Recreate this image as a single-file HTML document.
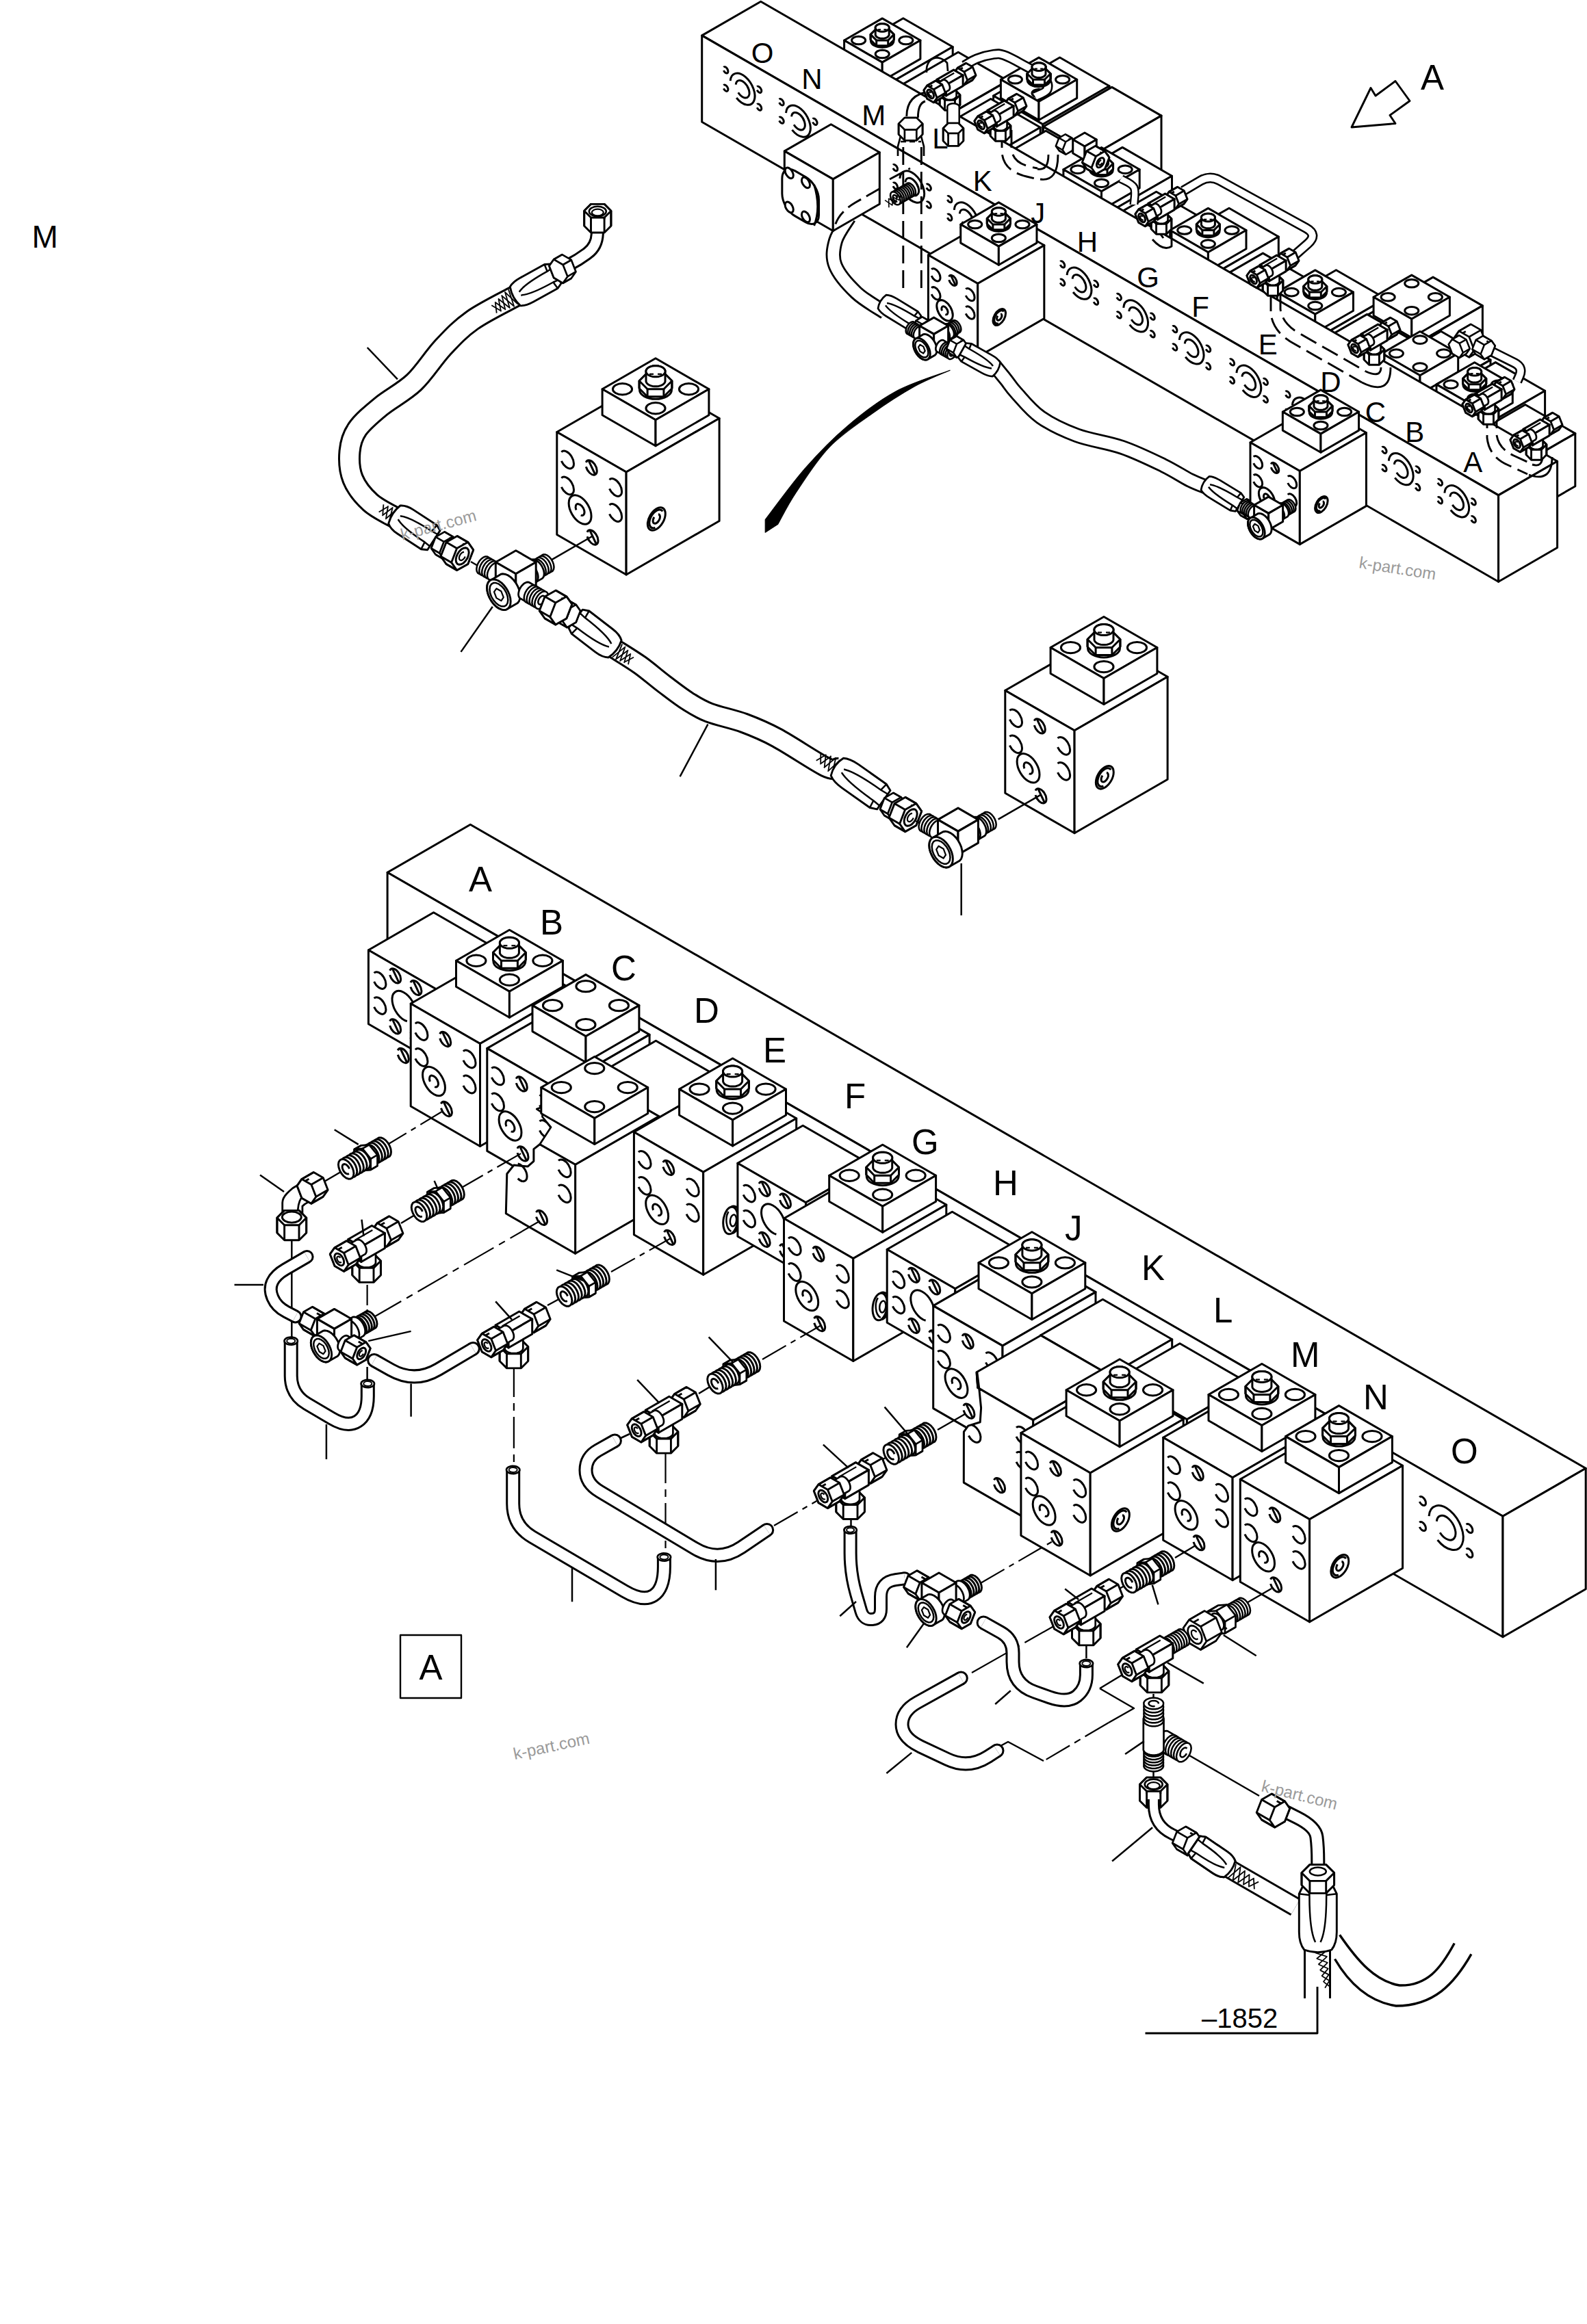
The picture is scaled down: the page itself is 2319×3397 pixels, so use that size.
<!DOCTYPE html>
<html><head><meta charset="utf-8"><title>Hydraulic manifold piping diagram</title>
<style>html,body{margin:0;padding:0;background:#fff}svg{display:block}text{font-family:"Liberation Sans",sans-serif;fill:#000;stroke:none}svg *{vector-effect:non-scaling-stroke}</style></head>
<body>
<svg width="2319" height="3397" viewBox="0 0 2319 3397" fill="#fff" stroke="#000" stroke-width="3" stroke-linejoin="round" stroke-linecap="butt">
<defs><g id="bf"><path d="M7.6 25.4A11.5 11.5 0 1 1 7.6 38.6" fill="none" vector-effect="non-scaling-stroke"/><path d="M7.6 63.4A11.5 11.5 0 1 1 7.6 76.6" fill="none" vector-effect="non-scaling-stroke"/><path d="M88.6 25.4A11.5 11.5 0 1 1 88.6 38.6" fill="none" vector-effect="non-scaling-stroke"/><path d="M88.6 62.4A11.5 11.5 0 1 1 88.6 75.6" fill="none" vector-effect="non-scaling-stroke"/><path d="M49.1 19.8A9.5 9.5 0 1 1 49.1 26.2" fill="none" vector-effect="non-scaling-stroke"/><path d="M54 15.6L64 29" fill="none" vector-effect="non-scaling-stroke"/><path d="M51.1 120.8A9.5 9.5 0 1 1 51.1 127.2" fill="none" vector-effect="non-scaling-stroke"/><path d="M56 116.6L66 130" fill="none" vector-effect="non-scaling-stroke"/><circle cx="39" cy="94" r="19" fill="#fff" vector-effect="non-scaling-stroke"/><path d="M32.5 97.8A7.5 7.5 0 1 1 40.3 101.4" fill="none" vector-effect="non-scaling-stroke"/></g><g id="br"><circle cx="51" cy="94" r="15" fill="#fff" vector-effect="non-scaling-stroke"/><path d="M48.9 105.8A12 12 0 1 1 61.4 88" fill="none" vector-effect="non-scaling-stroke"/><path d="M54 88.8A6 6 0 1 1 47.1 89.4" fill="none" vector-effect="non-scaling-stroke"/></g><g id="c3"><circle cx="17" cy="17" r="11.5" fill="none" vector-effect="non-scaling-stroke"/><circle cx="73" cy="73" r="11.5" fill="none" vector-effect="non-scaling-stroke"/><circle cx="73" cy="17" r="11.5" fill="none" vector-effect="non-scaling-stroke"/></g><g id="c4"><circle cx="17" cy="17" r="11.5" fill="none" vector-effect="non-scaling-stroke"/><circle cx="73" cy="73" r="11.5" fill="none" vector-effect="non-scaling-stroke"/><circle cx="73" cy="17" r="11.5" fill="none" vector-effect="non-scaling-stroke"/><circle cx="17" cy="73" r="11.5" fill="none" vector-effect="non-scaling-stroke"/></g><g id="ff"><path d="M9.5 28.7A11 11 0 1 1 9.5 41.3" fill="none" vector-effect="non-scaling-stroke"/><path d="M9.5 65.7A11 11 0 1 1 9.5 78.3" fill="none" vector-effect="non-scaling-stroke"/><path d="M36.1 11.8A9.5 9.5 0 1 1 36.1 18.2" fill="none" vector-effect="non-scaling-stroke"/><path d="M41 7.6L51 21" fill="none" vector-effect="non-scaling-stroke"/><path d="M71.1 11.8A9.5 9.5 0 1 1 71.1 18.2" fill="none" vector-effect="non-scaling-stroke"/><path d="M76 7.6L86 21" fill="none" vector-effect="non-scaling-stroke"/><path d="M36.1 85.8A9.5 9.5 0 1 1 36.1 92.2" fill="none" vector-effect="non-scaling-stroke"/><path d="M41 81.6L51 95" fill="none" vector-effect="non-scaling-stroke"/><path d="M71.1 85.8A9.5 9.5 0 1 1 71.1 92.2" fill="none" vector-effect="non-scaling-stroke"/><path d="M76 81.6L86 95" fill="none" vector-effect="non-scaling-stroke"/><path d="M65.2 71.3A20 20 0 1 1 79.9 53.7" fill="none" vector-effect="non-scaling-stroke"/></g><g id="ps"><path d="M-28.9 -2.5A29 29 0 1 1 -14.5 25.1" fill="none"/><path d="M-15.9 -1.4A16 16 0 1 1 -10.3 12.3" fill="none"/><path d="M-44.8 -22.3A5.8 5.8 0 1 1 -44.8 -15.7" fill="none" vector-effect="non-scaling-stroke"/><path d="M-44.8 14.7A5.8 5.8 0 1 1 -44.8 21.3" fill="none" vector-effect="non-scaling-stroke"/><path d="M34.2 -21.8A5.8 5.8 0 1 1 34.2 -15.2" fill="none" vector-effect="non-scaling-stroke"/><path d="M34.2 14.2A5.8 5.8 0 1 1 34.2 20.8" fill="none" vector-effect="non-scaling-stroke"/></g></defs>
<rect x="0" y="0" width="2319" height="3397" fill="#fff" stroke="none"/>
<polygon points="566.1,1275.3 2196,2216.3 2317.2,2146.3 687.3,1205.3"/>
<polygon points="566.1,1275.3 2196,2216.3 2196,2392.8 566.1,1451.8"/>
<polygon points="2196,2216.3 2317.2,2146.3 2317.2,2322.8 2196,2392.8"/>
<polygon points="538.4,1388.8 640.6,1447.8 735.8,1392.8 633.6,1333.8"/>
<polygon points="538.4,1388.8 640.6,1447.8 640.6,1555.8 538.4,1496.8"/>
<polygon points="640.6,1447.8 735.8,1392.8 735.8,1500.8 640.6,1555.8"/>
<use href="#ff" transform="matrix(0.866 0.5 0 1 538.3872 1388.8)"/>
<g transform="matrix(0.866 0.5 0 1 589 1543)"><path d="M-8.9 -3.2A9.5 9.5 0 1 1 -8.9 3.2" fill="none" vector-effect="non-scaling-stroke"/><path d="M-4 -7.4L6 6" fill="none" vector-effect="non-scaling-stroke"/></g>
<polygon points="600.2,1467 701.5,1525.5 837.5,1447 736.2,1388.5"/>
<polygon points="600.2,1467 701.5,1525.5 701.5,1675.5 600.2,1617"/>
<polygon points="701.5,1525.5 837.5,1447 837.5,1597 701.5,1675.5"/>
<use href="#bf" transform="matrix(0.866 0.5 0 1 600.2214 1467)"/>
<polygon points="666.5,1404.2 744.4,1449.2 822.4,1404.2 744.4,1359.2"/>
<polygon points="666.5,1404.2 744.4,1449.2 744.4,1487.2 666.5,1442.2"/>
<polygon points="744.4,1449.2 822.4,1404.2 822.4,1442.2 744.4,1487.2"/>
<use href="#c3" transform="matrix(0.866 0.5 0.866 -0.5 666.4723 1404.25)"/>
<ellipse cx="744.4" cy="1405.2" rx="23.5" ry="13.5"/>
<polygon points="720.5,1392.2 732.5,1380.3 756.4,1380.3 768.3,1392.2 768.3,1403.2 756.4,1415.2 732.5,1415.2 720.5,1403.2"/>
<path d="M768.3 1403.2L768.3 1392.2"/>
<path d="M720.5 1403.2L720.5 1392.2"/>
<path d="M732.5 1415.2L732.5 1404.2"/>
<path d="M756.4 1415.2L756.4 1404.2"/>
<polygon points="768.3,1392.2 756.4,1380.3 732.5,1380.3 720.5,1392.2 732.5,1404.2 756.4,1404.2"/>
<polygon points="730.4,1377.3 731.1,1375.6 732.5,1373.9 734.5,1372.5 736.9,1371.4 739.8,1370.6 742.8,1370.2 746,1370.2 749.1,1370.6 751.9,1371.4 754.4,1372.5 756.3,1373.9 757.7,1375.6 758.4,1377.3 758.4,1393.2 757.7,1394.9 756.3,1396.6 754.4,1398 751.9,1399.1 749.1,1399.9 746,1400.3 742.8,1400.3 739.8,1399.9 736.9,1399.1 734.5,1398 732.5,1396.6 731.1,1394.9 730.4,1393.2"/>
<polygon points="754.4,1384 756.3,1382.6 757.7,1380.9 758.4,1379.2 758.4,1377.3 757.7,1375.6 756.3,1373.9 754.4,1372.5 751.9,1371.4 749.1,1370.6 746,1370.2 742.8,1370.2 739.8,1370.6 736.9,1371.4 734.5,1372.5 732.5,1373.9 731.1,1375.6 730.4,1377.3 730.4,1379.2 731.1,1380.9 732.5,1382.6 734.5,1384 736.9,1385.1 739.8,1385.9 742.8,1386.3 746,1386.3 749.1,1385.9 751.9,1385.1"/>
<path d="M735.4 1382.2L741.4 1382.2" stroke-width="2.2"/>
<path d="M747.4 1382.2L753.4 1382.2" stroke-width="2.2"/>
<polygon points="711.8,1532.4 813.1,1590.9 949.1,1512.4 847.7,1453.9"/>
<polygon points="711.8,1532.4 813.1,1590.9 813.1,1740.9 711.8,1682.4"/>
<polygon points="813.1,1590.9 949.1,1512.4 949.1,1662.4 813.1,1740.9"/>
<use href="#bf" transform="matrix(0.866 0.5 0 1 711.7655 1532.4)"/>
<polygon points="778,1469.6 856,1514.7 933.9,1469.6 856,1424.6"/>
<polygon points="778,1469.6 856,1514.7 856,1552.7 778,1507.6"/>
<polygon points="856,1514.7 933.9,1469.6 933.9,1507.6 856,1552.7"/>
<use href="#c4" transform="matrix(0.866 0.5 0.866 -0.5 778.0164 1469.65)"/>
<polygon points="864.9,1575.3 964.5,1632.8 1058,1578.8 958.4,1521.3"/>
<polygon points="864.9,1575.3 964.5,1632.8 964.5,1739.8 864.9,1682.3"/>
<polygon points="964.5,1632.8 1058,1578.8 1058,1685.8 964.5,1739.8"/>
<polygon points="840.6,1702.3 962.7,1631.8 962.7,1761.8 840.6,1832.3"/>
<polygon points="788.7,1672.8 840.6,1702.3 962.7,1631.8 869.2,1628.8 792.5,1632.5 805.1,1647.6" stroke="none"/>
<polyline points="788.7,1672.8 840.6,1702.3 962.7,1631.8" fill="none"/>
<polyline points="788.7,1672.8 805.1,1647.6 792.5,1632.5 792.5,1626.7 784.2,1621.1 795.8,1616.9" fill="none" stroke-width="2.7"/>
<polygon points="740.8,1715.7 750.9,1703.1 771.1,1705.1 779.9,1697.3 779.9,1679.6 788.7,1672.8 840.6,1702.3 840.6,1832.3 739.3,1773.8"/>
<g transform="matrix(0.866 0.5 0 1 739.3051 1643.8)"><path d="M88.6 8.4A11.5 11.5 0 1 1 88.6 21.6" fill="none" vector-effect="non-scaling-stroke"/><path d="M88.6 45.4A11.5 11.5 0 1 1 88.6 58.6" fill="none" vector-effect="non-scaling-stroke"/><path d="M51.1 102.8A9.5 9.5 0 1 1 51.1 109.2" fill="none" vector-effect="non-scaling-stroke"/><path d="M56 98.6L66 112" fill="none" vector-effect="non-scaling-stroke"/><path d="M20.1 47.2A11.5 11.5 0 1 1 20.1 68.8" fill="none" vector-effect="non-scaling-stroke"/></g>
<polygon points="790.8,1589.5 868.8,1634.5 946.7,1589.5 868.8,1544.5"/>
<polygon points="790.8,1589.5 868.8,1634.5 868.8,1672.5 790.8,1627.5"/>
<polygon points="868.8,1634.5 946.7,1589.5 946.7,1627.5 868.8,1672.5"/>
<use href="#c4" transform="matrix(0.866 0.5 0.866 -0.5 790.8336 1589.55)"/>
<polygon points="926.4,1654.8 1027.7,1713.3 1163.7,1634.8 1062.3,1576.3"/>
<polygon points="926.4,1654.8 1027.7,1713.3 1027.7,1863.3 926.4,1804.8"/>
<polygon points="1027.7,1713.3 1163.7,1634.8 1163.7,1784.8 1027.7,1863.3"/>
<use href="#bf" transform="matrix(0.866 0.5 0 1 926.3666 1654.8)"/>
<polygon points="992.6,1592 1070.6,1637 1148.5,1592 1070.6,1547"/>
<polygon points="992.6,1592 1070.6,1637 1070.6,1675 992.6,1630"/>
<polygon points="1070.6,1637 1148.5,1592 1148.5,1630 1070.6,1675"/>
<use href="#c3" transform="matrix(0.866 0.5 0.866 -0.5 992.6175 1592.05)"/>
<ellipse cx="1070.6" cy="1593" rx="23.5" ry="13.5"/>
<polygon points="1046.7,1580 1058.6,1568.1 1082.5,1568.1 1094.4,1580 1094.4,1591 1082.5,1603 1058.6,1603 1046.7,1591"/>
<path d="M1094.4 1591L1094.4 1580"/>
<path d="M1046.7 1591L1046.7 1580"/>
<path d="M1058.6 1603L1058.6 1592"/>
<path d="M1082.5 1603L1082.5 1592"/>
<polygon points="1094.4,1580 1082.5,1568.1 1058.6,1568.1 1046.7,1580 1058.6,1592 1082.5,1592"/>
<polygon points="1056.6,1565.1 1057.3,1563.4 1058.6,1561.7 1060.6,1560.3 1063.1,1559.2 1065.9,1558.4 1069,1558 1072.1,1558 1075.2,1558.4 1078,1559.2 1080.5,1560.3 1082.5,1561.7 1083.8,1563.4 1084.6,1565.1 1084.6,1581 1083.8,1582.7 1082.5,1584.4 1080.5,1585.8 1078,1586.9 1075.2,1587.7 1072.1,1588.1 1069,1588.1 1065.9,1587.7 1063.1,1586.9 1060.6,1585.8 1058.6,1584.4 1057.3,1582.7 1056.6,1581"/>
<polygon points="1080.5,1571.8 1082.5,1570.4 1083.9,1568.7 1084.6,1567 1084.6,1565.1 1083.9,1563.4 1082.5,1561.7 1080.5,1560.3 1078.1,1559.2 1075.2,1558.4 1072.1,1558 1069,1558 1065.9,1558.4 1063.1,1559.2 1060.6,1560.3 1058.6,1561.7 1057.3,1563.4 1056.6,1565.1 1056.6,1567 1057.3,1568.7 1058.6,1570.4 1060.6,1571.8 1063.1,1572.9 1065.9,1573.7 1069,1574.1 1072.1,1574.1 1075.2,1573.7 1078.1,1572.9"/>
<path d="M1061.6 1570L1067.6 1570" stroke-width="2.2"/>
<path d="M1073.6 1570L1079.6 1570" stroke-width="2.2"/>
<ellipse cx="1070.5" cy="1783" rx="11" ry="20" transform="rotate(8 1070.5 1783)"/>
<ellipse cx="1067.5" cy="1784" rx="10.5" ry="20" transform="rotate(8 1067.5 1784)"/>
<path d="M1064.5 1771C1059.5 1779 1060.5 1796 1068.5 1800" fill="none" stroke-width="2.5"/>
<ellipse cx="1071.5" cy="1784" rx="4.5" ry="8.5" stroke-width="2.5" transform="rotate(8 1071.5 1784)"/>
<polygon points="1077.9,1700.3 1177.5,1757.8 1272.8,1702.8 1173.2,1645.3"/>
<polygon points="1077.9,1700.3 1177.5,1757.8 1177.5,1864.8 1077.9,1807.3"/>
<polygon points="1177.5,1757.8 1272.8,1702.8 1272.8,1809.8 1177.5,1864.8"/>
<use href="#ff" transform="matrix(0.866 0.5 0 1 1077.921 1700.3)"/>
<polygon points="1145.5,1781 1246.8,1839.5 1382.8,1761 1281.4,1702.5"/>
<polygon points="1145.5,1781 1246.8,1839.5 1246.8,1989.5 1145.5,1931"/>
<polygon points="1246.8,1839.5 1382.8,1761 1382.8,1911 1246.8,1989.5"/>
<use href="#bf" transform="matrix(0.866 0.5 0 1 1145.471 1781)"/>
<polygon points="1211.7,1718.2 1289.7,1763.2 1367.6,1718.2 1289.7,1673.2"/>
<polygon points="1211.7,1718.2 1289.7,1763.2 1289.7,1801.2 1211.7,1756.2"/>
<polygon points="1289.7,1763.2 1367.6,1718.2 1367.6,1756.2 1289.7,1801.2"/>
<use href="#c3" transform="matrix(0.866 0.5 0.866 -0.5 1211.7219 1718.25)"/>
<ellipse cx="1289.7" cy="1719.2" rx="23.5" ry="13.5"/>
<polygon points="1265.8,1706.2 1277.7,1694.3 1301.6,1694.3 1313.5,1706.2 1313.5,1717.2 1301.6,1729.2 1277.7,1729.2 1265.8,1717.2"/>
<path d="M1313.5 1717.2L1313.5 1706.2"/>
<path d="M1265.8 1717.2L1265.8 1706.2"/>
<path d="M1277.7 1729.2L1277.7 1718.2"/>
<path d="M1301.6 1729.2L1301.6 1718.2"/>
<polygon points="1313.5,1706.2 1301.6,1694.3 1277.7,1694.3 1265.8,1706.2 1277.7,1718.2 1301.6,1718.2"/>
<polygon points="1275.7,1691.3 1276.4,1689.6 1277.7,1687.9 1279.7,1686.5 1282.2,1685.4 1285,1684.6 1288.1,1684.2 1291.2,1684.2 1294.3,1684.6 1297.2,1685.4 1299.6,1686.5 1301.6,1687.9 1303,1689.6 1303.7,1691.3 1303.7,1707.2 1303,1708.9 1301.6,1710.6 1299.6,1712 1297.2,1713.1 1294.3,1713.9 1291.2,1714.3 1288.1,1714.3 1285,1713.9 1282.2,1713.1 1279.7,1712 1277.7,1710.6 1276.4,1708.9 1275.7,1707.2"/>
<polygon points="1299.6,1698 1301.6,1696.6 1303,1694.9 1303.7,1693.2 1303.7,1691.3 1303,1689.6 1301.6,1687.9 1299.6,1686.5 1297.2,1685.4 1294.3,1684.6 1291.2,1684.2 1288.1,1684.2 1285,1684.6 1282.2,1685.4 1279.7,1686.5 1277.7,1687.9 1276.4,1689.6 1275.7,1691.3 1275.7,1693.2 1276.4,1694.9 1277.7,1696.6 1279.7,1698 1282.2,1699.1 1285,1699.9 1288.1,1700.3 1291.2,1700.3 1294.3,1699.9 1297.2,1699.1"/>
<path d="M1280.7 1696.2L1286.7 1696.2" stroke-width="2.2"/>
<path d="M1292.7 1696.2L1298.7 1696.2" stroke-width="2.2"/>
<ellipse cx="1288.8" cy="1909" rx="11" ry="20" transform="rotate(8 1288.8 1909)"/>
<ellipse cx="1285.8" cy="1910" rx="10.5" ry="20" transform="rotate(8 1285.8 1910)"/>
<path d="M1282.8 1897C1277.8 1905 1278.8 1922 1286.8 1926" fill="none" stroke-width="2.5"/>
<ellipse cx="1289.8" cy="1910" rx="4.5" ry="8.5" stroke-width="2.5" transform="rotate(8 1289.8 1910)"/>
<polygon points="1296.2,1826.3 1395.8,1883.8 1491,1828.8 1391.4,1771.3"/>
<polygon points="1296.2,1826.3 1395.8,1883.8 1395.8,1990.8 1296.2,1933.3"/>
<polygon points="1395.8,1883.8 1491,1828.8 1491,1935.8 1395.8,1990.8"/>
<use href="#ff" transform="matrix(0.866 0.5 0 1 1296.1594 1826.3)"/>
<polygon points="1363.7,1908.6 1465,1967.1 1601,1888.6 1499.7,1830.1"/>
<polygon points="1363.7,1908.6 1465,1967.1 1465,2117.1 1363.7,2058.6"/>
<polygon points="1465,1967.1 1601,1888.6 1601,2038.6 1465,2117.1"/>
<use href="#bf" transform="matrix(0.866 0.5 0 1 1363.7094 1908.6)"/>
<polygon points="1430,1845.8 1507.9,1890.8 1585.8,1845.8 1507.9,1800.8"/>
<polygon points="1430,1845.8 1507.9,1890.8 1507.9,1928.8 1430,1883.8"/>
<polygon points="1507.9,1890.8 1585.8,1845.8 1585.8,1883.8 1507.9,1928.8"/>
<use href="#c3" transform="matrix(0.866 0.5 0.866 -0.5 1429.9603 1845.85)"/>
<ellipse cx="1507.9" cy="1846.8" rx="23.5" ry="13.5"/>
<polygon points="1484,1833.8 1496,1821.9 1519.8,1821.9 1531.8,1833.8 1531.8,1844.8 1519.8,1856.8 1496,1856.8 1484,1844.8"/>
<path d="M1531.8 1844.8L1531.8 1833.8"/>
<path d="M1484 1844.8L1484 1833.8"/>
<path d="M1496 1856.8L1496 1845.8"/>
<path d="M1519.8 1856.8L1519.8 1845.8"/>
<polygon points="1531.8,1833.8 1519.8,1821.9 1496,1821.9 1484,1833.8 1496,1845.8 1519.8,1845.8"/>
<polygon points="1493.9,1818.9 1494.6,1817.2 1496,1815.5 1497.9,1814.1 1500.4,1813 1503.2,1812.2 1506.3,1811.8 1509.5,1811.8 1512.5,1812.2 1515.4,1813 1517.9,1814.1 1519.8,1815.5 1521.2,1817.2 1521.9,1818.9 1521.9,1834.8 1521.2,1836.5 1519.8,1838.2 1517.9,1839.6 1515.4,1840.7 1512.5,1841.5 1509.5,1841.9 1506.3,1841.9 1503.2,1841.5 1500.4,1840.7 1497.9,1839.6 1496,1838.2 1494.6,1836.5 1493.9,1834.8"/>
<polygon points="1517.9,1825.6 1519.8,1824.2 1521.2,1822.5 1521.9,1820.8 1521.9,1818.9 1521.2,1817.2 1519.8,1815.5 1517.9,1814.1 1515.4,1813 1512.6,1812.2 1509.5,1811.8 1506.3,1811.8 1503.3,1812.2 1500.4,1813 1497.9,1814.1 1496,1815.5 1494.6,1817.2 1493.9,1818.9 1493.9,1820.8 1494.6,1822.5 1496,1824.2 1497.9,1825.6 1500.4,1826.7 1503.3,1827.5 1506.3,1827.9 1509.5,1827.9 1512.6,1827.5 1515.4,1826.7"/>
<path d="M1498.9 1823.8L1504.9 1823.8" stroke-width="2.2"/>
<path d="M1510.9 1823.8L1516.9 1823.8" stroke-width="2.2"/>
<polygon points="1520.5,1951.8 1621.8,2010.3 1712.7,1957.8 1611.4,1899.3"/>
<polygon points="1520.5,1951.8 1621.8,2010.3 1621.8,2117.3 1520.5,2058.8"/>
<polygon points="1621.8,2010.3 1712.7,1957.8 1712.7,2064.8 1621.8,2117.3"/>
<polygon points="1509.6,2075.6 1622.2,2010.5 1622.2,2160.6 1509.6,2225.6"/>
<polygon points="1427,2005.8 1428.7,2028.4 1509.6,2075.6 1622.2,2010.5 1520.9,1952"/>
<polygon points="1408.4,2092.8 1414.8,2084.1 1432.2,2078.8 1433.6,2058 1430.7,2029 1427.8,2005.8 1428.7,2028.4 1509.6,2075.6 1509.6,2225.6 1408.3,2167.1"/>
<polyline points="1428.7,2028.4 1427,2005.8" fill="none" stroke-width="2.7"/>
<g transform="matrix(0.866 0.5 0 1 1408.3097 2017.05)"><path d="M13.1 59.2A11.5 11.5 0 1 1 8.2 77.4" fill="none" vector-effect="non-scaling-stroke"/><path d="M88.6 25.4A11.5 11.5 0 1 1 88.6 38.6" fill="none" vector-effect="non-scaling-stroke"/><path d="M88.6 62.4A11.5 11.5 0 1 1 88.6 75.6" fill="none" vector-effect="non-scaling-stroke"/><path d="M51.1 120.8A9.5 9.5 0 1 1 51.1 127.2" fill="none" vector-effect="non-scaling-stroke"/><path d="M56 116.6L66 130" fill="none" vector-effect="non-scaling-stroke"/></g>
<polygon points="1633,2016.3 1734.4,2074.8 1825.3,2022.3 1724,1963.8"/>
<polygon points="1633,2016.3 1734.4,2074.8 1734.4,2181.8 1633,2123.3"/>
<polygon points="1734.4,2074.8 1825.3,2022.3 1825.3,2129.3 1734.4,2181.8"/>
<polygon points="1491.9,2094.5 1593.2,2153 1729.2,2074.5 1627.8,2016"/>
<polygon points="1491.9,2094.5 1593.2,2153 1593.2,2303 1491.9,2244.5"/>
<polygon points="1593.2,2153 1729.2,2074.5 1729.2,2224.5 1593.2,2303"/>
<use href="#bf" transform="matrix(0.866 0.5 0 1 1491.8812 2094.5)"/>
<use href="#br" transform="matrix(0.866 -0.5 0 1 1593.2061 2153)"/>
<polygon points="1558.1,2031.8 1636.1,2076.8 1714,2031.8 1636.1,1986.8"/>
<polygon points="1558.1,2031.8 1636.1,2076.8 1636.1,2114.8 1558.1,2069.8"/>
<polygon points="1636.1,2076.8 1714,2031.8 1714,2069.8 1636.1,2114.8"/>
<use href="#c3" transform="matrix(0.866 0.5 0.866 -0.5 1558.1321 2031.75)"/>
<ellipse cx="1636.1" cy="2032.8" rx="23.5" ry="13.5"/>
<polygon points="1612.2,2019.8 1624.1,2007.8 1648,2007.8 1660,2019.8 1660,2030.8 1648,2042.7 1624.1,2042.7 1612.2,2030.8"/>
<path d="M1660 2030.8L1660 2019.8"/>
<path d="M1612.2 2030.8L1612.2 2019.8"/>
<path d="M1624.1 2042.7L1624.1 2031.7"/>
<path d="M1648 2042.7L1648 2031.7"/>
<polygon points="1660,2019.8 1648,2007.8 1624.1,2007.8 1612.2,2019.8 1624.1,2031.7 1648,2031.7"/>
<polygon points="1622.1,2004.8 1622.8,2003.1 1624.2,2001.4 1626.1,2000 1628.6,1998.9 1631.4,1998.1 1634.5,1997.7 1637.7,1997.7 1640.7,1998.1 1643.6,1998.9 1646,2000 1648,2001.4 1649.4,2003.1 1650.1,2004.8 1650.1,2020.7 1649.4,2022.4 1648,2024.1 1646,2025.5 1643.6,2026.6 1640.7,2027.4 1637.7,2027.8 1634.5,2027.8 1631.4,2027.4 1628.6,2026.6 1626.1,2025.5 1624.2,2024.1 1622.8,2022.4 1622.1,2020.7"/>
<polygon points="1646,2011.5 1648,2010.1 1649.4,2008.4 1650.1,2006.7 1650.1,2004.8 1649.4,2003.1 1648,2001.4 1646,2000 1643.6,1998.9 1640.7,1998.1 1637.7,1997.7 1634.5,1997.7 1631.4,1998.1 1628.6,1998.9 1626.1,2000 1624.1,2001.4 1622.8,2003.1 1622.1,2004.8 1622.1,2006.7 1622.8,2008.4 1624.1,2010.1 1626.1,2011.5 1628.6,2012.6 1631.4,2013.4 1634.5,2013.8 1637.7,2013.8 1640.7,2013.4 1643.6,2012.6"/>
<path d="M1627.1 2009.8L1633.1 2009.8" stroke-width="2.2"/>
<path d="M1639.1 2009.8L1645.1 2009.8" stroke-width="2.2"/>
<polygon points="1699.7,2101.2 1801.1,2159.7 1937,2081.2 1835.7,2022.7"/>
<polygon points="1699.7,2101.2 1801.1,2159.7 1801.1,2309.7 1699.7,2251.2"/>
<polygon points="1801.1,2159.7 1937,2081.2 1937,2231.2 1801.1,2309.7"/>
<use href="#bf" transform="matrix(0.866 0.5 0 1 1699.7272 2101.2)"/>
<polygon points="1766,2038.5 1843.9,2083.5 1921.9,2038.5 1843.9,1993.5"/>
<polygon points="1766,2038.5 1843.9,2083.5 1843.9,2121.5 1766,2076.5"/>
<polygon points="1843.9,2083.5 1921.9,2038.5 1921.9,2076.5 1843.9,2121.5"/>
<use href="#c3" transform="matrix(0.866 0.5 0.866 -0.5 1765.9782 2038.45)"/>
<ellipse cx="1843.9" cy="2039.5" rx="23.5" ry="13.5"/>
<polygon points="1820,2026.5 1832,2014.5 1855.9,2014.5 1867.8,2026.5 1867.8,2037.5 1855.9,2049.4 1832,2049.4 1820,2037.5"/>
<path d="M1867.8 2037.5L1867.8 2026.5"/>
<path d="M1820 2037.5L1820 2026.5"/>
<path d="M1832 2049.4L1832 2038.4"/>
<path d="M1855.9 2049.4L1855.9 2038.4"/>
<polygon points="1867.8,2026.5 1855.9,2014.5 1832,2014.5 1820,2026.5 1832,2038.4 1855.9,2038.4"/>
<polygon points="1829.9,2011.5 1830.6,2009.8 1832,2008.1 1834,2006.7 1836.4,2005.6 1839.3,2004.8 1842.3,2004.4 1845.5,2004.4 1848.6,2004.8 1851.4,2005.6 1853.9,2006.7 1855.8,2008.1 1857.2,2009.8 1857.9,2011.5 1857.9,2027.4 1857.2,2029.1 1855.8,2030.8 1853.9,2032.2 1851.4,2033.3 1848.6,2034.1 1845.5,2034.5 1842.3,2034.5 1839.3,2034.1 1836.4,2033.3 1834,2032.2 1832,2030.8 1830.6,2029.1 1829.9,2027.4"/>
<polygon points="1853.9,2018.2 1855.8,2016.8 1857.2,2015.1 1857.9,2013.4 1857.9,2011.5 1857.2,2009.8 1855.8,2008.1 1853.9,2006.7 1851.4,2005.6 1848.6,2004.8 1845.5,2004.4 1842.3,2004.4 1839.3,2004.8 1836.4,2005.6 1834,2006.7 1832,2008.1 1830.6,2009.8 1829.9,2011.5 1829.9,2013.4 1830.6,2015.1 1832,2016.8 1834,2018.2 1836.4,2019.3 1839.3,2020.1 1842.3,2020.5 1845.5,2020.5 1848.6,2020.1 1851.4,2019.3"/>
<path d="M1834.9 2016.5L1840.9 2016.5" stroke-width="2.2"/>
<path d="M1846.9 2016.5L1852.9 2016.5" stroke-width="2.2"/>
<polygon points="1812.3,2162.3 1913.6,2220.8 2049.6,2142.3 1948.3,2083.8"/>
<polygon points="1812.3,2162.3 1913.6,2220.8 1913.6,2370.8 1812.3,2312.3"/>
<polygon points="1913.6,2220.8 2049.6,2142.3 2049.6,2292.3 1913.6,2370.8"/>
<use href="#bf" transform="matrix(0.866 0.5 0 1 1812.3106 2162.3)"/>
<use href="#br" transform="matrix(0.866 -0.5 0 1 1913.6355 2220.8)"/>
<polygon points="1878.6,2099.6 1956.5,2144.6 2034.4,2099.6 1956.5,2054.6"/>
<polygon points="1878.6,2099.6 1956.5,2144.6 1956.5,2182.6 1878.6,2137.6"/>
<polygon points="1956.5,2144.6 2034.4,2099.6 2034.4,2137.6 1956.5,2182.6"/>
<use href="#c3" transform="matrix(0.866 0.5 0.866 -0.5 1878.5615 2099.55)"/>
<ellipse cx="1956.5" cy="2100.6" rx="23.5" ry="13.5"/>
<polygon points="1932.6,2087.6 1944.6,2075.6 1968.5,2075.6 1980.4,2087.6 1980.4,2098.6 1968.5,2110.5 1944.6,2110.5 1932.6,2098.6"/>
<path d="M1980.4 2098.6L1980.4 2087.6"/>
<path d="M1932.6 2098.6L1932.6 2087.6"/>
<path d="M1944.6 2110.5L1944.6 2099.5"/>
<path d="M1968.4 2110.5L1968.4 2099.5"/>
<polygon points="1980.4,2087.6 1968.4,2075.6 1944.6,2075.6 1932.6,2087.6 1944.6,2099.5 1968.4,2099.5"/>
<polygon points="1942.5,2072.6 1943.2,2070.9 1944.6,2069.2 1946.5,2067.8 1949,2066.7 1951.8,2065.9 1954.9,2065.5 1958.1,2065.5 1961.2,2065.9 1964,2066.7 1966.5,2067.8 1968.4,2069.2 1969.8,2070.9 1970.5,2072.6 1970.5,2088.5 1969.8,2090.2 1968.4,2091.9 1966.5,2093.3 1964,2094.4 1961.2,2095.2 1958.1,2095.6 1954.9,2095.6 1951.8,2095.2 1949,2094.4 1946.5,2093.3 1944.6,2091.9 1943.2,2090.2 1942.5,2088.5"/>
<polygon points="1966.5,2079.3 1968.4,2077.9 1969.8,2076.2 1970.5,2074.5 1970.5,2072.6 1969.8,2070.9 1968.4,2069.2 1966.5,2067.8 1964,2066.7 1961.2,2065.9 1958.1,2065.5 1954.9,2065.5 1951.9,2065.9 1949,2066.7 1946.5,2067.8 1944.6,2069.2 1943.2,2070.9 1942.5,2072.6 1942.5,2074.5 1943.2,2076.2 1944.6,2077.9 1946.5,2079.3 1949,2080.4 1951.9,2081.2 1954.9,2081.6 1958.1,2081.6 1961.2,2081.2 1964,2080.4"/>
<path d="M1947.5 2077.6L1953.5 2077.6" stroke-width="2.2"/>
<path d="M1959.5 2077.6L1965.5 2077.6" stroke-width="2.2"/>
<use href="#ps" transform="matrix(0.866 0.5 0 1 2113.1 2233.1)"/>
<text x="685" y="1303" font-size="51" text-anchor="start">A</text>
<text x="789" y="1365.5" font-size="51" text-anchor="start">B</text>
<text x="893" y="1433" font-size="51" text-anchor="start">C</text>
<text x="1014" y="1495" font-size="51" text-anchor="start">D</text>
<text x="1115" y="1553" font-size="51" text-anchor="start">E</text>
<text x="1234" y="1620" font-size="51" text-anchor="start">F</text>
<text x="1332" y="1686.5" font-size="51" text-anchor="start">G</text>
<text x="1451" y="1747" font-size="51" text-anchor="start">H</text>
<text x="1556" y="1813" font-size="51" text-anchor="start">J</text>
<text x="1668" y="1871" font-size="51" text-anchor="start">K</text>
<text x="1773" y="1933" font-size="51" text-anchor="start">L</text>
<text x="1886" y="1998" font-size="51" text-anchor="start">M</text>
<text x="1992" y="2060" font-size="51" text-anchor="start">N</text>
<text x="2120" y="2139" font-size="51" text-anchor="start">O</text>
<path d="M563 1675L652.2 1621" stroke-width="2.2" stroke-dasharray="36 8 8 8"/>
<path d="M474 1727L503 1710" stroke-width="2.5"/>
<path d="M671 1738L770 1681" stroke-width="2.2" stroke-dasharray="40 8 8 8"/>
<path d="M586 1788L611 1773" stroke-width="2.5"/>
<path d="M543 1927L792 1783" stroke-width="2.2" stroke-dasharray="50 9 10 9"/>
<path d="M426.3 1808L426.3 1958" stroke-width="2.5"/>
<path d="M536.6 1878L536.6 1925" stroke-width="2.2" stroke-dasharray="30 6 6 6"/>
<path d="M536.6 1998L536.6 2018" stroke-width="2.5"/>
<path d="M893 1859L980 1810" stroke-width="2.2" stroke-dasharray="40 8 8 8"/>
<path d="M800 1908L824 1895" stroke-width="2.5"/>
<path d="M750.9 1996L750.9 2142" stroke-width="2.2" stroke-dasharray="46 9 11 9"/>
<path d="M1114 1987L1200 1937" stroke-width="2.2" stroke-dasharray="40 8 8 8"/>
<path d="M1021 2037L1044 2023" stroke-width="2.5"/>
<path d="M905 2103L920 2096" stroke-width="2.5"/>
<path d="M972.5 2122L972.5 2272" stroke-width="2.2" stroke-dasharray="46 9 11 9"/>
<path d="M1370 2090L1410 2067" stroke-width="2.5"/>
<path d="M1290 2133L1303 2126" stroke-width="2.5"/>
<path d="M1131 2230L1195 2193" stroke-width="2.2" stroke-dasharray="40 8 8 8"/>
<path d="M1243.5 2216L1243.5 2232" stroke-width="2.5"/>
<path d="M1433 2314L1545 2249" stroke-width="2.2" stroke-dasharray="40 8 8 8"/>
<path d="M1717 2277L1747 2259" stroke-width="2.5"/>
<path d="M1636 2322L1650 2314" stroke-width="2.5"/>
<path d="M1420 2445L1545 2374" stroke-width="2.2" stroke-dasharray="60 9 11 9"/>
<path d="M1587.4 2404L1587.4 2424" stroke-width="2.5"/>
<path d="M1820 2344L1858 2322" stroke-width="2.5"/>
<path d="M1727 2396L1748 2385" stroke-width="2.5"/>
<path d="M1607 2468L1640 2448" stroke-width="2.5"/>
<polyline points="1607,2468 1657,2497 1620,2518" fill="none" stroke-width="2.5"/>
<path d="M1620 2518L1525 2574" stroke-width="2.2" stroke-dasharray="40 8 10 8"/>
<polyline points="1525,2574 1473,2546 1462,2552" fill="none" stroke-width="2.5"/>
<path d="M1685.5 2476L1685.5 2488" stroke-width="2.5"/>
<path d="M1685.5 2585L1685.5 2598" stroke-width="2.5"/>
<path d="M1738 2566L1840 2625" stroke-width="2.5"/>
<circle cx="448.6" cy="1837" r="8.5" stroke-width="3"/>
<circle cx="431.6" cy="1924.4" r="8.5" stroke-width="3"/>
<path d="M448.6 1837L416.8 1855.5Q403 1863.5 398 1873.8L398 1873.8Q393 1884 398.5 1897L398.5 1897Q404 1910 418.2 1917.4L431.6 1924.4" fill="none" stroke-width="20"/>
<path d="M448.6 1837L416.8 1855.5Q403 1863.5 398 1873.8L398 1873.8Q393 1884 398.5 1897L398.5 1897Q404 1910 418.2 1917.4L431.6 1924.4" fill="none" stroke="#fff" stroke-width="14"/>
<path d="M425.2 1960.1L425.2 2011Q425.2 2038 448.4 2051.8L484.8 2073.2Q508 2087 522.6 2077.5L522.6 2077.5Q537.3 2068 537.3 2041L537.3 2022.5" fill="none" stroke-width="21"/>
<path d="M425.2 1960.1L425.2 2011Q425.2 2038 448.4 2051.8L484.8 2073.2Q508 2087 522.6 2077.5L522.6 2077.5Q537.3 2068 537.3 2041L537.3 2022.5" fill="none" stroke="#fff" stroke-width="15"/>
<polygon points="432.1,1964.1 434.1,1962.5 434.9,1960.6 434.6,1958.6 433.2,1956.9 430.8,1955.5 427.7,1954.7 424.3,1954.5 421.1,1955 418.3,1956.1 416.3,1957.7 415.5,1959.6 415.8,1961.6 417.2,1963.3 419.6,1964.7 422.7,1965.5 426.1,1965.7 429.3,1965.2" stroke-width="2.7"/>
<polygon points="429.5,1962.6 430.9,1961.3 431.3,1959.7 430.4,1958.2 428.4,1957.1 425.9,1956.6 423.2,1956.8 420.9,1957.6 419.5,1958.9 419.1,1960.5 420,1962 422,1963.1 424.5,1963.6 427.2,1963.4" stroke-width="1.8"/>
<polygon points="544.2,2026.5 546.2,2024.9 547,2023 546.7,2021 545.3,2019.3 542.9,2017.9 539.8,2017.1 536.4,2016.9 533.2,2017.4 530.4,2018.5 528.4,2020.1 527.6,2022 527.9,2024 529.3,2025.7 531.7,2027.1 534.8,2027.9 538.2,2028.1 541.4,2027.6" stroke-width="2.7"/>
<polygon points="541.6,2025 543,2023.7 543.4,2022.1 542.5,2020.6 540.5,2019.5 538,2019 535.3,2019.2 533,2020 531.6,2021.3 531.2,2022.9 532.1,2024.4 534.1,2025.5 536.6,2026 539.3,2025.8" stroke-width="1.8"/>
<circle cx="546.7" cy="1988.5" r="9" stroke-width="3"/>
<circle cx="691.3" cy="1971.5" r="9" stroke-width="3"/>
<path d="M546.7 1988.5L571.2 2002.3Q606 2022 640.4 2001.6L691.3 1971.5" fill="none" stroke-width="21"/>
<path d="M546.7 1988.5L571.2 2002.3Q606 2022 640.4 2001.6L691.3 1971.5" fill="none" stroke="#fff" stroke-width="15"/>
<path d="M749.7 2148.5L749.7 2198Q749.7 2230 777.3 2246.2L912.4 2325.8Q940 2342 955.2 2332L955.2 2332Q970.4 2322 970.4 2290L970.4 2276" fill="none" stroke-width="21"/>
<path d="M749.7 2148.5L749.7 2198Q749.7 2230 777.3 2246.2L912.4 2325.8Q940 2342 955.2 2332L955.2 2332Q970.4 2322 970.4 2290L970.4 2276" fill="none" stroke="#fff" stroke-width="15"/>
<polygon points="756.6,2152.5 758.6,2150.9 759.4,2149 759.1,2147 757.7,2145.3 755.3,2143.9 752.2,2143.1 748.8,2142.9 745.6,2143.4 742.8,2144.5 740.8,2146.1 740,2148 740.3,2150 741.7,2151.7 744.1,2153.1 747.2,2153.9 750.6,2154.1 753.8,2153.6" stroke-width="2.7"/>
<polygon points="754,2151 755.4,2149.7 755.8,2148.1 754.9,2146.6 752.9,2145.5 750.4,2145 747.7,2145.2 745.4,2146 744,2147.3 743.6,2148.9 744.5,2150.4 746.5,2151.5 749,2152 751.7,2151.8" stroke-width="1.8"/>
<polygon points="977.3,2280 979.3,2278.4 980.1,2276.5 979.8,2274.5 978.4,2272.8 976,2271.4 972.9,2270.6 969.5,2270.4 966.3,2270.9 963.5,2272 961.5,2273.6 960.7,2275.5 961,2277.5 962.4,2279.2 964.8,2280.6 967.9,2281.4 971.3,2281.6 974.5,2281.1" stroke-width="2.7"/>
<polygon points="974.7,2278.5 976.1,2277.2 976.5,2275.6 975.6,2274.1 973.6,2273 971.1,2272.5 968.4,2272.7 966.1,2273.5 964.7,2274.8 964.3,2276.4 965.2,2277.9 967.2,2279 969.7,2279.5 972.4,2279.3" stroke-width="1.8"/>
<circle cx="898.4" cy="2106" r="9" stroke-width="3"/>
<circle cx="1120.7" cy="2236.4" r="9" stroke-width="3"/>
<path d="M898.4 2106L873.4 2120.1Q856 2130 856 2149L856 2149Q856 2168 876.6 2180.3L1015.7 2263.5Q1050 2284 1083.2 2261.7L1120.7 2236.4" fill="none" stroke-width="21"/>
<path d="M898.4 2106L873.4 2120.1Q856 2130 856 2149L856 2149Q856 2168 876.6 2180.3L1015.7 2263.5Q1050 2284 1083.2 2261.7L1120.7 2236.4" fill="none" stroke="#fff" stroke-width="15"/>
<circle cx="1322" cy="2307.3" r="8.5" stroke-width="3"/>
<path d="M1242.6 2236.4L1242.6 2270Q1242.6 2300 1250.8 2328.8L1258.2 2354.5Q1262 2368 1274.5 2367L1274.5 2367Q1287 2366 1287 2352L1287 2334Q1287 2312 1308.8 2309.1L1322 2307.3" fill="none" stroke-width="20"/>
<path d="M1242.6 2236.4L1242.6 2270Q1242.6 2300 1250.8 2328.8L1258.2 2354.5Q1262 2368 1274.5 2367L1274.5 2367Q1287 2366 1287 2352L1287 2334Q1287 2312 1308.8 2309.1L1322 2307.3" fill="none" stroke="#fff" stroke-width="14"/>
<polygon points="1249.2,2240.2 1251,2238.7 1251.8,2236.9 1251.5,2235 1250.2,2233.3 1247.9,2232 1245,2231.2 1241.8,2231.1 1238.7,2231.6 1236,2232.6 1234.2,2234.1 1233.4,2235.9 1233.7,2237.8 1235,2239.5 1237.3,2240.8 1240.2,2241.6 1243.4,2241.7 1246.5,2241.2" stroke-width="2.7"/>
<polygon points="1246.6,2238.7 1247.9,2237.5 1248.2,2236 1247.3,2234.7 1245.6,2233.7 1243.2,2233.2 1240.8,2233.4 1238.6,2234.1 1237.3,2235.3 1237,2236.8 1237.9,2238.1 1239.6,2239.1 1242,2239.6 1244.4,2239.4" stroke-width="1.8"/>
<circle cx="1437.1" cy="2371.9" r="9" stroke-width="3"/>
<path d="M1437.1 2371.9L1462.6 2386.2Q1480 2396 1480 2416L1480 2429Q1480 2462 1512.1 2473.2L1533.6 2480.8Q1560 2490 1573.7 2479L1573.7 2479Q1587.4 2468 1587.4 2448L1587.4 2431.5" fill="none" stroke-width="21"/>
<path d="M1437.1 2371.9L1462.6 2386.2Q1480 2396 1480 2416L1480 2429Q1480 2462 1512.1 2473.2L1533.6 2480.8Q1560 2490 1573.7 2479L1573.7 2479Q1587.4 2468 1587.4 2448L1587.4 2431.5" fill="none" stroke="#fff" stroke-width="15"/>
<polygon points="1594.3,2435.5 1596.3,2433.9 1597.1,2432 1596.8,2430 1595.4,2428.3 1593,2426.9 1589.9,2426.1 1586.5,2425.9 1583.3,2426.4 1580.5,2427.5 1578.5,2429.1 1577.7,2431 1578,2433 1579.4,2434.7 1581.8,2436.1 1584.9,2436.9 1588.3,2437.1 1591.5,2436.6" stroke-width="2.7"/>
<polygon points="1591.7,2434 1593.1,2432.7 1593.5,2431.1 1592.6,2429.6 1590.6,2428.5 1588.1,2428 1585.4,2428.2 1583.1,2429 1581.7,2430.3 1581.3,2431.9 1582.2,2433.4 1584.2,2434.5 1586.7,2435 1589.4,2434.8" stroke-width="1.8"/>
<circle cx="1404.3" cy="2453" r="9" stroke-width="3"/>
<circle cx="1457" cy="2559" r="9" stroke-width="3"/>
<path d="M1404.3 2453L1340.7 2488.4Q1318 2501 1318 2520.5L1318 2520.5Q1318 2540 1345.1 2552.9L1384.3 2571.4Q1415 2586 1443.6 2567.6L1457 2559" fill="none" stroke-width="21"/>
<path d="M1404.3 2453L1340.7 2488.4Q1318 2501 1318 2520.5L1318 2520.5Q1318 2540 1345.1 2552.9L1384.3 2571.4Q1415 2586 1443.6 2567.6L1457 2559" fill="none" stroke="#fff" stroke-width="15"/>
<polygon points="571.5,1683.8 571,1687.5 569.4,1690.2 566.9,1691.6 563.7,1691.7 560.3,1690.3 556.8,1687.7 553.6,1684 551.2,1679.7 549.6,1675.1 549,1670.8 549.6,1667.1 551.2,1664.4 553.6,1663 556.8,1662.9 560.3,1664.3 563.7,1666.9 566.9,1670.6 569.4,1674.9 571,1679.5" stroke-width="2.9"/>
<polygon points="567.2,1686.3 566.6,1690 565,1692.7 562.5,1694.2 559.4,1694.2 555.9,1692.8 552.4,1690.2 549.3,1686.5 546.8,1682.2 545.2,1677.7 544.6,1673.3 545.2,1669.6 546.8,1666.9 549.3,1665.5 552.4,1665.4 555.9,1666.8 559.4,1669.5 562.5,1673.1 565,1677.4 566.6,1682" stroke-width="2.9"/>
<polygon points="562.8,1688.8 562.2,1692.5 560.6,1695.2 558.1,1696.7 555,1696.7 551.5,1695.3 548.1,1692.7 544.9,1689 542.4,1684.7 540.8,1680.2 540.3,1675.8 540.8,1672.1 542.4,1669.4 544.9,1668 548.1,1668 551.5,1669.3 555,1672 558.1,1675.6 560.6,1680 562.2,1684.5" stroke-width="2.9"/>
<polygon points="558.4,1691.4 557.9,1695.1 556.3,1697.8 553.8,1699.2 550.6,1699.2 547.2,1697.9 543.7,1695.2 540.5,1691.6 538.1,1687.2 536.5,1682.7 535.9,1678.4 536.5,1674.7 538.1,1672 540.5,1670.5 543.7,1670.5 547.2,1671.9 550.6,1674.5 553.8,1678.2 556.3,1682.5 557.9,1687" stroke-width="2.9"/>
<polygon points="554.1,1693.9 553.5,1697.6 551.9,1700.3 549.4,1701.7 546.3,1701.8 542.8,1700.4 539.3,1697.7 536.2,1694.1 533.7,1689.8 532.1,1685.2 531.5,1680.9 532.1,1677.2 533.7,1674.5 536.2,1673 539.3,1673 542.8,1674.4 546.3,1677 549.4,1680.7 551.9,1685 553.5,1689.5" stroke-width="2.9"/>
<polygon points="549.7,1696.4 549.1,1700.1 547.5,1702.8 545.1,1704.2 541.9,1704.3 538.4,1702.9 535,1700.3 531.8,1696.6 529.3,1692.3 527.7,1687.7 527.2,1683.4 527.7,1679.7 529.3,1677 531.8,1675.6 535,1675.5 538.4,1676.9 541.9,1679.5 545.1,1683.2 547.5,1687.5 549.1,1692.1" stroke-width="2.9"/>
<polygon points="517.7,1680 527.5,1674.3 539.5,1673.3 551.5,1688.2 551.5,1704.2 541.7,1709.9 529.7,1710.9 517.7,1696" stroke-width="2.7"/>
<path d="M551.5 1704.2L541.7 1709.9" stroke-width="2.7"/>
<path d="M527.5 1674.3L517.7 1680" stroke-width="2.7"/>
<path d="M539.5 1673.3L529.7 1678.9" stroke-width="2.7"/>
<path d="M551.5 1688.2L541.7 1693.9" stroke-width="2.7"/>
<polygon points="541.7,1709.9 529.7,1710.9 517.7,1696 517.7,1680 529.7,1678.9 541.7,1693.9" stroke-width="2.7"/>
<polygon points="541,1701.4 540.4,1705.1 538.8,1707.8 536.3,1709.3 533.2,1709.3 529.7,1707.9 526.2,1705.3 523.1,1701.6 520.6,1697.3 519,1692.8 518.4,1688.4 519,1684.7 520.6,1682 523.1,1680.6 526.2,1680.6 529.7,1681.9 533.2,1684.6 536.3,1688.2 538.8,1692.6 540.4,1697.1" stroke-width="2.9"/>
<polygon points="536.2,1704.2 535.6,1707.9 534,1710.6 531.5,1712 528.4,1712.1 524.9,1710.7 521.4,1708.1 518.3,1704.4 515.8,1700.1 514.2,1695.5 513.6,1691.2 514.2,1687.5 515.8,1684.8 518.3,1683.4 521.4,1683.3 524.9,1684.7 528.4,1687.4 531.5,1691 534,1695.3 535.6,1699.9" stroke-width="2.9"/>
<polygon points="531.4,1707 530.8,1710.7 529.2,1713.4 526.7,1714.8 523.6,1714.9 520.1,1713.5 516.6,1710.8 513.5,1707.2 511,1702.9 509.4,1698.3 508.8,1694 509.4,1690.3 511,1687.6 513.5,1686.1 516.6,1686.1 520.1,1687.5 523.6,1690.1 526.7,1693.8 529.2,1698.1 530.8,1702.6" stroke-width="2.9"/>
<polygon points="526.6,1709.8 526,1713.5 524.4,1716.2 521.9,1717.6 518.8,1717.6 515.3,1716.3 511.8,1713.6 508.7,1710 506.2,1705.6 504.6,1701.1 504,1696.8 504.6,1693.1 506.2,1690.4 508.7,1688.9 511.8,1688.9 515.3,1690.3 518.8,1692.9 521.9,1696.6 524.4,1700.9 526,1705.4" stroke-width="2.9"/>
<polygon points="521.8,1712.5 521.2,1716.2 519.6,1718.9 517.1,1720.4 514,1720.4 510.5,1719 507,1716.4 503.9,1712.7 501.4,1708.4 499.8,1703.9 499.2,1699.5 499.8,1695.8 501.4,1693.1 503.9,1691.7 507,1691.7 510.5,1693 514,1695.7 517.1,1699.3 519.6,1703.6 521.2,1708.2" stroke-width="2.9"/>
<polygon points="517,1715.3 516.4,1719 514.8,1721.7 512.3,1723.1 509.2,1723.2 505.7,1721.8 502.2,1719.2 499.1,1715.5 496.6,1711.2 495,1706.6 494.4,1702.3 495,1698.6 496.6,1695.9 499.1,1694.5 502.2,1694.4 505.7,1695.8 509.2,1698.4 512.3,1702.1 514.8,1706.4 516.4,1711" stroke-width="2.9"/>
<polyline points="510,1715.5 508.5,1716.1 506.5,1715.7 504.5,1714.5 502.6,1712.5 501.2,1710 500.3,1707.4 500.1,1705 500.6,1703.1 501.8,1701.9 503.5,1701.5 505.5,1702.2 507.5,1703.7 509.3,1705.8 510.6,1708.4" fill="none" stroke-width="2.9"/>
<polygon points="678.3,1746.2 677.8,1749.9 676.2,1752.6 673.7,1754 670.5,1754.1 667.1,1752.7 663.6,1750.1 660.4,1746.4 658,1742.1 656.4,1737.5 655.8,1733.2 656.4,1729.5 658,1726.8 660.4,1725.4 663.6,1725.3 667.1,1726.7 670.5,1729.3 673.7,1733 676.2,1737.3 677.8,1741.9" stroke-width="2.9"/>
<polygon points="674,1748.7 673.4,1752.4 671.8,1755.1 669.3,1756.6 666.2,1756.6 662.7,1755.2 659.2,1752.6 656.1,1748.9 653.6,1744.6 652,1740.1 651.4,1735.7 652,1732 653.6,1729.3 656.1,1727.9 659.2,1727.8 662.7,1729.2 666.2,1731.9 669.3,1735.5 671.8,1739.8 673.4,1744.4" stroke-width="2.9"/>
<polygon points="669.6,1751.2 669,1754.9 667.4,1757.6 664.9,1759.1 661.8,1759.1 658.3,1757.7 654.9,1755.1 651.7,1751.4 649.2,1747.1 647.6,1742.6 647.1,1738.2 647.6,1734.5 649.2,1731.8 651.7,1730.4 654.9,1730.4 658.3,1731.7 661.8,1734.4 664.9,1738 667.4,1742.4 669,1746.9" stroke-width="2.9"/>
<polygon points="665.2,1753.8 664.7,1757.5 663.1,1760.2 660.6,1761.6 657.4,1761.6 654,1760.3 650.5,1757.6 647.3,1754 644.9,1749.6 643.3,1745.1 642.7,1740.8 643.3,1737.1 644.9,1734.4 647.3,1732.9 650.5,1732.9 654,1734.3 657.4,1736.9 660.6,1740.6 663.1,1744.9 664.7,1749.4" stroke-width="2.9"/>
<polygon points="660.9,1756.3 660.3,1760 658.7,1762.7 656.2,1764.1 653.1,1764.2 649.6,1762.8 646.1,1760.1 643,1756.5 640.5,1752.2 638.9,1747.6 638.3,1743.3 638.9,1739.6 640.5,1736.9 643,1735.4 646.1,1735.4 649.6,1736.8 653.1,1739.4 656.2,1743.1 658.7,1747.4 660.3,1751.9" stroke-width="2.9"/>
<polygon points="656.5,1758.8 655.9,1762.5 654.3,1765.2 651.9,1766.6 648.7,1766.7 645.2,1765.3 641.8,1762.7 638.6,1759 636.1,1754.7 634.5,1750.1 634,1745.8 634.5,1742.1 636.1,1739.4 638.6,1738 641.8,1737.9 645.2,1739.3 648.7,1741.9 651.9,1745.6 654.3,1749.9 655.9,1754.5" stroke-width="2.9"/>
<polygon points="624.5,1742.4 634.3,1736.7 646.3,1735.7 658.3,1750.6 658.3,1766.6 648.5,1772.3 636.5,1773.3 624.5,1758.4" stroke-width="2.7"/>
<path d="M658.3 1766.6L648.5 1772.3" stroke-width="2.7"/>
<path d="M634.3 1736.7L624.5 1742.4" stroke-width="2.7"/>
<path d="M646.3 1735.7L636.5 1741.3" stroke-width="2.7"/>
<path d="M658.3 1750.6L648.5 1756.3" stroke-width="2.7"/>
<polygon points="648.5,1772.3 636.5,1773.3 624.5,1758.4 624.5,1742.4 636.5,1741.3 648.5,1756.3" stroke-width="2.7"/>
<polygon points="647.8,1763.8 647.2,1767.5 645.6,1770.2 643.1,1771.7 640,1771.7 636.5,1770.3 633,1767.7 629.9,1764 627.4,1759.7 625.8,1755.2 625.2,1750.8 625.8,1747.1 627.4,1744.4 629.9,1743 633,1743 636.5,1744.3 640,1747 643.1,1750.6 645.6,1755 647.2,1759.5" stroke-width="2.9"/>
<polygon points="643,1766.6 642.4,1770.3 640.8,1773 638.3,1774.4 635.2,1774.5 631.7,1773.1 628.2,1770.5 625.1,1766.8 622.6,1762.5 621,1757.9 620.4,1753.6 621,1749.9 622.6,1747.2 625.1,1745.8 628.2,1745.7 631.7,1747.1 635.2,1749.8 638.3,1753.4 640.8,1757.7 642.4,1762.3" stroke-width="2.9"/>
<polygon points="638.2,1769.4 637.6,1773.1 636,1775.8 633.5,1777.2 630.4,1777.3 626.9,1775.9 623.4,1773.2 620.3,1769.6 617.8,1765.3 616.2,1760.7 615.6,1756.4 616.2,1752.7 617.8,1750 620.3,1748.5 623.4,1748.5 626.9,1749.9 630.4,1752.5 633.5,1756.2 636,1760.5 637.6,1765" stroke-width="2.9"/>
<polygon points="633.4,1772.2 632.8,1775.9 631.2,1778.6 628.7,1780 625.6,1780 622.1,1778.7 618.6,1776 615.5,1772.4 613,1768 611.4,1763.5 610.8,1759.2 611.4,1755.5 613,1752.8 615.5,1751.3 618.6,1751.3 622.1,1752.7 625.6,1755.3 628.7,1759 631.2,1763.3 632.8,1767.8" stroke-width="2.9"/>
<polygon points="628.6,1774.9 628,1778.6 626.4,1781.3 623.9,1782.8 620.8,1782.8 617.3,1781.4 613.8,1778.8 610.7,1775.1 608.2,1770.8 606.6,1766.3 606,1761.9 606.6,1758.2 608.2,1755.5 610.7,1754.1 613.8,1754.1 617.3,1755.4 620.8,1758.1 623.9,1761.7 626.4,1766 628,1770.6" stroke-width="2.9"/>
<polygon points="623.8,1777.7 623.2,1781.4 621.6,1784.1 619.1,1785.5 616,1785.6 612.5,1784.2 609,1781.6 605.9,1777.9 603.4,1773.6 601.8,1769 601.2,1764.7 601.8,1761 603.4,1758.3 605.9,1756.9 609,1756.8 612.5,1758.2 616,1760.8 619.1,1764.5 621.6,1768.8 623.2,1773.4" stroke-width="2.9"/>
<polyline points="616.8,1777.9 615.3,1778.5 613.3,1778.1 611.3,1776.9 609.4,1774.9 608,1772.4 607.1,1769.8 606.9,1767.4 607.4,1765.5 608.6,1764.3 610.3,1763.9 612.3,1764.6 614.3,1766.1 616.1,1768.2 617.4,1770.8" fill="none" stroke-width="2.9"/>
<polygon points="890.4,1869.9 889.9,1873.6 888.3,1876.3 885.8,1877.7 882.6,1877.8 879.2,1876.4 875.7,1873.8 872.5,1870.1 870.1,1865.8 868.5,1861.2 867.9,1856.9 868.5,1853.2 870.1,1850.5 872.5,1849.1 875.7,1849 879.2,1850.4 882.6,1853 885.8,1856.7 888.3,1861 889.9,1865.6" stroke-width="2.9"/>
<polygon points="886.1,1872.4 885.5,1876.1 883.9,1878.8 881.4,1880.3 878.3,1880.3 874.8,1878.9 871.3,1876.3 868.2,1872.6 865.7,1868.3 864.1,1863.8 863.5,1859.4 864.1,1855.7 865.7,1853 868.2,1851.6 871.3,1851.5 874.8,1852.9 878.3,1855.6 881.4,1859.2 883.9,1863.5 885.5,1868.1" stroke-width="2.9"/>
<polygon points="881.7,1874.9 881.1,1878.6 879.5,1881.3 877,1882.8 873.9,1882.8 870.4,1881.4 867,1878.8 863.8,1875.1 861.3,1870.8 859.7,1866.3 859.2,1861.9 859.7,1858.2 861.3,1855.5 863.8,1854.1 867,1854.1 870.4,1855.4 873.9,1858.1 877,1861.7 879.5,1866.1 881.1,1870.6" stroke-width="2.9"/>
<polygon points="877.3,1877.5 876.8,1881.2 875.2,1883.9 872.7,1885.3 869.5,1885.3 866.1,1884 862.6,1881.3 859.4,1877.7 857,1873.3 855.4,1868.8 854.8,1864.5 855.4,1860.8 857,1858.1 859.4,1856.6 862.6,1856.6 866.1,1858 869.5,1860.6 872.7,1864.3 875.2,1868.6 876.8,1873.1" stroke-width="2.9"/>
<polygon points="873,1880 872.4,1883.7 870.8,1886.4 868.3,1887.8 865.2,1887.9 861.7,1886.5 858.2,1883.8 855.1,1880.2 852.6,1875.9 851,1871.3 850.4,1867 851,1863.3 852.6,1860.6 855.1,1859.1 858.2,1859.1 861.7,1860.5 865.2,1863.1 868.3,1866.8 870.8,1871.1 872.4,1875.6" stroke-width="2.9"/>
<polygon points="868.6,1882.5 868,1886.2 866.4,1888.9 864,1890.3 860.8,1890.4 857.3,1889 853.9,1886.4 850.7,1882.7 848.2,1878.4 846.6,1873.8 846.1,1869.5 846.6,1865.8 848.2,1863.1 850.7,1861.7 853.9,1861.6 857.3,1863 860.8,1865.6 864,1869.3 866.4,1873.6 868,1878.2" stroke-width="2.9"/>
<polygon points="836.6,1866.1 846.4,1860.4 858.4,1859.4 870.4,1874.3 870.4,1890.3 860.6,1896 848.6,1897 836.6,1882.1" stroke-width="2.7"/>
<path d="M870.4 1890.3L860.6 1896" stroke-width="2.7"/>
<path d="M846.4 1860.4L836.6 1866.1" stroke-width="2.7"/>
<path d="M858.4 1859.4L848.6 1865" stroke-width="2.7"/>
<path d="M870.4 1874.3L860.6 1880" stroke-width="2.7"/>
<polygon points="860.6,1896 848.6,1897 836.6,1882.1 836.6,1866.1 848.6,1865 860.6,1880" stroke-width="2.7"/>
<polygon points="859.9,1887.5 859.3,1891.2 857.7,1893.9 855.2,1895.4 852.1,1895.4 848.6,1894 845.1,1891.4 842,1887.7 839.5,1883.4 837.9,1878.9 837.3,1874.5 837.9,1870.8 839.5,1868.1 842,1866.7 845.1,1866.7 848.6,1868 852.1,1870.7 855.2,1874.3 857.7,1878.7 859.3,1883.2" stroke-width="2.9"/>
<polygon points="855.1,1890.3 854.5,1894 852.9,1896.7 850.4,1898.1 847.3,1898.2 843.8,1896.8 840.3,1894.2 837.2,1890.5 834.7,1886.2 833.1,1881.6 832.5,1877.3 833.1,1873.6 834.7,1870.9 837.2,1869.5 840.3,1869.4 843.8,1870.8 847.3,1873.5 850.4,1877.1 852.9,1881.4 854.5,1886" stroke-width="2.9"/>
<polygon points="850.3,1893.1 849.7,1896.8 848.1,1899.5 845.6,1900.9 842.5,1901 839,1899.6 835.5,1896.9 832.4,1893.3 829.9,1889 828.3,1884.4 827.7,1880.1 828.3,1876.4 829.9,1873.7 832.4,1872.2 835.5,1872.2 839,1873.6 842.5,1876.2 845.6,1879.9 848.1,1884.2 849.7,1888.7" stroke-width="2.9"/>
<polygon points="845.5,1895.9 844.9,1899.6 843.3,1902.3 840.8,1903.7 837.7,1903.7 834.2,1902.4 830.7,1899.7 827.6,1896.1 825.1,1891.7 823.5,1887.2 822.9,1882.9 823.5,1879.2 825.1,1876.5 827.6,1875 830.7,1875 834.2,1876.4 837.7,1879 840.8,1882.7 843.3,1887 844.9,1891.5" stroke-width="2.9"/>
<polygon points="840.7,1898.6 840.1,1902.3 838.5,1905 836,1906.5 832.9,1906.5 829.4,1905.1 825.9,1902.5 822.8,1898.8 820.3,1894.5 818.7,1890 818.1,1885.6 818.7,1881.9 820.3,1879.2 822.8,1877.8 825.9,1877.8 829.4,1879.1 832.9,1881.8 836,1885.4 838.5,1889.7 840.1,1894.3" stroke-width="2.9"/>
<polygon points="835.9,1901.4 835.3,1905.1 833.7,1907.8 831.2,1909.2 828.1,1909.3 824.6,1907.9 821.1,1905.3 818,1901.6 815.5,1897.3 813.9,1892.7 813.3,1888.4 813.9,1884.7 815.5,1882 818,1880.6 821.1,1880.5 824.6,1881.9 828.1,1884.5 831.2,1888.2 833.7,1892.5 835.3,1897.1" stroke-width="2.9"/>
<polyline points="828.9,1901.6 827.4,1902.2 825.4,1901.8 823.4,1900.6 821.5,1898.6 820.1,1896.1 819.2,1893.5 819,1891.1 819.5,1889.2 820.7,1888 822.4,1887.6 824.4,1888.3 826.4,1889.8 828.2,1891.9 829.5,1894.5" fill="none" stroke-width="2.9"/>
<polygon points="1110.8,1997.6 1110.3,2001.3 1108.7,2004 1106.2,2005.4 1103,2005.5 1099.6,2004.1 1096.1,2001.5 1092.9,1997.8 1090.5,1993.5 1088.9,1988.9 1088.3,1984.6 1088.9,1980.9 1090.5,1978.2 1092.9,1976.8 1096.1,1976.7 1099.6,1978.1 1103,1980.7 1106.2,1984.4 1108.7,1988.7 1110.3,1993.3" stroke-width="2.9"/>
<polygon points="1106.5,2000.1 1105.9,2003.8 1104.3,2006.5 1101.8,2008 1098.7,2008 1095.2,2006.6 1091.7,2004 1088.6,2000.3 1086.1,1996 1084.5,1991.5 1083.9,1987.1 1084.5,1983.4 1086.1,1980.7 1088.6,1979.3 1091.7,1979.2 1095.2,1980.6 1098.7,1983.3 1101.8,1986.9 1104.3,1991.2 1105.9,1995.8" stroke-width="2.9"/>
<polygon points="1102.1,2002.6 1101.5,2006.3 1099.9,2009 1097.4,2010.5 1094.3,2010.5 1090.8,2009.1 1087.4,2006.5 1084.2,2002.8 1081.7,1998.5 1080.1,1994 1079.6,1989.6 1080.1,1985.9 1081.7,1983.2 1084.2,1981.8 1087.4,1981.8 1090.8,1983.1 1094.3,1985.8 1097.4,1989.4 1099.9,1993.8 1101.5,1998.3" stroke-width="2.9"/>
<polygon points="1097.7,2005.2 1097.2,2008.9 1095.6,2011.6 1093.1,2013 1089.9,2013 1086.5,2011.7 1083,2009 1079.8,2005.4 1077.4,2001 1075.8,1996.5 1075.2,1992.2 1075.8,1988.5 1077.4,1985.8 1079.8,1984.3 1083,1984.3 1086.5,1985.7 1089.9,1988.3 1093.1,1992 1095.6,1996.3 1097.2,2000.8" stroke-width="2.9"/>
<polygon points="1093.4,2007.7 1092.8,2011.4 1091.2,2014.1 1088.7,2015.5 1085.6,2015.6 1082.1,2014.2 1078.6,2011.5 1075.5,2007.9 1073,2003.6 1071.4,1999 1070.8,1994.7 1071.4,1991 1073,1988.3 1075.5,1986.8 1078.6,1986.8 1082.1,1988.2 1085.6,1990.8 1088.7,1994.5 1091.2,1998.8 1092.8,2003.3" stroke-width="2.9"/>
<polygon points="1089,2010.2 1088.4,2013.9 1086.8,2016.6 1084.4,2018 1081.2,2018.1 1077.7,2016.7 1074.3,2014.1 1071.1,2010.4 1068.6,2006.1 1067,2001.5 1066.5,1997.2 1067,1993.5 1068.6,1990.8 1071.1,1989.4 1074.3,1989.3 1077.7,1990.7 1081.2,1993.3 1084.4,1997 1086.8,2001.3 1088.4,2005.9" stroke-width="2.9"/>
<polygon points="1057,1993.8 1066.8,1988.1 1078.8,1987.1 1090.8,2002 1090.8,2018 1081,2023.7 1069,2024.7 1057,2009.8" stroke-width="2.7"/>
<path d="M1090.8 2018L1081 2023.7" stroke-width="2.7"/>
<path d="M1066.8 1988.1L1057 1993.8" stroke-width="2.7"/>
<path d="M1078.8 1987.1L1069 1992.7" stroke-width="2.7"/>
<path d="M1090.8 2002L1081 2007.7" stroke-width="2.7"/>
<polygon points="1081,2023.7 1069,2024.7 1057,2009.8 1057,1993.8 1069,1992.7 1081,2007.7" stroke-width="2.7"/>
<polygon points="1080.3,2015.2 1079.7,2018.9 1078.1,2021.6 1075.6,2023.1 1072.5,2023.1 1069,2021.7 1065.5,2019.1 1062.4,2015.4 1059.9,2011.1 1058.3,2006.6 1057.7,2002.2 1058.3,1998.5 1059.9,1995.8 1062.4,1994.4 1065.5,1994.4 1069,1995.7 1072.5,1998.4 1075.6,2002 1078.1,2006.4 1079.7,2010.9" stroke-width="2.9"/>
<polygon points="1075.5,2018 1074.9,2021.7 1073.3,2024.4 1070.8,2025.8 1067.7,2025.9 1064.2,2024.5 1060.7,2021.9 1057.6,2018.2 1055.1,2013.9 1053.5,2009.3 1052.9,2005 1053.5,2001.3 1055.1,1998.6 1057.6,1997.2 1060.7,1997.1 1064.2,1998.5 1067.7,2001.2 1070.8,2004.8 1073.3,2009.1 1074.9,2013.7" stroke-width="2.9"/>
<polygon points="1070.7,2020.8 1070.1,2024.5 1068.5,2027.2 1066,2028.6 1062.9,2028.7 1059.4,2027.3 1055.9,2024.6 1052.8,2021 1050.3,2016.7 1048.7,2012.1 1048.1,2007.8 1048.7,2004.1 1050.3,2001.4 1052.8,1999.9 1055.9,1999.9 1059.4,2001.3 1062.9,2003.9 1066,2007.6 1068.5,2011.9 1070.1,2016.4" stroke-width="2.9"/>
<polygon points="1065.9,2023.6 1065.3,2027.3 1063.7,2030 1061.2,2031.4 1058.1,2031.4 1054.6,2030.1 1051.1,2027.4 1048,2023.8 1045.5,2019.4 1043.9,2014.9 1043.3,2010.6 1043.9,2006.9 1045.5,2004.2 1048,2002.7 1051.1,2002.7 1054.6,2004.1 1058.1,2006.7 1061.2,2010.4 1063.7,2014.7 1065.3,2019.2" stroke-width="2.9"/>
<polygon points="1061.1,2026.3 1060.5,2030 1058.9,2032.7 1056.4,2034.2 1053.3,2034.2 1049.8,2032.8 1046.3,2030.2 1043.2,2026.5 1040.7,2022.2 1039.1,2017.7 1038.5,2013.3 1039.1,2009.6 1040.7,2006.9 1043.2,2005.5 1046.3,2005.5 1049.8,2006.8 1053.3,2009.5 1056.4,2013.1 1058.9,2017.4 1060.5,2022" stroke-width="2.9"/>
<polygon points="1056.3,2029.1 1055.7,2032.8 1054.1,2035.5 1051.6,2036.9 1048.5,2037 1045,2035.6 1041.5,2033 1038.4,2029.3 1035.9,2025 1034.3,2020.4 1033.7,2016.1 1034.3,2012.4 1035.9,2009.7 1038.4,2008.3 1041.5,2008.2 1045,2009.6 1048.5,2012.2 1051.6,2015.9 1054.1,2020.2 1055.7,2024.8" stroke-width="2.9"/>
<polyline points="1049.3,2029.3 1047.8,2029.9 1045.8,2029.5 1043.8,2028.3 1041.9,2026.3 1040.5,2023.8 1039.6,2021.2 1039.4,2018.8 1039.9,2016.9 1041.1,2015.7 1042.8,2015.3 1044.8,2016 1046.8,2017.5 1048.6,2019.6 1049.9,2022.2" fill="none" stroke-width="2.9"/>
<polygon points="1368,2100.8 1367.5,2104.5 1365.9,2107.2 1363.4,2108.6 1360.2,2108.7 1356.8,2107.3 1353.3,2104.7 1350.1,2101 1347.7,2096.7 1346.1,2092.1 1345.5,2087.8 1346.1,2084.1 1347.7,2081.4 1350.1,2080 1353.3,2079.9 1356.8,2081.3 1360.2,2083.9 1363.4,2087.6 1365.9,2091.9 1367.5,2096.5" stroke-width="2.9"/>
<polygon points="1363.7,2103.3 1363.1,2107 1361.5,2109.7 1359,2111.2 1355.9,2111.2 1352.4,2109.8 1348.9,2107.2 1345.8,2103.5 1343.3,2099.2 1341.7,2094.7 1341.1,2090.3 1341.7,2086.6 1343.3,2083.9 1345.8,2082.5 1348.9,2082.4 1352.4,2083.8 1355.9,2086.5 1359,2090.1 1361.5,2094.4 1363.1,2099" stroke-width="2.9"/>
<polygon points="1359.3,2105.8 1358.7,2109.5 1357.1,2112.2 1354.6,2113.7 1351.5,2113.7 1348,2112.3 1344.6,2109.7 1341.4,2106 1338.9,2101.7 1337.3,2097.2 1336.8,2092.8 1337.3,2089.1 1338.9,2086.4 1341.4,2085 1344.6,2085 1348,2086.3 1351.5,2089 1354.6,2092.6 1357.1,2097 1358.7,2101.5" stroke-width="2.9"/>
<polygon points="1354.9,2108.4 1354.4,2112.1 1352.8,2114.8 1350.3,2116.2 1347.1,2116.2 1343.7,2114.9 1340.2,2112.2 1337,2108.6 1334.6,2104.2 1333,2099.7 1332.4,2095.4 1333,2091.7 1334.6,2089 1337,2087.5 1340.2,2087.5 1343.7,2088.9 1347.1,2091.5 1350.3,2095.2 1352.8,2099.5 1354.4,2104" stroke-width="2.9"/>
<polygon points="1350.6,2110.9 1350,2114.6 1348.4,2117.3 1345.9,2118.7 1342.8,2118.8 1339.3,2117.4 1335.8,2114.7 1332.7,2111.1 1330.2,2106.8 1328.6,2102.2 1328,2097.9 1328.6,2094.2 1330.2,2091.5 1332.7,2090 1335.8,2090 1339.3,2091.4 1342.8,2094 1345.9,2097.7 1348.4,2102 1350,2106.5" stroke-width="2.9"/>
<polygon points="1346.2,2113.4 1345.6,2117.1 1344,2119.8 1341.6,2121.2 1338.4,2121.3 1334.9,2119.9 1331.5,2117.3 1328.3,2113.6 1325.8,2109.3 1324.2,2104.7 1323.7,2100.4 1324.2,2096.7 1325.8,2094 1328.3,2092.6 1331.5,2092.5 1334.9,2093.9 1338.4,2096.5 1341.6,2100.2 1344,2104.5 1345.6,2109.1" stroke-width="2.9"/>
<polygon points="1314.2,2097 1324,2091.3 1336,2090.3 1348,2105.2 1348,2121.2 1338.2,2126.9 1326.2,2127.9 1314.2,2113" stroke-width="2.7"/>
<path d="M1348 2121.2L1338.2 2126.9" stroke-width="2.7"/>
<path d="M1324 2091.3L1314.2 2097" stroke-width="2.7"/>
<path d="M1336 2090.3L1326.2 2095.9" stroke-width="2.7"/>
<path d="M1348 2105.2L1338.2 2110.9" stroke-width="2.7"/>
<polygon points="1338.2,2126.9 1326.2,2127.9 1314.2,2113 1314.2,2097 1326.2,2095.9 1338.2,2110.9" stroke-width="2.7"/>
<polygon points="1337.5,2118.4 1336.9,2122.1 1335.3,2124.8 1332.8,2126.3 1329.7,2126.3 1326.2,2124.9 1322.7,2122.3 1319.6,2118.6 1317.1,2114.3 1315.5,2109.8 1314.9,2105.4 1315.5,2101.7 1317.1,2099 1319.6,2097.6 1322.7,2097.6 1326.2,2098.9 1329.7,2101.6 1332.8,2105.2 1335.3,2109.6 1336.9,2114.1" stroke-width="2.9"/>
<polygon points="1332.7,2121.2 1332.1,2124.9 1330.5,2127.6 1328,2129 1324.9,2129.1 1321.4,2127.7 1317.9,2125.1 1314.8,2121.4 1312.3,2117.1 1310.7,2112.5 1310.1,2108.2 1310.7,2104.5 1312.3,2101.8 1314.8,2100.4 1317.9,2100.3 1321.4,2101.7 1324.9,2104.4 1328,2108 1330.5,2112.3 1332.1,2116.9" stroke-width="2.9"/>
<polygon points="1327.9,2124 1327.3,2127.7 1325.7,2130.4 1323.2,2131.8 1320.1,2131.9 1316.6,2130.5 1313.1,2127.8 1310,2124.2 1307.5,2119.9 1305.9,2115.3 1305.3,2111 1305.9,2107.3 1307.5,2104.6 1310,2103.1 1313.1,2103.1 1316.6,2104.5 1320.1,2107.1 1323.2,2110.8 1325.7,2115.1 1327.3,2119.6" stroke-width="2.9"/>
<polygon points="1323.1,2126.8 1322.5,2130.5 1320.9,2133.2 1318.4,2134.6 1315.3,2134.6 1311.8,2133.3 1308.3,2130.6 1305.2,2127 1302.7,2122.6 1301.1,2118.1 1300.5,2113.8 1301.1,2110.1 1302.7,2107.4 1305.2,2105.9 1308.3,2105.9 1311.8,2107.3 1315.3,2109.9 1318.4,2113.6 1320.9,2117.9 1322.5,2122.4" stroke-width="2.9"/>
<polygon points="1318.3,2129.5 1317.7,2133.2 1316.1,2135.9 1313.6,2137.4 1310.5,2137.4 1307,2136 1303.5,2133.4 1300.4,2129.7 1297.9,2125.4 1296.3,2120.9 1295.7,2116.5 1296.3,2112.8 1297.9,2110.1 1300.4,2108.7 1303.5,2108.7 1307,2110 1310.5,2112.7 1313.6,2116.3 1316.1,2120.6 1317.7,2125.2" stroke-width="2.9"/>
<polygon points="1313.5,2132.3 1312.9,2136 1311.3,2138.7 1308.8,2140.1 1305.7,2140.2 1302.2,2138.8 1298.7,2136.2 1295.6,2132.5 1293.1,2128.2 1291.5,2123.6 1290.9,2119.3 1291.5,2115.6 1293.1,2112.9 1295.6,2111.5 1298.7,2111.4 1302.2,2112.8 1305.7,2115.4 1308.8,2119.1 1311.3,2123.4 1312.9,2128" stroke-width="2.9"/>
<polyline points="1306.5,2132.5 1305,2133.1 1303,2132.7 1301,2131.5 1299.1,2129.5 1297.7,2127 1296.8,2124.4 1296.6,2122 1297.1,2120.1 1298.3,2118.9 1300,2118.5 1302,2119.2 1304,2120.7 1305.8,2122.8 1307.1,2125.4" fill="none" stroke-width="2.9"/>
<polygon points="1715.8,2288.5 1715.3,2292.2 1713.7,2294.9 1711.2,2296.3 1708,2296.4 1704.6,2295 1701.1,2292.4 1697.9,2288.7 1695.5,2284.4 1693.9,2279.8 1693.3,2275.5 1693.9,2271.8 1695.5,2269.1 1697.9,2267.7 1701.1,2267.6 1704.6,2269 1708,2271.6 1711.2,2275.3 1713.7,2279.6 1715.3,2284.2" stroke-width="2.9"/>
<polygon points="1711.5,2291 1710.9,2294.7 1709.3,2297.4 1706.8,2298.9 1703.7,2298.9 1700.2,2297.5 1696.7,2294.9 1693.6,2291.2 1691.1,2286.9 1689.5,2282.4 1688.9,2278 1689.5,2274.3 1691.1,2271.6 1693.6,2270.2 1696.7,2270.1 1700.2,2271.5 1703.7,2274.2 1706.8,2277.8 1709.3,2282.1 1710.9,2286.7" stroke-width="2.9"/>
<polygon points="1707.1,2293.5 1706.5,2297.2 1704.9,2299.9 1702.4,2301.4 1699.3,2301.4 1695.8,2300 1692.4,2297.4 1689.2,2293.7 1686.7,2289.4 1685.1,2284.9 1684.6,2280.5 1685.1,2276.8 1686.7,2274.1 1689.2,2272.7 1692.4,2272.7 1695.8,2274 1699.3,2276.7 1702.4,2280.3 1704.9,2284.7 1706.5,2289.2" stroke-width="2.9"/>
<polygon points="1702.7,2296.1 1702.2,2299.8 1700.6,2302.5 1698.1,2303.9 1694.9,2303.9 1691.5,2302.6 1688,2299.9 1684.8,2296.3 1682.4,2291.9 1680.8,2287.4 1680.2,2283.1 1680.8,2279.4 1682.4,2276.7 1684.8,2275.2 1688,2275.2 1691.5,2276.6 1694.9,2279.2 1698.1,2282.9 1700.6,2287.2 1702.2,2291.7" stroke-width="2.9"/>
<polygon points="1698.4,2298.6 1697.8,2302.3 1696.2,2305 1693.7,2306.4 1690.6,2306.5 1687.1,2305.1 1683.6,2302.4 1680.5,2298.8 1678,2294.5 1676.4,2289.9 1675.8,2285.6 1676.4,2281.9 1678,2279.2 1680.5,2277.7 1683.6,2277.7 1687.1,2279.1 1690.6,2281.7 1693.7,2285.4 1696.2,2289.7 1697.8,2294.2" stroke-width="2.9"/>
<polygon points="1694,2301.1 1693.4,2304.8 1691.8,2307.5 1689.4,2308.9 1686.2,2309 1682.7,2307.6 1679.3,2305 1676.1,2301.3 1673.6,2297 1672,2292.4 1671.5,2288.1 1672,2284.4 1673.6,2281.7 1676.1,2280.3 1679.3,2280.2 1682.7,2281.6 1686.2,2284.2 1689.4,2287.9 1691.8,2292.2 1693.4,2296.8" stroke-width="2.9"/>
<polygon points="1662,2284.7 1671.8,2279 1683.8,2278 1695.8,2292.9 1695.8,2308.9 1686,2314.6 1674,2315.6 1662,2300.7" stroke-width="2.7"/>
<path d="M1695.8 2308.9L1686 2314.6" stroke-width="2.7"/>
<path d="M1671.8 2279L1662 2284.7" stroke-width="2.7"/>
<path d="M1683.8 2278L1674 2283.6" stroke-width="2.7"/>
<path d="M1695.8 2292.9L1686 2298.6" stroke-width="2.7"/>
<polygon points="1686,2314.6 1674,2315.6 1662,2300.7 1662,2284.7 1674,2283.6 1686,2298.6" stroke-width="2.7"/>
<polygon points="1685.3,2306.1 1684.7,2309.8 1683.1,2312.5 1680.6,2314 1677.5,2314 1674,2312.6 1670.5,2310 1667.4,2306.3 1664.9,2302 1663.3,2297.5 1662.7,2293.1 1663.3,2289.4 1664.9,2286.7 1667.4,2285.3 1670.5,2285.3 1674,2286.6 1677.5,2289.3 1680.6,2292.9 1683.1,2297.3 1684.7,2301.8" stroke-width="2.9"/>
<polygon points="1680.5,2308.9 1679.9,2312.6 1678.3,2315.3 1675.8,2316.7 1672.7,2316.8 1669.2,2315.4 1665.7,2312.8 1662.6,2309.1 1660.1,2304.8 1658.5,2300.2 1657.9,2295.9 1658.5,2292.2 1660.1,2289.5 1662.6,2288.1 1665.7,2288 1669.2,2289.4 1672.7,2292.1 1675.8,2295.7 1678.3,2300 1679.9,2304.6" stroke-width="2.9"/>
<polygon points="1675.7,2311.7 1675.1,2315.4 1673.5,2318.1 1671,2319.5 1667.9,2319.6 1664.4,2318.2 1660.9,2315.5 1657.8,2311.9 1655.3,2307.6 1653.7,2303 1653.1,2298.7 1653.7,2295 1655.3,2292.3 1657.8,2290.8 1660.9,2290.8 1664.4,2292.2 1667.9,2294.8 1671,2298.5 1673.5,2302.8 1675.1,2307.3" stroke-width="2.9"/>
<polygon points="1670.9,2314.5 1670.3,2318.2 1668.7,2320.9 1666.2,2322.3 1663.1,2322.3 1659.6,2321 1656.1,2318.3 1653,2314.7 1650.5,2310.3 1648.9,2305.8 1648.3,2301.5 1648.9,2297.8 1650.5,2295.1 1653,2293.6 1656.1,2293.6 1659.6,2295 1663.1,2297.6 1666.2,2301.3 1668.7,2305.6 1670.3,2310.1" stroke-width="2.9"/>
<polygon points="1666.1,2317.2 1665.5,2320.9 1663.9,2323.6 1661.4,2325.1 1658.3,2325.1 1654.8,2323.7 1651.3,2321.1 1648.2,2317.4 1645.7,2313.1 1644.1,2308.6 1643.5,2304.2 1644.1,2300.5 1645.7,2297.8 1648.2,2296.4 1651.3,2296.4 1654.8,2297.7 1658.3,2300.4 1661.4,2304 1663.9,2308.3 1665.5,2312.9" stroke-width="2.9"/>
<polygon points="1661.3,2320 1660.7,2323.7 1659.1,2326.4 1656.6,2327.8 1653.5,2327.9 1650,2326.5 1646.5,2323.9 1643.4,2320.2 1640.9,2315.9 1639.3,2311.3 1638.7,2307 1639.3,2303.3 1640.9,2300.6 1643.4,2299.2 1646.5,2299.1 1650,2300.5 1653.5,2303.1 1656.6,2306.8 1659.1,2311.1 1660.7,2315.7" stroke-width="2.9"/>
<polyline points="1654.3,2320.2 1652.8,2320.8 1650.8,2320.4 1648.8,2319.2 1646.9,2317.2 1645.5,2314.7 1644.6,2312.1 1644.4,2309.7 1644.9,2307.8 1646.1,2306.6 1647.8,2306.2 1649.8,2306.9 1651.8,2308.4 1653.6,2310.5 1654.9,2313.1" fill="none" stroke-width="2.9"/>
<path d="M448.6 1741.3L436.6 1748.3Q427.3 1756.3 427.3 1758.1L427.3 1782.1" fill="none" stroke-width="32"/>
<path d="M448.6 1741.3L436.6 1748.3Q427.3 1756.3 427.3 1758.1L427.3 1782.1" fill="none" stroke="#fff" stroke-width="26.4"/>
<path d="M440.6 1750.3Q434.3 1760.3 435.3 1776.1" fill="none" stroke-width="2.7"/>
<polygon points="434.1,1733.3 441,1723.4 458.3,1713.4 472.2,1721.4 479.1,1739.3 472.2,1749.2 454.9,1759.2 441,1751.2" stroke-width="2.9"/>
<path d="M479.1 1739.3L461.8 1749.3" stroke-width="2.9"/>
<path d="M472.2 1749.2L454.9 1759.2" stroke-width="2.9"/>
<path d="M451.4 1723.3L434.1 1733.3" stroke-width="2.9"/>
<path d="M458.3 1713.4L441 1723.4" stroke-width="2.9"/>
<path d="M472.2 1721.4L454.9 1731.4" stroke-width="2.9"/>
<polygon points="461.8,1749.3 454.9,1759.2 441,1751.2 434.1,1733.3 441,1723.4 454.9,1731.4" stroke-width="2.9"/>
<polygon points="404.9,1780.1 415.6,1769.4 437,1769.4 447.7,1780.1 447.7,1802.1 437,1812.8 415.6,1812.8 404.9,1802.1" stroke-width="2.9"/>
<path d="M447.7 1802.1L447.7 1780.1" stroke-width="2.9"/>
<path d="M437 1791.4L437 1769.4" stroke-width="2.9"/>
<path d="M415.6 1791.4L415.6 1769.4" stroke-width="2.9"/>
<path d="M404.9 1802.1L404.9 1780.1" stroke-width="2.9"/>
<path d="M415.6 1812.8L415.6 1790.8" stroke-width="2.9"/>
<path d="M437 1812.8L437 1790.8" stroke-width="2.9"/>
<polygon points="447.7,1780.1 437,1769.4 415.6,1769.4 404.9,1780.1 415.6,1790.8 437,1790.8" stroke-width="2.9"/>
<ellipse cx="426.3" cy="1779.1" rx="14" ry="8" stroke-width="2.9"/>
<polygon points="535.6,1808 535.8,1805.9 536.5,1804.2 537.5,1802.9 538.9,1802.1 556.2,1792.1 557.8,1791.8 559.6,1792.1 561.6,1793 563.5,1794.4 565.3,1796.2 567,1798.3 568.4,1800.7 569.4,1803.2 570,1805.7 570.2,1808 570,1810.1 569.4,1811.8 568.4,1813.1 567,1813.9 549.7,1823.9 548,1824.2 546.2,1823.9 544.3,1823 542.3,1821.6 540.5,1819.8 538.9,1817.7 537.5,1815.3 536.5,1812.8 535.8,1810.3" stroke-width="2.7"/>
<polygon points="552.9,1818 552.7,1820.1 552.1,1821.8 551,1823.1 549.7,1823.9 548,1824.2 546.2,1823.9 544.3,1823 542.3,1821.6 540.5,1819.8 538.9,1817.7 537.5,1815.3 536.5,1812.8 535.8,1810.4 535.6,1808 535.8,1805.9 536.5,1804.2 537.5,1802.9 538.9,1802.1 540.5,1801.8 542.3,1802.1 544.3,1803 546.2,1804.4 548,1806.2 549.7,1808.3 551,1810.7 552.1,1813.2 552.7,1815.6" stroke-width="2.7"/>
<polygon points="544.7,1797.2 551.4,1787.7 568.7,1777.7 582.1,1785.5 588.9,1802.8 582.1,1812.3 564.8,1822.3 551.4,1814.5" stroke-width="2.9"/>
<path d="M588.9 1802.8L571.5 1812.8" stroke-width="2.9"/>
<path d="M582.1 1812.3L564.8 1822.3" stroke-width="2.9"/>
<path d="M568.7 1804.5L551.4 1814.5" stroke-width="2.9"/>
<path d="M562 1787.2L544.7 1797.2" stroke-width="2.9"/>
<path d="M568.7 1777.7L551.4 1787.7" stroke-width="2.9"/>
<path d="M582.1 1785.5L564.8 1795.5" stroke-width="2.9"/>
<polygon points="571.5,1812.8 564.8,1822.3 551.4,1814.5 544.7,1797.2 551.4,1787.7 564.8,1795.5" stroke-width="2.9"/>
<polygon points="514.8,1843 525.2,1832.6 546,1832.6 556.4,1843 556.4,1864 546,1874.4 525.2,1874.4 514.8,1864" stroke-width="2.9"/>
<path d="M556.4 1864L556.4 1843" stroke-width="2.9"/>
<path d="M546 1853.6L546 1832.6" stroke-width="2.9"/>
<path d="M525.2 1853.6L525.2 1832.6" stroke-width="2.9"/>
<path d="M514.8 1864L514.8 1843" stroke-width="2.9"/>
<path d="M525.2 1874.4L525.2 1853.4" stroke-width="2.9"/>
<path d="M546 1874.4L546 1853.4" stroke-width="2.9"/>
<polygon points="556.4,1843 546,1832.6 525.2,1832.6 514.8,1843 525.2,1853.4 546,1853.4" stroke-width="2.9"/>
<polygon points="522.2,1825.1 522.9,1823.4 524.2,1821.9 526.1,1820.5 528.4,1819.4 531.1,1818.7 534.1,1818.3 537.1,1818.3 540,1818.7 542.8,1819.4 545.1,1820.5 547,1821.9 548.3,1823.4 549,1825.1 549,1845.9 548.3,1847.6 547,1849.1 545.1,1850.5 542.8,1851.6 540,1852.3 537.1,1852.7 534.1,1852.7 531.1,1852.3 528.4,1851.6 526.1,1850.5 524.2,1849.1 522.9,1847.6 522.2,1845.9" stroke-width="2.7"/>
<polygon points="545.1,1831.5 547,1830.1 548.3,1828.6 549,1826.9 549,1825.1 548.3,1823.4 547,1821.9 545.1,1820.5 542.8,1819.4 540,1818.7 537.1,1818.3 534.1,1818.3 531.2,1818.7 528.4,1819.4 526.1,1820.5 524.2,1821.9 522.9,1823.4 522.2,1825.1 522.2,1826.9 522.9,1828.6 524.2,1830.1 526.1,1831.5 528.4,1832.6 531.2,1833.3 534.1,1833.7 537.1,1833.7 540,1833.3 542.8,1832.6" stroke-width="2.7"/>
<polygon points="508.8,1811.5 527.8,1822.5 562.4,1802.5 543.4,1791.5"/>
<polygon points="508.8,1811.5 527.8,1822.5 527.8,1844.5 508.8,1833.5"/>
<polygon points="527.8,1822.5 562.4,1802.5 562.4,1824.5 527.8,1844.5"/>
<path d="M518.3 1813L544.3 1798" stroke-width="2.2"/>
<polygon points="502.7,1827 502.9,1824.9 503.6,1823.2 504.6,1821.9 505.9,1821.1 521.5,1812.1 523.2,1811.8 525,1812.1 526.9,1813 528.9,1814.4 530.7,1816.2 532.3,1818.3 533.7,1820.7 534.7,1823.2 535.4,1825.7 535.6,1828 535.4,1830.1 534.7,1831.8 533.7,1833.1 532.3,1833.9 516.8,1842.9 515.1,1843.2 513.3,1842.9 511.4,1842 509.4,1840.6 507.6,1838.8 505.9,1836.7 504.6,1834.3 503.6,1831.8 502.9,1829.3" stroke-width="2.7"/>
<polygon points="520,1837 519.8,1839.1 519.2,1840.8 518.1,1842.1 516.8,1842.9 515.1,1843.2 513.3,1842.9 511.4,1842 509.4,1840.6 507.6,1838.8 506,1836.7 504.6,1834.3 503.5,1831.8 502.9,1829.4 502.7,1827 502.9,1824.9 503.5,1823.2 504.6,1821.9 506,1821.1 507.6,1820.8 509.4,1821.1 511.4,1822 513.3,1823.4 515.1,1825.2 516.8,1827.3 518.1,1829.7 519.2,1832.2 519.8,1834.6" stroke-width="2.7"/>
<polygon points="482.3,1833.2 489.1,1823.7 506.4,1813.7 519.8,1821.5 526.5,1838.8 519.8,1848.3 502.5,1858.3 489.1,1850.5" stroke-width="2.9"/>
<path d="M526.5 1838.8L509.2 1848.8" stroke-width="2.9"/>
<path d="M519.8 1848.3L502.5 1858.3" stroke-width="2.9"/>
<path d="M506.4 1840.5L489.1 1850.5" stroke-width="2.9"/>
<path d="M499.7 1823.2L482.3 1833.2" stroke-width="2.9"/>
<path d="M506.4 1813.7L489.1 1823.7" stroke-width="2.9"/>
<path d="M519.8 1821.5L502.5 1831.5" stroke-width="2.9"/>
<polygon points="509.2,1848.8 502.5,1858.3 489.1,1850.5 482.3,1833.2 489.1,1823.7 502.5,1831.5" stroke-width="2.9"/>
<polygon points="502.7,1845 502.3,1847.5 501.1,1849.2 499.2,1849.9 497,1849.6 494.6,1848.2 492.3,1845.9 490.5,1843.1 489.3,1840 488.8,1837 489.3,1834.5 490.5,1832.8 492.3,1832.1 494.6,1832.4 497,1833.8 499.2,1836.1 501.1,1838.9 502.3,1842" stroke-width="2.9"/>
<polyline points="498.8,1844.7 497.9,1845.4 496.7,1845.4 495.3,1844.7 494,1843.5 493,1841.8 492.4,1840.1 492.3,1838.5 492.8,1837.3 493.7,1836.6 494.9,1836.6 496.2,1837.3 497.5,1838.5" fill="none" stroke-width="2.2"/>
<polygon points="750.9,1933.5 751.1,1931.4 751.8,1929.7 752.8,1928.4 754.2,1927.6 771.5,1917.6 773.1,1917.3 775,1917.6 776.9,1918.5 778.8,1919.9 780.6,1921.7 782.3,1923.8 783.6,1926.2 784.7,1928.7 785.3,1931.2 785.5,1933.5 785.3,1935.6 784.7,1937.3 783.6,1938.6 782.3,1939.4 765,1949.4 763.3,1949.7 761.5,1949.4 759.6,1948.5 757.6,1947.1 755.8,1945.3 754.2,1943.2 752.8,1940.8 751.8,1938.3 751.1,1935.8" stroke-width="2.7"/>
<polygon points="768.2,1943.5 768,1945.6 767.4,1947.3 766.3,1948.6 765,1949.4 763.3,1949.7 761.5,1949.4 759.6,1948.5 757.6,1947.1 755.8,1945.3 754.2,1943.2 752.8,1940.8 751.8,1938.3 751.1,1935.9 750.9,1933.5 751.1,1931.4 751.8,1929.7 752.8,1928.4 754.2,1927.6 755.8,1927.3 757.6,1927.6 759.6,1928.5 761.5,1929.9 763.3,1931.7 765,1933.8 766.3,1936.2 767.4,1938.7 768,1941.1" stroke-width="2.7"/>
<polygon points="760,1922.8 766.7,1913.2 784,1903.2 797.5,1911 804.2,1928.2 797.5,1937.8 780.1,1947.8 766.7,1940" stroke-width="2.9"/>
<path d="M804.2 1928.2L786.8 1938.2" stroke-width="2.9"/>
<path d="M797.4 1937.8L780.1 1947.8" stroke-width="2.9"/>
<path d="M784 1930L766.7 1940" stroke-width="2.9"/>
<path d="M777.3 1912.8L760 1922.8" stroke-width="2.9"/>
<path d="M784 1903.2L766.7 1913.2" stroke-width="2.9"/>
<path d="M797.4 1911L780.1 1921" stroke-width="2.9"/>
<polygon points="786.8,1938.2 780.1,1947.8 766.7,1940 760,1922.8 766.7,1913.2 780.1,1921" stroke-width="2.9"/>
<polygon points="730.1,1968.5 740.5,1958.1 761.3,1958.1 771.7,1968.5 771.7,1989.5 761.3,1999.9 740.5,1999.9 730.1,1989.5" stroke-width="2.9"/>
<path d="M771.7 1989.5L771.7 1968.5" stroke-width="2.9"/>
<path d="M761.3 1979.1L761.3 1958.1" stroke-width="2.9"/>
<path d="M740.5 1979.1L740.5 1958.1" stroke-width="2.9"/>
<path d="M730.1 1989.5L730.1 1968.5" stroke-width="2.9"/>
<path d="M740.5 1999.9L740.5 1978.9" stroke-width="2.9"/>
<path d="M761.3 1999.9L761.3 1978.9" stroke-width="2.9"/>
<polygon points="771.7,1968.5 761.3,1958.1 740.5,1958.1 730.1,1968.5 740.5,1978.9 761.3,1978.9" stroke-width="2.9"/>
<polygon points="737.5,1950.6 738.2,1948.9 739.5,1947.4 741.4,1946 743.7,1944.9 746.5,1944.2 749.4,1943.8 752.4,1943.8 755.4,1944.2 758.1,1944.9 760.4,1946 762.3,1947.4 763.6,1948.9 764.3,1950.6 764.3,1971.4 763.6,1973.1 762.3,1974.6 760.4,1976 758.1,1977.1 755.4,1977.8 752.4,1978.2 749.4,1978.2 746.5,1977.8 743.7,1977.1 741.4,1976 739.5,1974.6 738.2,1973.1 737.5,1971.4" stroke-width="2.7"/>
<polygon points="760.4,1957 762.3,1955.6 763.6,1954.1 764.3,1952.4 764.3,1950.6 763.6,1948.9 762.3,1947.4 760.4,1946 758.1,1944.9 755.3,1944.2 752.4,1943.8 749.4,1943.8 746.5,1944.2 743.7,1944.9 741.4,1946 739.5,1947.4 738.2,1948.9 737.5,1950.6 737.5,1952.4 738.2,1954.1 739.5,1955.6 741.4,1957 743.7,1958.1 746.5,1958.8 749.4,1959.2 752.4,1959.2 755.3,1958.8 758.1,1958.1" stroke-width="2.7"/>
<polygon points="724.1,1937 743.1,1948 777.7,1928 758.7,1917"/>
<polygon points="724.1,1937 743.1,1948 743.1,1970 724.1,1959"/>
<polygon points="743.1,1948 777.7,1928 777.7,1950 743.1,1970"/>
<path d="M733.6 1938.5L759.6 1923.5" stroke-width="2.2"/>
<polygon points="718,1952.5 718.2,1950.4 718.9,1948.7 719.9,1947.4 721.2,1946.6 736.8,1937.6 738.5,1937.3 740.3,1937.6 742.2,1938.5 744.2,1939.9 746,1941.7 747.6,1943.8 749,1946.2 750,1948.7 750.7,1951.2 750.9,1953.5 750.7,1955.6 750,1957.3 749,1958.6 747.6,1959.4 732,1968.4 730.4,1968.7 728.6,1968.4 726.6,1967.5 724.7,1966.1 722.9,1964.3 721.2,1962.2 719.9,1959.8 718.9,1957.3 718.2,1954.8" stroke-width="2.7"/>
<polygon points="735.3,1962.5 735.1,1964.6 734.5,1966.3 733.4,1967.6 732.1,1968.4 730.4,1968.7 728.6,1968.4 726.7,1967.5 724.7,1966.1 722.9,1964.3 721.3,1962.2 719.9,1959.8 718.8,1957.3 718.2,1954.9 718,1952.5 718.2,1950.4 718.8,1948.7 719.9,1947.4 721.3,1946.6 722.9,1946.3 724.7,1946.6 726.7,1947.5 728.6,1948.9 730.4,1950.7 732.1,1952.8 733.4,1955.2 734.5,1957.7 735.1,1960.1" stroke-width="2.7"/>
<polygon points="697.6,1958.8 704.4,1949.2 721.7,1939.2 735.1,1947 741.8,1964.2 735.1,1973.8 717.8,1983.8 704.4,1976" stroke-width="2.9"/>
<path d="M741.8 1964.2L724.5 1974.2" stroke-width="2.9"/>
<path d="M735.1 1973.8L717.8 1983.8" stroke-width="2.9"/>
<path d="M721.7 1966L704.4 1976" stroke-width="2.9"/>
<path d="M715 1948.8L697.6 1958.8" stroke-width="2.9"/>
<path d="M721.7 1939.2L704.4 1949.2" stroke-width="2.9"/>
<path d="M735.1 1947L717.8 1957" stroke-width="2.9"/>
<polygon points="724.5,1974.2 717.8,1983.8 704.4,1976 697.6,1958.8 704.4,1949.2 717.8,1957" stroke-width="2.9"/>
<polygon points="718,1970.5 717.6,1973 716.4,1974.7 714.5,1975.4 712.3,1975.1 709.9,1973.7 707.6,1971.4 705.8,1968.6 704.6,1965.5 704.1,1962.5 704.6,1960 705.8,1958.3 707.6,1957.6 709.9,1957.9 712.3,1959.3 714.5,1961.6 716.4,1964.4 717.6,1967.5" stroke-width="2.9"/>
<polyline points="714.1,1970.2 713.2,1970.9 712,1970.9 710.6,1970.2 709.3,1969 708.3,1967.3 707.7,1965.6 707.6,1964 708.1,1962.8 709,1962.1 710.2,1962.1 711.5,1962.8 712.8,1964" fill="none" stroke-width="2.2"/>
<polygon points="970,2057.7 970.2,2055.6 970.9,2053.9 971.9,2052.6 973.3,2051.8 990.6,2041.8 992.2,2041.5 994,2041.8 996,2042.7 997.9,2044.1 999.7,2045.9 1001.4,2048 1002.8,2050.4 1003.8,2052.9 1004.4,2055.3 1004.6,2057.7 1004.4,2059.8 1003.8,2061.5 1002.8,2062.8 1001.4,2063.6 984.1,2073.6 982.4,2073.9 980.6,2073.6 978.7,2072.7 976.7,2071.3 974.9,2069.5 973.3,2067.4 971.9,2065 970.9,2062.5 970.2,2060.1" stroke-width="2.7"/>
<polygon points="987.3,2067.7 987.1,2069.8 986.5,2071.5 985.4,2072.8 984.1,2073.6 982.4,2073.9 980.6,2073.6 978.7,2072.7 976.7,2071.3 974.9,2069.5 973.3,2067.4 971.9,2065 970.9,2062.5 970.2,2060.1 970,2057.7 970.2,2055.6 970.9,2053.9 971.9,2052.6 973.3,2051.8 974.9,2051.5 976.7,2051.8 978.7,2052.7 980.6,2054.1 982.4,2055.9 984.1,2058 985.4,2060.4 986.5,2062.9 987.1,2065.3" stroke-width="2.7"/>
<polygon points="979.1,2047 985.8,2037.4 1003.1,2027.4 1016.5,2035.2 1023.3,2052.4 1016.5,2062 999.2,2072 985.8,2064.2" stroke-width="2.9"/>
<path d="M1023.3 2052.4L1005.9 2062.4" stroke-width="2.9"/>
<path d="M1016.5 2062L999.2 2072" stroke-width="2.9"/>
<path d="M1003.1 2054.2L985.8 2064.2" stroke-width="2.9"/>
<path d="M996.4 2036.9L979.1 2046.9" stroke-width="2.9"/>
<path d="M1003.1 2027.4L985.8 2037.4" stroke-width="2.9"/>
<path d="M1016.5 2035.2L999.2 2045.2" stroke-width="2.9"/>
<polygon points="1005.9,2062.4 999.2,2072 985.8,2064.2 979.1,2046.9 985.8,2037.4 999.2,2045.2" stroke-width="2.9"/>
<polygon points="949.2,2092.7 959.6,2082.3 980.4,2082.3 990.8,2092.7 990.8,2113.7 980.4,2124.1 959.6,2124.1 949.2,2113.7" stroke-width="2.9"/>
<path d="M990.8 2113.7L990.8 2092.7" stroke-width="2.9"/>
<path d="M980.4 2103.3L980.4 2082.3" stroke-width="2.9"/>
<path d="M959.6 2103.3L959.6 2082.3" stroke-width="2.9"/>
<path d="M949.2 2113.7L949.2 2092.7" stroke-width="2.9"/>
<path d="M959.6 2124.1L959.6 2103.1" stroke-width="2.9"/>
<path d="M980.4 2124.1L980.4 2103.1" stroke-width="2.9"/>
<polygon points="990.8,2092.7 980.4,2082.3 959.6,2082.3 949.2,2092.7 959.6,2103.1 980.4,2103.1" stroke-width="2.9"/>
<polygon points="956.6,2074.8 957.3,2073.1 958.6,2071.6 960.5,2070.2 962.8,2069.1 965.5,2068.4 968.5,2068 971.5,2068 974.5,2068.4 977.2,2069.1 979.5,2070.2 981.4,2071.6 982.7,2073.1 983.4,2074.8 983.4,2095.6 982.7,2097.3 981.4,2098.8 979.5,2100.2 977.2,2101.3 974.5,2102 971.5,2102.4 968.5,2102.4 965.5,2102 962.8,2101.3 960.5,2100.2 958.6,2098.8 957.3,2097.3 956.6,2095.6" stroke-width="2.7"/>
<polygon points="979.5,2081.2 981.4,2079.8 982.7,2078.3 983.4,2076.6 983.4,2074.8 982.7,2073.1 981.4,2071.6 979.5,2070.2 977.2,2069.1 974.4,2068.4 971.5,2068 968.5,2068 965.6,2068.4 962.8,2069.1 960.5,2070.2 958.6,2071.6 957.3,2073.1 956.6,2074.8 956.6,2076.6 957.3,2078.3 958.6,2079.8 960.5,2081.2 962.8,2082.3 965.6,2083 968.5,2083.4 971.5,2083.4 974.4,2083 977.2,2082.3" stroke-width="2.7"/>
<polygon points="943.2,2061.2 962.2,2072.2 996.8,2052.2 977.8,2041.2"/>
<polygon points="943.2,2061.2 962.2,2072.2 962.2,2094.2 943.2,2083.2"/>
<polygon points="962.2,2072.2 996.8,2052.2 996.8,2074.2 962.2,2094.2"/>
<path d="M952.7 2062.7L978.7 2047.7" stroke-width="2.2"/>
<polygon points="937.1,2076.7 937.3,2074.6 938,2072.9 939,2071.6 940.4,2070.8 955.9,2061.8 957.6,2061.5 959.4,2061.8 961.3,2062.7 963.3,2064.1 965.1,2065.9 966.7,2068 968.1,2070.4 969.1,2072.9 969.8,2075.3 970,2077.7 969.8,2079.8 969.1,2081.5 968.1,2082.8 966.7,2083.6 951.1,2092.6 949.5,2092.9 947.7,2092.6 945.8,2091.7 943.8,2090.3 942,2088.5 940.4,2086.4 939,2084 938,2081.5 937.3,2079.1" stroke-width="2.7"/>
<polygon points="954.4,2086.7 954.2,2088.8 953.6,2090.5 952.5,2091.8 951.2,2092.6 949.5,2092.9 947.7,2092.6 945.8,2091.7 943.8,2090.3 942,2088.5 940.4,2086.4 939,2084 937.9,2081.5 937.3,2079.1 937.1,2076.7 937.3,2074.6 937.9,2072.9 939,2071.6 940.4,2070.8 942,2070.5 943.8,2070.8 945.8,2071.7 947.7,2073.1 949.5,2074.9 951.2,2077 952.5,2079.4 953.6,2081.9 954.2,2084.3" stroke-width="2.7"/>
<polygon points="916.7,2082.9 923.5,2073.4 940.8,2063.4 954.2,2071.2 960.9,2088.4 954.2,2098 936.9,2108 923.5,2100.2" stroke-width="2.9"/>
<path d="M960.9 2088.4L943.6 2098.4" stroke-width="2.9"/>
<path d="M954.2 2098L936.9 2108" stroke-width="2.9"/>
<path d="M940.8 2090.2L923.5 2100.2" stroke-width="2.9"/>
<path d="M934.1 2072.9L916.7 2082.9" stroke-width="2.9"/>
<path d="M940.8 2063.4L923.5 2073.4" stroke-width="2.9"/>
<path d="M954.2 2071.2L936.9 2081.2" stroke-width="2.9"/>
<polygon points="943.6,2098.4 936.9,2108 923.5,2100.2 916.7,2082.9 923.5,2073.4 936.9,2081.2" stroke-width="2.9"/>
<polygon points="937.1,2094.7 936.7,2097.2 935.5,2098.9 933.6,2099.6 931.4,2099.3 929,2097.9 926.7,2095.6 924.9,2092.8 923.7,2089.7 923.2,2086.7 923.7,2084.2 924.9,2082.5 926.7,2081.8 929,2082.1 931.4,2083.5 933.6,2085.8 935.5,2088.6 936.7,2091.7" stroke-width="2.9"/>
<polyline points="933.2,2094.4 932.3,2095.1 931.1,2095.1 929.7,2094.4 928.4,2093.2 927.4,2091.5 926.8,2089.8 926.7,2088.2 927.2,2087 928.1,2086.3 929.3,2086.3 930.6,2087 931.9,2088.2" fill="none" stroke-width="2.2"/>
<polygon points="1242.6,2154.1 1242.8,2152 1243.5,2150.3 1244.5,2149 1245.9,2148.2 1263.2,2138.2 1264.8,2137.9 1266.7,2138.2 1268.6,2139.1 1270.5,2140.5 1272.3,2142.3 1274,2144.4 1275.3,2146.8 1276.4,2149.3 1277,2151.8 1277.2,2154.1 1277,2156.2 1276.4,2157.9 1275.3,2159.2 1274,2160 1256.7,2170 1255,2170.3 1253.2,2170 1251.3,2169.1 1249.3,2167.7 1247.5,2165.9 1245.9,2163.8 1244.5,2161.4 1243.5,2158.9 1242.8,2156.4" stroke-width="2.7"/>
<polygon points="1259.9,2164.1 1259.7,2166.2 1259.1,2167.9 1258,2169.2 1256.7,2170 1255,2170.3 1253.2,2170 1251.3,2169.1 1249.3,2167.7 1247.5,2165.9 1245.9,2163.8 1244.5,2161.4 1243.5,2158.9 1242.8,2156.5 1242.6,2154.1 1242.8,2152 1243.5,2150.3 1244.5,2149 1245.9,2148.2 1247.5,2147.9 1249.3,2148.2 1251.3,2149.1 1253.2,2150.5 1255,2152.3 1256.7,2154.4 1258,2156.8 1259.1,2159.3 1259.7,2161.7" stroke-width="2.7"/>
<polygon points="1251.7,2143.3 1258.4,2133.8 1275.7,2123.8 1289.2,2131.6 1295.9,2148.8 1289.2,2158.4 1271.8,2168.4 1258.4,2160.7" stroke-width="2.9"/>
<path d="M1295.9 2148.8L1278.5 2158.8" stroke-width="2.9"/>
<path d="M1289.1 2158.4L1271.8 2168.4" stroke-width="2.9"/>
<path d="M1275.7 2150.6L1258.4 2160.6" stroke-width="2.9"/>
<path d="M1269 2133.3L1251.7 2143.3" stroke-width="2.9"/>
<path d="M1275.7 2123.8L1258.4 2133.8" stroke-width="2.9"/>
<path d="M1289.1 2131.6L1271.8 2141.6" stroke-width="2.9"/>
<polygon points="1278.5,2158.8 1271.8,2168.4 1258.4,2160.6 1251.7,2143.3 1258.4,2133.8 1271.8,2141.6" stroke-width="2.9"/>
<polygon points="1221.8,2189.1 1232.2,2178.7 1253,2178.7 1263.4,2189.1 1263.4,2210.1 1253,2220.5 1232.2,2220.5 1221.8,2210.1" stroke-width="2.9"/>
<path d="M1263.4 2210.1L1263.4 2189.1" stroke-width="2.9"/>
<path d="M1253 2199.7L1253 2178.7" stroke-width="2.9"/>
<path d="M1232.2 2199.7L1232.2 2178.7" stroke-width="2.9"/>
<path d="M1221.8 2210.1L1221.8 2189.1" stroke-width="2.9"/>
<path d="M1232.2 2220.5L1232.2 2199.5" stroke-width="2.9"/>
<path d="M1253 2220.5L1253 2199.5" stroke-width="2.9"/>
<polygon points="1263.4,2189.1 1253,2178.7 1232.2,2178.7 1221.8,2189.1 1232.2,2199.5 1253,2199.5" stroke-width="2.9"/>
<polygon points="1229.2,2171.2 1229.9,2169.5 1231.2,2168 1233.1,2166.6 1235.4,2165.5 1238.2,2164.8 1241.1,2164.4 1244.1,2164.4 1247,2164.8 1249.8,2165.5 1252.1,2166.6 1254,2168 1255.3,2169.5 1256,2171.2 1256,2192 1255.3,2193.7 1254,2195.2 1252.1,2196.6 1249.8,2197.7 1247,2198.4 1244.1,2198.8 1241.1,2198.8 1238.2,2198.4 1235.4,2197.7 1233.1,2196.6 1231.2,2195.2 1229.9,2193.7 1229.2,2192" stroke-width="2.7"/>
<polygon points="1252.1,2177.6 1254,2176.2 1255.3,2174.7 1256,2173 1256,2171.2 1255.3,2169.5 1254,2168 1252.1,2166.6 1249.8,2165.5 1247,2164.8 1244.1,2164.4 1241.1,2164.4 1238.2,2164.8 1235.4,2165.5 1233.1,2166.6 1231.2,2168 1229.9,2169.5 1229.2,2171.2 1229.2,2173 1229.9,2174.7 1231.2,2176.2 1233.1,2177.6 1235.4,2178.7 1238.2,2179.4 1241.1,2179.8 1244.1,2179.8 1247,2179.4 1249.8,2178.7" stroke-width="2.7"/>
<polygon points="1215.8,2157.6 1234.8,2168.6 1269.4,2148.6 1250.4,2137.6"/>
<polygon points="1215.8,2157.6 1234.8,2168.6 1234.8,2190.6 1215.8,2179.6"/>
<polygon points="1234.8,2168.6 1269.4,2148.6 1269.4,2170.6 1234.8,2190.6"/>
<path d="M1225.3 2159.1L1251.3 2144.1" stroke-width="2.2"/>
<polygon points="1209.7,2173.1 1209.9,2171 1210.5,2169.3 1211.6,2168 1213,2167.2 1228.5,2158.2 1230.2,2157.9 1232,2158.2 1233.9,2159.1 1235.9,2160.5 1237.7,2162.3 1239.3,2164.4 1240.7,2166.8 1241.7,2169.3 1242.4,2171.8 1242.6,2174.1 1242.4,2176.2 1241.7,2177.9 1240.7,2179.2 1239.3,2180 1223.8,2189 1222.1,2189.3 1220.3,2189 1218.3,2188.1 1216.4,2186.7 1214.6,2184.9 1213,2182.8 1211.6,2180.4 1210.5,2177.9 1209.9,2175.4" stroke-width="2.7"/>
<polygon points="1227,2183.1 1226.8,2185.2 1226.2,2186.9 1225.1,2188.2 1223.8,2189 1222.1,2189.3 1220.3,2189 1218.4,2188.1 1216.4,2186.7 1214.6,2184.9 1213,2182.8 1211.6,2180.4 1210.5,2177.9 1209.9,2175.5 1209.7,2173.1 1209.9,2171 1210.5,2169.3 1211.6,2168 1213,2167.2 1214.6,2166.9 1216.4,2167.2 1218.4,2168.1 1220.3,2169.5 1222.1,2171.3 1223.8,2173.4 1225.1,2175.8 1226.2,2178.3 1226.8,2180.7" stroke-width="2.7"/>
<polygon points="1189.3,2179.3 1196,2169.8 1213.4,2159.8 1226.8,2167.6 1233.5,2184.8 1226.8,2194.4 1209.5,2204.4 1196,2196.7" stroke-width="2.9"/>
<path d="M1233.5 2184.8L1216.2 2194.8" stroke-width="2.9"/>
<path d="M1226.8 2194.4L1209.5 2204.4" stroke-width="2.9"/>
<path d="M1213.4 2186.6L1196.1 2196.6" stroke-width="2.9"/>
<path d="M1206.7 2169.3L1189.3 2179.3" stroke-width="2.9"/>
<path d="M1213.4 2159.8L1196.1 2169.8" stroke-width="2.9"/>
<path d="M1226.8 2167.6L1209.5 2177.6" stroke-width="2.9"/>
<polygon points="1216.2,2194.8 1209.5,2204.4 1196.1,2196.6 1189.3,2179.3 1196.1,2169.8 1209.5,2177.6" stroke-width="2.9"/>
<polygon points="1209.7,2191.1 1209.3,2193.6 1208.1,2195.3 1206.2,2196 1204,2195.7 1201.6,2194.3 1199.3,2192 1197.5,2189.2 1196.3,2186.1 1195.8,2183.1 1196.3,2180.6 1197.5,2178.9 1199.3,2178.2 1201.6,2178.5 1204,2179.9 1206.2,2182.2 1208.1,2185 1209.3,2188.1" stroke-width="2.9"/>
<polyline points="1205.8,2190.8 1204.9,2191.5 1203.7,2191.5 1202.3,2190.8 1201,2189.6 1200,2187.9 1199.4,2186.2 1199.3,2184.6 1199.8,2183.4 1200.7,2182.7 1201.9,2182.7 1203.2,2183.4 1204.5,2184.6" fill="none" stroke-width="2.2"/>
<polygon points="1587.3,2338.5 1587.5,2336.4 1588.2,2334.7 1589.2,2333.4 1590.6,2332.6 1607.9,2322.6 1609.5,2322.3 1611.3,2322.6 1613.3,2323.5 1615.2,2324.9 1617,2326.7 1618.7,2328.8 1620,2331.2 1621.1,2333.7 1621.7,2336.2 1621.9,2338.5 1621.7,2340.6 1621.1,2342.3 1620,2343.6 1618.7,2344.4 1601.4,2354.4 1599.7,2354.7 1597.9,2354.4 1596,2353.5 1594,2352.1 1592.2,2350.3 1590.6,2348.2 1589.2,2345.8 1588.2,2343.3 1587.5,2340.8" stroke-width="2.7"/>
<polygon points="1604.6,2348.5 1604.4,2350.6 1603.8,2352.3 1602.7,2353.6 1601.4,2354.4 1599.7,2354.7 1597.9,2354.4 1596,2353.5 1594,2352.1 1592.2,2350.3 1590.6,2348.2 1589.2,2345.8 1588.2,2343.3 1587.5,2340.9 1587.3,2338.5 1587.5,2336.4 1588.2,2334.7 1589.2,2333.4 1590.6,2332.6 1592.2,2332.3 1594,2332.6 1596,2333.5 1597.9,2334.9 1599.7,2336.7 1601.4,2338.8 1602.7,2341.2 1603.8,2343.7 1604.4,2346.1" stroke-width="2.7"/>
<polygon points="1596.4,2327.8 1603.1,2318.2 1620.4,2308.2 1633.8,2315.9 1640.6,2333.2 1633.8,2342.8 1616.5,2352.8 1603.1,2345.1" stroke-width="2.9"/>
<path d="M1640.6 2333.2L1623.2 2343.2" stroke-width="2.9"/>
<path d="M1633.8 2342.8L1616.5 2352.8" stroke-width="2.9"/>
<path d="M1620.4 2335L1603.1 2345" stroke-width="2.9"/>
<path d="M1613.7 2317.8L1596.4 2327.8" stroke-width="2.9"/>
<path d="M1620.4 2308.2L1603.1 2318.2" stroke-width="2.9"/>
<path d="M1633.8 2316L1616.5 2326" stroke-width="2.9"/>
<polygon points="1623.2,2343.2 1616.5,2352.8 1603.1,2345 1596.4,2327.8 1603.1,2318.2 1616.5,2326" stroke-width="2.9"/>
<polygon points="1566.5,2373.5 1576.9,2363.1 1597.7,2363.1 1608.1,2373.5 1608.1,2394.5 1597.7,2404.9 1576.9,2404.9 1566.5,2394.5" stroke-width="2.9"/>
<path d="M1608.1 2394.5L1608.1 2373.5" stroke-width="2.9"/>
<path d="M1597.7 2384.1L1597.7 2363.1" stroke-width="2.9"/>
<path d="M1576.9 2384.1L1576.9 2363.1" stroke-width="2.9"/>
<path d="M1566.5 2394.5L1566.5 2373.5" stroke-width="2.9"/>
<path d="M1576.9 2404.9L1576.9 2383.9" stroke-width="2.9"/>
<path d="M1597.7 2404.9L1597.7 2383.9" stroke-width="2.9"/>
<polygon points="1608.1,2373.5 1597.7,2363.1 1576.9,2363.1 1566.5,2373.5 1576.9,2383.9 1597.7,2383.9" stroke-width="2.9"/>
<polygon points="1573.9,2355.6 1574.6,2353.9 1575.9,2352.4 1577.8,2351 1580.1,2349.9 1582.8,2349.2 1585.8,2348.8 1588.8,2348.8 1591.8,2349.2 1594.5,2349.9 1596.8,2351 1598.7,2352.4 1600,2353.9 1600.7,2355.6 1600.7,2376.4 1600,2378.1 1598.7,2379.6 1596.8,2381 1594.5,2382.1 1591.8,2382.8 1588.8,2383.2 1585.8,2383.2 1582.8,2382.8 1580.1,2382.1 1577.8,2381 1575.9,2379.6 1574.6,2378.1 1573.9,2376.4" stroke-width="2.7"/>
<polygon points="1596.8,2362 1598.7,2360.6 1600,2359.1 1600.7,2357.4 1600.7,2355.6 1600,2353.9 1598.7,2352.4 1596.8,2351 1594.5,2349.9 1591.7,2349.2 1588.8,2348.8 1585.8,2348.8 1582.9,2349.2 1580.1,2349.9 1577.8,2351 1575.9,2352.4 1574.6,2353.9 1573.9,2355.6 1573.9,2357.4 1574.6,2359.1 1575.9,2360.6 1577.8,2362 1580.1,2363.1 1582.9,2363.8 1585.8,2364.2 1588.8,2364.2 1591.7,2363.8 1594.5,2363.1" stroke-width="2.7"/>
<polygon points="1560.5,2342 1579.5,2353 1614.1,2333 1595.1,2322"/>
<polygon points="1560.5,2342 1579.5,2353 1579.5,2375 1560.5,2364"/>
<polygon points="1579.5,2353 1614.1,2333 1614.1,2355 1579.5,2375"/>
<path d="M1570 2343.5L1596 2328.5" stroke-width="2.2"/>
<polygon points="1554.4,2357.5 1554.6,2355.4 1555.2,2353.7 1556.3,2352.4 1557.7,2351.6 1573.2,2342.6 1574.9,2342.3 1576.7,2342.6 1578.6,2343.5 1580.6,2344.9 1582.4,2346.7 1584,2348.8 1585.4,2351.2 1586.4,2353.7 1587.1,2356.2 1587.3,2358.5 1587.1,2360.6 1586.4,2362.3 1585.4,2363.6 1584,2364.4 1568.5,2373.4 1566.8,2373.7 1565,2373.4 1563,2372.5 1561.1,2371.1 1559.3,2369.3 1557.7,2367.2 1556.3,2364.8 1555.2,2362.3 1554.6,2359.8" stroke-width="2.7"/>
<polygon points="1571.7,2367.5 1571.5,2369.6 1570.9,2371.3 1569.8,2372.6 1568.5,2373.4 1566.8,2373.7 1565,2373.4 1563.1,2372.5 1561.1,2371.1 1559.3,2369.3 1557.7,2367.2 1556.3,2364.8 1555.2,2362.3 1554.6,2359.9 1554.4,2357.5 1554.6,2355.4 1555.2,2353.7 1556.3,2352.4 1557.7,2351.6 1559.3,2351.3 1561.1,2351.6 1563.1,2352.5 1565,2353.9 1566.8,2355.7 1568.5,2357.8 1569.8,2360.2 1570.9,2362.7 1571.5,2365.1" stroke-width="2.7"/>
<polygon points="1534,2363.8 1540.8,2354.2 1558.1,2344.2 1571.5,2351.9 1578.2,2369.2 1571.5,2378.8 1554.2,2388.8 1540.8,2381.1" stroke-width="2.9"/>
<path d="M1578.2 2369.2L1560.9 2379.2" stroke-width="2.9"/>
<path d="M1571.5 2378.8L1554.2 2388.8" stroke-width="2.9"/>
<path d="M1558.1 2371L1540.8 2381" stroke-width="2.9"/>
<path d="M1551.4 2353.8L1534 2363.8" stroke-width="2.9"/>
<path d="M1558.1 2344.2L1540.8 2354.2" stroke-width="2.9"/>
<path d="M1571.5 2352L1554.2 2362" stroke-width="2.9"/>
<polygon points="1560.9,2379.2 1554.2,2388.8 1540.8,2381 1534,2363.8 1540.8,2354.2 1554.2,2362" stroke-width="2.9"/>
<polygon points="1554.4,2375.5 1554,2378 1552.8,2379.7 1550.9,2380.4 1548.7,2380.1 1546.3,2378.7 1544,2376.4 1542.2,2373.6 1541,2370.5 1540.5,2367.5 1541,2365 1542.2,2363.3 1544,2362.6 1546.3,2362.9 1548.7,2364.3 1550.9,2366.6 1552.8,2369.4 1554,2372.5" stroke-width="2.9"/>
<polyline points="1550.5,2375.2 1549.6,2375.9 1548.4,2375.9 1547,2375.2 1545.7,2374 1544.7,2372.3 1544.1,2370.6 1544,2369 1544.5,2367.8 1545.4,2367.1 1546.6,2367.1 1547.9,2367.8 1549.2,2369" fill="none" stroke-width="2.2"/>
<polygon points="437,1934.4 443.5,1917.7 456.5,1910.2 473.8,1920.2 480.3,1929.4 473.8,1946.1 460.8,1953.6 443.5,1943.6" stroke-width="2.9"/>
<path d="M463 1919.4L480.3 1929.4" stroke-width="2.9"/>
<path d="M456.5 1936.1L473.8 1946.1" stroke-width="2.9"/>
<path d="M443.5 1943.6L460.8 1953.6" stroke-width="2.9"/>
<path d="M437 1934.4L454.3 1944.4" stroke-width="2.9"/>
<path d="M443.5 1917.7L460.8 1927.7" stroke-width="2.9"/>
<path d="M456.5 1910.2L473.8 1920.2" stroke-width="2.9"/>
<polygon points="480.3,1929.4 473.8,1946.1 460.8,1953.6 454.3,1944.4 460.8,1927.7 473.8,1920.2" stroke-width="2.9"/>
<polygon points="551,1935.2 550.5,1938.4 549.1,1940.8 546.9,1942.1 544.1,1942.1 541,1940.9 537.9,1938.6 535.2,1935.3 533,1931.5 531.6,1927.5 531.1,1923.7 531.6,1920.4 533,1918 535.2,1916.7 537.9,1916.7 541,1917.9 544.1,1920.2 546.9,1923.5 549.1,1927.3 550.5,1931.3" stroke-width="2.9"/>
<polygon points="547.2,1937.4 546.7,1940.6 545.3,1943 543.1,1944.3 540.3,1944.3 537.2,1943.1 534.1,1940.8 531.4,1937.5 529.2,1933.7 527.7,1929.7 527.3,1925.9 527.7,1922.6 529.2,1920.2 531.4,1918.9 534.1,1918.9 537.2,1920.1 540.3,1922.4 543.1,1925.7 545.3,1929.5 546.7,1933.5" stroke-width="2.9"/>
<polygon points="543.4,1939.6 542.9,1942.8 541.5,1945.2 539.3,1946.5 536.5,1946.5 533.4,1945.3 530.3,1943 527.6,1939.7 525.3,1935.9 523.9,1931.9 523.4,1928.1 523.9,1924.8 525.3,1922.4 527.6,1921.1 530.3,1921.1 533.4,1922.3 536.5,1924.6 539.3,1927.9 541.5,1931.7 542.9,1935.7" stroke-width="2.9"/>
<polygon points="539.6,1941.8 539.1,1945 537.7,1947.4 535.4,1948.7 532.7,1948.7 529.6,1947.5 526.5,1945.2 523.7,1941.9 521.5,1938.1 520.1,1934.1 519.6,1930.2 520.1,1927 521.5,1924.6 523.7,1923.3 526.5,1923.3 529.6,1924.5 532.7,1926.8 535.4,1930.1 537.7,1933.9 539.1,1937.9" stroke-width="2.9"/>
<polygon points="535.7,1944 535.3,1947.2 533.8,1949.6 531.6,1950.9 528.9,1950.9 525.8,1949.7 522.7,1947.4 519.9,1944.1 517.7,1940.3 516.3,1936.3 515.8,1932.5 516.3,1929.2 517.7,1926.8 519.9,1925.5 522.7,1925.5 525.8,1926.7 528.9,1929 531.6,1932.3 533.8,1936.1 535.3,1940.1" stroke-width="2.9"/>
<polygon points="531.9,1946.2 531.4,1949.4 530,1951.8 527.8,1953.1 525.1,1953.1 522,1951.9 518.9,1949.6 516.1,1946.3 513.9,1942.5 512.5,1938.5 512,1934.7 512.5,1931.4 513.9,1929 516.1,1927.7 518.9,1927.7 522,1928.9 525.1,1931.2 527.8,1934.5 530,1938.3 531.4,1942.3" stroke-width="2.9"/>
<polyline points="525.8,1946.3 524.4,1946.8 522.7,1946.5 520.9,1945.4 519.3,1943.7 518,1941.5 517.2,1939.2 517,1937 517.5,1935.3 518.5,1934.3 520,1934 521.8,1934.5 523.6,1935.9 525.1,1937.8 526.3,1940" fill="none" stroke-width="2.9"/>
<polygon points="502.5,1937.9 502.8,1935.2 503.6,1932.9 505,1931.2 506.8,1930.2 515.4,1925.2 517.5,1924.9 519.9,1925.3 522.4,1926.4 524.9,1928.2 527.3,1930.5 529.5,1933.3 531.2,1936.4 532.6,1939.6 533.4,1942.8 533.7,1945.9 533.4,1948.6 532.6,1950.9 531.2,1952.6 529.5,1953.6 520.8,1958.6 518.6,1958.9 516.3,1958.5 513.8,1957.4 511.3,1955.6 508.9,1953.3 506.8,1950.5 505,1947.4 503.6,1944.2 502.8,1941" stroke-width="2.7"/>
<polygon points="525,1950.9 524.7,1953.6 523.9,1955.9 522.6,1957.6 520.8,1958.6 518.7,1958.9 516.3,1958.5 513.8,1957.4 511.3,1955.6 508.9,1953.3 506.7,1950.5 505,1947.4 503.6,1944.2 502.8,1941 502.5,1937.9 502.8,1935.2 503.6,1932.9 505,1931.2 506.7,1930.2 508.9,1929.9 511.3,1930.3 513.8,1931.4 516.3,1933.2 518.7,1935.5 520.8,1938.3 522.6,1941.4 523.9,1944.6 524.7,1947.8" stroke-width="2.7"/>
<polygon points="463.4,1927.9 488.5,1942.4 513.6,1927.9 488.5,1913.4"/>
<polygon points="463.4,1927.9 488.5,1942.4 488.5,1972.4 463.4,1957.9"/>
<polygon points="488.5,1942.4 513.6,1927.9 513.6,1957.9 488.5,1972.4"/>
<polygon points="454.3,1962.7 454.7,1959 455.9,1955.9 457.6,1953.7 460.1,1952.3 472.2,1945.3 475.1,1944.8 478.2,1945.4 481.6,1946.9 485,1949.3 488.2,1952.4 491.1,1956.2 493.5,1960.3 495.3,1964.7 496.4,1969 496.8,1973.2 496.4,1976.8 495.3,1979.9 493.5,1982.2 491.1,1983.5 478.9,1990.5 476.1,1991 472.9,1990.4 469.5,1988.9 466.1,1986.5 462.9,1983.4 460.1,1979.6 457.6,1975.5 455.9,1971.1 454.7,1966.8" stroke-width="2.9"/>
<polygon points="484.7,1980.2 484.3,1983.8 483.2,1986.9 481.3,1989.2 478.9,1990.5 476.1,1991 472.9,1990.4 469.5,1988.9 466.1,1986.5 462.9,1983.4 460.1,1979.6 457.7,1975.5 455.8,1971.1 454.7,1966.8 454.3,1962.7 454.7,1959 455.8,1955.9 457.7,1953.6 460.1,1952.3 462.9,1951.8 466.1,1952.4 469.5,1953.9 472.9,1956.3 476.1,1959.4 478.9,1963.2 481.3,1967.3 483.2,1971.7 484.3,1976" stroke-width="2.9"/>
<polygon points="480.8,1977.9 480.2,1981.6 478.6,1984.3 476.1,1985.7 473,1985.8 469.5,1984.4 466,1981.8 462.9,1978.1 460.4,1973.8 458.8,1969.2 458.2,1964.9 458.8,1961.2 460.4,1958.5 462.9,1957.1 466,1957 469.5,1958.4 473,1961 476.1,1964.7 478.6,1969 480.2,1973.6" stroke-width="2.5"/>
<polygon points="475.6,1974.9 472.5,1979.2 466.5,1975.7 463.4,1967.9 466.5,1963.6 472.5,1967.1" stroke-width="2.2"/>
<polygon points="493.5,1968.4 493.7,1966 494.4,1963.6 495.4,1961.1 496.8,1958.7 498.4,1956.6 500.2,1954.8 502.2,1953.4 504.1,1952.5 505.9,1952.2 507.6,1952.5 518,1958.5 519.3,1959.3 520.4,1960.6 521,1962.3 521.2,1964.4 521,1966.8 520.4,1969.2 519.3,1971.7 518,1974.1 516.3,1976.2 514.5,1978 512.6,1979.4 510.6,1980.3 508.8,1980.6 507.2,1980.3 496.8,1974.3 495.4,1973.5 494.4,1972.2 493.7,1970.5" stroke-width="2.7"/>
<polygon points="521.2,1964.4 521,1966.8 520.4,1969.2 519.3,1971.7 518,1974.1 516.3,1976.2 514.5,1978 512.6,1979.4 510.6,1980.3 508.8,1980.6 507.2,1980.3 505.8,1979.5 504.8,1978.2 504.1,1976.5 503.9,1974.4 504.1,1972 504.8,1969.6 505.8,1967.1 507.2,1964.7 508.8,1962.6 510.6,1960.8 512.6,1959.4 514.5,1958.5 516.3,1958.2 518,1958.5 519.3,1959.3 520.4,1960.6 521,1962.3" stroke-width="2.7"/>
<polygon points="497.9,1975.9 504.3,1959.2 517.3,1951.7 534.7,1961.7 541.1,1970.9 534.7,1987.6 521.7,1995.1 504.3,1985.1" stroke-width="2.9"/>
<path d="M523.8 1960.9L541.2 1970.9" stroke-width="2.9"/>
<path d="M517.3 1977.6L534.7 1987.6" stroke-width="2.9"/>
<path d="M504.3 1985.1L521.7 1995.1" stroke-width="2.9"/>
<path d="M497.8 1975.9L515.2 1985.9" stroke-width="2.9"/>
<path d="M504.3 1959.2L521.7 1969.2" stroke-width="2.9"/>
<path d="M517.3 1951.7L534.7 1961.7" stroke-width="2.9"/>
<polygon points="541.2,1970.9 534.7,1987.6 521.7,1995.1 515.2,1985.9 521.7,1969.2 534.7,1961.7" stroke-width="2.9"/>
<polygon points="534.7,1974.7 534.3,1977.4 533.1,1980.3 531.4,1983 529.3,1985.1 527,1986.4 524.9,1986.8 523.2,1986.1 522.1,1984.5 521.7,1982.2 522.1,1979.4 523.2,1976.5 524.9,1973.8 527,1971.7 529.3,1970.4 531.4,1970 533.1,1970.7 534.3,1972.3" stroke-width="2.9"/>
<polyline points="531,1978.7 530.1,1980.2 529,1981.5 527.7,1982.4 526.5,1982.6 525.6,1982.2 525,1981.2 524.9,1979.8 525.3,1978.1 526.2,1976.6 527.3,1975.3 528.6,1974.4 529.8,1974.2" fill="none" stroke-width="2.2"/>
<polygon points="1320.5,2320 1327,2303.3 1340,2295.8 1357.3,2305.8 1363.8,2315 1357.3,2331.7 1344.3,2339.2 1327,2329.2" stroke-width="2.9"/>
<path d="M1346.5 2305L1363.8 2315" stroke-width="2.9"/>
<path d="M1340 2321.7L1357.3 2331.7" stroke-width="2.9"/>
<path d="M1327 2329.2L1344.3 2339.2" stroke-width="2.9"/>
<path d="M1320.5 2320L1337.8 2330" stroke-width="2.9"/>
<path d="M1327 2303.3L1344.3 2313.3" stroke-width="2.9"/>
<path d="M1340 2295.8L1357.3 2305.8" stroke-width="2.9"/>
<polygon points="1363.8,2315 1357.3,2331.7 1344.3,2339.2 1337.8,2330 1344.3,2313.3 1357.3,2305.8" stroke-width="2.9"/>
<polygon points="1434.5,2320.8 1434,2324 1432.6,2326.4 1430.4,2327.7 1427.6,2327.7 1424.5,2326.5 1421.4,2324.2 1418.7,2320.9 1416.5,2317.1 1415.1,2313.1 1414.6,2309.2 1415.1,2306 1416.5,2303.6 1418.7,2302.3 1421.4,2302.3 1424.5,2303.5 1427.6,2305.8 1430.4,2309.1 1432.6,2312.9 1434,2316.9" stroke-width="2.9"/>
<polygon points="1430.7,2322.9 1430.2,2326.2 1428.8,2328.6 1426.6,2329.9 1423.8,2329.9 1420.7,2328.7 1417.6,2326.4 1414.9,2323.1 1412.7,2319.3 1411.2,2315.3 1410.8,2311.4 1411.2,2308.2 1412.7,2305.8 1414.9,2304.5 1417.6,2304.5 1420.7,2305.7 1423.8,2308 1426.6,2311.3 1428.8,2315.1 1430.2,2319.1" stroke-width="2.9"/>
<polygon points="1426.9,2325.2 1426.4,2328.4 1425,2330.8 1422.8,2332.1 1420,2332.1 1416.9,2330.9 1413.8,2328.6 1411.1,2325.3 1408.8,2321.5 1407.4,2317.5 1406.9,2313.7 1407.4,2310.4 1408.8,2308 1411.1,2306.7 1413.8,2306.7 1416.9,2307.9 1420,2310.2 1422.8,2313.5 1425,2317.3 1426.4,2321.3" stroke-width="2.9"/>
<polygon points="1423.1,2327.3 1422.6,2330.6 1421.2,2333 1418.9,2334.3 1416.2,2334.3 1413.1,2333.1 1410,2330.8 1407.2,2327.5 1405,2323.7 1403.6,2319.7 1403.1,2315.8 1403.6,2312.6 1405,2310.2 1407.2,2308.9 1410,2308.9 1413.1,2310.1 1416.2,2312.4 1418.9,2315.7 1421.2,2319.5 1422.6,2323.5" stroke-width="2.9"/>
<polygon points="1419.2,2329.6 1418.8,2332.8 1417.3,2335.2 1415.1,2336.5 1412.4,2336.5 1409.3,2335.3 1406.2,2333 1403.4,2329.7 1401.2,2325.9 1399.8,2321.9 1399.3,2318.1 1399.8,2314.8 1401.2,2312.4 1403.4,2311.1 1406.2,2311.1 1409.3,2312.3 1412.4,2314.6 1415.1,2317.9 1417.3,2321.7 1418.8,2325.7" stroke-width="2.9"/>
<polygon points="1415.4,2331.8 1414.9,2335 1413.5,2337.4 1411.3,2338.7 1408.6,2338.7 1405.5,2337.5 1402.4,2335.2 1399.6,2331.9 1397.4,2328.1 1396,2324.1 1395.5,2320.2 1396,2317 1397.4,2314.6 1399.6,2313.3 1402.4,2313.3 1405.5,2314.5 1408.6,2316.8 1411.3,2320.1 1413.5,2323.9 1414.9,2327.9" stroke-width="2.9"/>
<polyline points="1409.3,2331.9 1407.9,2332.4 1406.2,2332.1 1404.4,2331 1402.8,2329.3 1401.5,2327.1 1400.7,2324.8 1400.5,2322.6 1401,2320.9 1402,2319.9 1403.5,2319.6 1405.3,2320.1 1407.1,2321.5 1408.6,2323.4 1409.8,2325.6" fill="none" stroke-width="2.9"/>
<polygon points="1386,2323.5 1386.3,2320.8 1387.1,2318.5 1388.5,2316.8 1390.2,2315.8 1398.9,2310.8 1401,2310.5 1403.4,2310.9 1405.9,2312 1408.4,2313.8 1410.8,2316.1 1413,2318.9 1414.7,2322 1416.1,2325.2 1416.9,2328.4 1417.2,2331.5 1416.9,2334.2 1416.1,2336.5 1414.7,2338.2 1413,2339.2 1404.3,2344.2 1402.2,2344.5 1399.8,2344.1 1397.3,2343 1394.8,2341.2 1392.4,2338.9 1390.2,2336.1 1388.5,2333 1387.1,2329.8 1386.3,2326.6" stroke-width="2.7"/>
<polygon points="1408.5,2336.5 1408.2,2339.2 1407.4,2341.5 1406.1,2343.2 1404.3,2344.2 1402.2,2344.5 1399.8,2344.1 1397.3,2343 1394.8,2341.2 1392.4,2338.9 1390.2,2336.1 1388.5,2333 1387.1,2329.8 1386.3,2326.6 1386,2323.5 1386.3,2320.8 1387.1,2318.5 1388.5,2316.8 1390.2,2315.8 1392.4,2315.5 1394.8,2315.9 1397.3,2317 1399.8,2318.8 1402.2,2321.1 1404.3,2323.9 1406.1,2327 1407.4,2330.2 1408.2,2333.4" stroke-width="2.7"/>
<polygon points="1346.9,2313.5 1372,2328 1397.1,2313.5 1372,2299"/>
<polygon points="1346.9,2313.5 1372,2328 1372,2358 1346.9,2343.5"/>
<polygon points="1372,2328 1397.1,2313.5 1397.1,2343.5 1372,2358"/>
<polygon points="1337.8,2348.2 1338.2,2344.6 1339.3,2341.5 1341.2,2339.2 1343.5,2337.9 1355.7,2330.9 1358.5,2330.4 1361.8,2331 1365.1,2332.5 1368.5,2334.9 1371.7,2338 1374.6,2341.8 1377,2345.9 1378.8,2350.3 1379.9,2354.6 1380.3,2358.8 1379.9,2362.4 1378.8,2365.5 1377,2367.8 1374.6,2369.1 1362.5,2376.1 1359.6,2376.6 1356.4,2376 1353,2374.5 1349.6,2372.1 1346.4,2369 1343.5,2365.2 1341.2,2361.1 1339.3,2356.7 1338.2,2352.4" stroke-width="2.9"/>
<polygon points="1368.2,2365.8 1367.8,2369.4 1366.7,2372.5 1364.8,2374.8 1362.4,2376.1 1359.6,2376.6 1356.4,2376 1353,2374.5 1349.6,2372.1 1346.4,2369 1343.6,2365.2 1341.2,2361.1 1339.3,2356.7 1338.2,2352.4 1337.8,2348.2 1338.2,2344.6 1339.3,2341.5 1341.2,2339.2 1343.6,2337.9 1346.4,2337.4 1349.6,2338 1353,2339.5 1356.4,2341.9 1359.6,2345 1362.4,2348.8 1364.8,2352.9 1366.7,2357.3 1367.8,2361.6" stroke-width="2.9"/>
<polygon points="1364.3,2363.5 1363.7,2367.2 1362.1,2369.9 1359.6,2371.3 1356.5,2371.4 1353,2370 1349.5,2367.4 1346.4,2363.7 1343.9,2359.4 1342.3,2354.8 1341.7,2350.5 1342.3,2346.8 1343.9,2344.1 1346.4,2342.7 1349.5,2342.6 1353,2344 1356.5,2346.6 1359.6,2350.3 1362.1,2354.6 1363.7,2359.2" stroke-width="2.5"/>
<polygon points="1359.1,2360.5 1356,2364.8 1350,2361.3 1346.9,2353.5 1350,2349.2 1356,2352.7" stroke-width="2.2"/>
<polygon points="1377,2354 1377.2,2351.7 1377.9,2349.2 1378.9,2346.7 1380.3,2344.3 1381.9,2342.2 1383.8,2340.4 1385.7,2339 1387.6,2338.1 1389.4,2337.8 1391.1,2338.1 1401.5,2344.1 1402.8,2344.9 1403.9,2346.2 1404.5,2347.9 1404.7,2350 1404.5,2352.3 1403.9,2354.8 1402.8,2357.3 1401.5,2359.7 1399.8,2361.8 1398,2363.6 1396.1,2365 1394.1,2365.9 1392.3,2366.2 1390.7,2365.9 1380.3,2359.9 1378.9,2359.1 1377.9,2357.8 1377.2,2356.1" stroke-width="2.7"/>
<polygon points="1404.7,2350 1404.5,2352.4 1403.9,2354.8 1402.8,2357.3 1401.5,2359.7 1399.8,2361.8 1398,2363.6 1396.1,2365 1394.1,2365.9 1392.3,2366.2 1390.7,2365.9 1389.3,2365.1 1388.3,2363.8 1387.6,2362.1 1387.4,2360 1387.6,2357.6 1388.3,2355.2 1389.3,2352.7 1390.7,2350.3 1392.3,2348.2 1394.1,2346.4 1396.1,2345 1398,2344.1 1399.8,2343.8 1401.5,2344.1 1402.8,2344.9 1403.9,2346.2 1404.5,2347.9" stroke-width="2.7"/>
<polygon points="1381.3,2361.5 1387.8,2344.8 1400.8,2337.3 1418.2,2347.3 1424.7,2356.5 1418.2,2373.2 1405.2,2380.7 1387.8,2370.7" stroke-width="2.9"/>
<path d="M1407.3 2346.5L1424.7 2356.5" stroke-width="2.9"/>
<path d="M1400.8 2363.2L1418.2 2373.2" stroke-width="2.9"/>
<path d="M1387.8 2370.7L1405.2 2380.7" stroke-width="2.9"/>
<path d="M1381.3 2361.5L1398.7 2371.5" stroke-width="2.9"/>
<path d="M1387.8 2344.8L1405.2 2354.8" stroke-width="2.9"/>
<path d="M1400.8 2337.3L1418.2 2347.3" stroke-width="2.9"/>
<polygon points="1424.7,2356.5 1418.2,2373.2 1405.2,2380.7 1398.7,2371.5 1405.2,2354.8 1418.2,2347.3" stroke-width="2.9"/>
<polygon points="1418.2,2360.2 1417.8,2363 1416.6,2365.9 1414.9,2368.6 1412.8,2370.7 1410.5,2372 1408.4,2372.4 1406.7,2371.7 1405.6,2370.1 1405.2,2367.8 1405.6,2365 1406.7,2362.1 1408.4,2359.4 1410.5,2357.3 1412.8,2356 1414.9,2355.6 1416.6,2356.3 1417.8,2357.9" stroke-width="2.9"/>
<polyline points="1414.5,2364.3 1413.6,2365.8 1412.5,2367.1 1411.2,2368 1410,2368.2 1409.1,2367.8 1408.5,2366.8 1408.4,2365.4 1408.8,2363.7 1409.7,2362.2 1410.8,2360.9 1412.1,2360 1413.3,2359.8" fill="none" stroke-width="2.2"/>
<path d="M488.7 1651.2L523.7 1672.9" stroke-width="2.5"/>
<path d="M380 1717.4L415 1742" stroke-width="2.5"/>
<path d="M342.5 1877.9L385 1877.9" stroke-width="2.5"/>
<path d="M476.9 2082L476.9 2133" stroke-width="2.5"/>
<path d="M600.6 2022.5L600.6 2070.7" stroke-width="2.5"/>
<path d="M836 2290.3L836 2341.3" stroke-width="2.5"/>
<path d="M1045.9 2279L1045.9 2324.3" stroke-width="2.5"/>
<path d="M1227.3 2362.3L1251 2341" stroke-width="2.5"/>
<path d="M1454.2 2491L1476.8 2471.2" stroke-width="2.5"/>
<path d="M1295.4 2592L1332.2 2561.9" stroke-width="2.5"/>
<path d="M528.5 1782.6L531.4 1807" stroke-width="2.5"/>
<path d="M634.6 1725.9L640.3 1738.9" stroke-width="2.5"/>
<path d="M538.2 1960.1L600.6 1945.9" stroke-width="2.5"/>
<path d="M724.2 1902.3L748 1928.9" stroke-width="2.5"/>
<path d="M813.2 1856.3L852.9 1872.2" stroke-width="2.5"/>
<path d="M1035.6 1954.4L1071.3 1991.3" stroke-width="2.5"/>
<path d="M931.2 2016.8L963.5 2050.9" stroke-width="2.5"/>
<path d="M1202.9 2111.6L1239.8 2145.7" stroke-width="2.5"/>
<path d="M1292.6 2056.6L1327.7 2097.5" stroke-width="2.5"/>
<path d="M1324.9 2408.2L1350.4 2372.5" stroke-width="2.5"/>
<path d="M1556.2 2322.6L1576.1 2337.9" stroke-width="2.5"/>
<path d="M1683.8 2316.9L1692.4 2345.3" stroke-width="2.5"/>
<polygon points="1827,2354.2 1826.5,2357.5 1825.1,2359.9 1822.9,2361.2 1820.1,2361.2 1817,2360 1814,2357.7 1811.2,2354.4 1809,2350.6 1807.6,2346.6 1807.1,2342.8 1807.6,2339.5 1809,2337.1 1811.2,2335.8 1814,2335.8 1817,2337 1820.1,2339.3 1822.9,2342.6 1825.1,2346.4 1826.5,2350.4" stroke-width="2.5"/>
<polygon points="1823.3,2356.4 1822.8,2359.7 1821.4,2362.1 1819.2,2363.3 1816.4,2363.4 1813.3,2362.1 1810.3,2359.8 1807.5,2356.6 1805.3,2352.8 1803.9,2348.7 1803.4,2344.9 1803.9,2341.6 1805.3,2339.2 1807.5,2338 1810.3,2337.9 1813.3,2339.1 1816.4,2341.5 1819.2,2344.7 1821.4,2348.5 1822.8,2352.6" stroke-width="2.5"/>
<polygon points="1819.6,2358.5 1819.1,2361.8 1817.7,2364.2 1815.5,2365.5 1812.7,2365.5 1809.6,2364.3 1806.5,2361.9 1803.8,2358.7 1801.6,2354.9 1800.2,2350.9 1799.7,2347 1800.2,2343.8 1801.6,2341.4 1803.8,2340.1 1806.5,2340.1 1809.6,2341.3 1812.7,2343.6 1815.5,2346.9 1817.7,2350.7 1819.1,2354.7" stroke-width="2.5"/>
<polygon points="1815.9,2360.7 1815.4,2364 1814,2366.3 1811.8,2367.6 1809,2367.6 1805.9,2366.4 1802.8,2364.1 1800.1,2360.9 1797.9,2357 1796.4,2353 1796,2349.2 1796.4,2345.9 1797.9,2343.5 1800.1,2342.2 1802.8,2342.2 1805.9,2343.4 1809,2345.8 1811.8,2349 1814,2352.8 1815.4,2356.8" stroke-width="2.5"/>
<polygon points="1812.2,2362.8 1811.7,2366.1 1810.3,2368.5 1808.1,2369.8 1805.3,2369.8 1802.2,2368.6 1799.1,2366.2 1796.3,2363 1794.1,2359.2 1792.7,2355.2 1792.2,2351.3 1792.7,2348 1794.1,2345.7 1796.3,2344.4 1799.1,2344.4 1802.2,2345.6 1805.3,2347.9 1808.1,2351.1 1810.3,2355 1811.7,2359" stroke-width="2.5"/>
<polygon points="1808.5,2365 1808,2368.2 1806.5,2370.6 1804.3,2371.9 1801.6,2371.9 1798.5,2370.7 1795.4,2368.4 1792.6,2365.1 1790.4,2361.3 1789,2357.3 1788.5,2353.5 1789,2350.2 1790.4,2347.8 1792.6,2346.5 1795.4,2346.5 1798.5,2347.7 1801.6,2350.1 1804.3,2353.3 1806.5,2357.1 1808,2361.1" stroke-width="2.5"/>
<polygon points="1804.7,2367.1 1804.3,2370.4 1802.8,2372.8 1800.6,2374 1797.9,2374.1 1794.8,2372.9 1791.7,2370.5 1788.9,2367.3 1786.7,2363.5 1785.3,2359.4 1784.8,2355.6 1785.3,2352.3 1786.7,2349.9 1788.9,2348.7 1791.7,2348.6 1794.8,2349.9 1797.9,2352.2 1800.6,2355.4 1802.8,2359.2 1804.3,2363.3" stroke-width="2.5"/>
<polygon points="1801,2369.2 1800.5,2372.5 1799.1,2374.9 1796.9,2376.2 1794.1,2376.2 1791.1,2375 1788,2372.7 1785.2,2369.4 1783,2365.6 1781.6,2361.6 1781.1,2357.8 1781.6,2354.5 1783,2352.1 1785.2,2350.8 1788,2350.8 1791.1,2352 1794.1,2354.3 1796.9,2357.6 1799.1,2361.4 1800.5,2365.4" stroke-width="2.5"/>
<polygon points="1764.5,2355.6 1780,2346.6 1792.8,2345.5 1805.5,2361.4 1805.5,2378.4 1790,2387.4 1777.2,2388.5 1764.5,2372.6" stroke-width="2.7"/>
<path d="M1805.6 2378.4L1790 2387.4" stroke-width="2.7"/>
<path d="M1792.8 2379.5L1777.2 2388.5" stroke-width="2.7"/>
<path d="M1780.1 2346.6L1764.5 2355.6" stroke-width="2.7"/>
<path d="M1792.8 2345.5L1777.2 2354.5" stroke-width="2.7"/>
<path d="M1805.6 2361.4L1790 2370.4" stroke-width="2.7"/>
<polygon points="1790,2387.4 1777.2,2388.5 1764.5,2372.6 1764.5,2355.6 1777.2,2354.5 1790,2370.4" stroke-width="2.7"/>
<polygon points="1752.1,2375 1752.3,2372.7 1753,2370.8 1754.2,2369.3 1755.7,2368.5 1771.5,2359.3 1773,2358.5 1774.8,2358.2 1776.8,2358.6 1778.9,2359.5 1781.1,2361 1783.1,2363 1784.9,2365.3 1786.4,2367.9 1787.5,2370.7 1788.2,2373.4 1788.5,2376 1788.2,2378.3 1787.5,2380.2 1786.4,2381.7 1769.1,2391.7 1767.6,2392.5 1765.8,2392.8 1763.7,2392.4 1761.6,2391.5 1759.5,2390 1757.5,2388 1755.7,2385.7 1754.2,2383.1 1753,2380.3 1752.3,2377.6" stroke-width="2.7"/>
<polygon points="1771.2,2386 1770.9,2388.3 1770.2,2390.2 1769.1,2391.7 1767.6,2392.5 1765.8,2392.8 1763.7,2392.4 1761.6,2391.5 1759.5,2390 1757.5,2388 1755.7,2385.7 1754.2,2383.1 1753,2380.3 1752.3,2377.6 1752.1,2375 1752.3,2372.7 1753,2370.8 1754.2,2369.3 1755.7,2368.5 1757.5,2368.2 1759.5,2368.6 1761.6,2369.5 1763.7,2371 1765.8,2373 1767.6,2375.3 1769.1,2377.9 1770.2,2380.7 1770.9,2383.4" stroke-width="2.7"/>
<polygon points="1729.2,2379.8 1737.6,2367.7 1760.1,2354.7 1777,2364.5 1785.4,2386.2 1777,2398.3 1754.5,2411.3 1737.6,2401.5" stroke-width="2.7"/>
<path d="M1785.4 2386.2L1762.9 2399.2" stroke-width="2.7"/>
<path d="M1777 2398.3L1754.5 2411.3" stroke-width="2.7"/>
<path d="M1760.1 2388.5L1737.6 2401.5" stroke-width="2.7"/>
<path d="M1751.7 2366.8L1729.1 2379.8" stroke-width="2.7"/>
<path d="M1760.1 2354.7L1737.6 2367.7" stroke-width="2.7"/>
<path d="M1777 2364.5L1754.5 2377.5" stroke-width="2.7"/>
<polygon points="1762.9,2399.2 1754.5,2411.3 1737.6,2401.5 1729.1,2379.8 1737.6,2367.7 1754.5,2377.5" stroke-width="2.7"/>
<polygon points="1756.4,2395.5 1755.8,2399.2 1754,2401.8 1751.2,2402.9 1747.8,2402.4 1744.2,2400.3 1740.8,2396.9 1738.1,2392.6 1736.3,2388 1735.6,2383.5 1736.3,2379.8 1738.1,2377.2 1740.8,2376.1 1744.2,2376.6 1747.8,2378.7 1751.2,2382.1 1754,2386.4 1755.8,2391" stroke-width="2.7"/>
<polyline points="1750.5,2395.1 1749.2,2396.1 1747.4,2396.1 1745.4,2395.1 1743.4,2393.2 1741.9,2390.8 1741,2388.2 1740.9,2385.7 1741.5,2383.9 1742.9,2382.9 1744.7,2382.9 1746.7,2383.9 1748.6,2385.8" fill="none" stroke-width="2.2"/>
<path d="M1787.8 2390L1835.7 2420.3" stroke-width="2.5"/>
<polygon points="1738.1,2399 1737.6,2402.1 1736.3,2404.4 1734.2,2405.6 1731.5,2405.7 1728.6,2404.5 1725.6,2402.3 1723,2399.2 1720.9,2395.5 1719.5,2391.7 1719,2388 1719.5,2384.9 1720.9,2382.6 1723,2381.4 1725.6,2381.3 1728.6,2382.5 1731.5,2384.7 1734.2,2387.8 1736.3,2391.5 1737.6,2395.3" stroke-width="2.5"/>
<polygon points="1734.4,2401.1 1733.9,2404.3 1732.6,2406.6 1730.5,2407.8 1727.8,2407.8 1724.9,2406.6 1721.9,2404.4 1719.3,2401.3 1717.2,2397.7 1715.8,2393.8 1715.3,2390.1 1715.8,2387 1717.2,2384.7 1719.3,2383.5 1721.9,2383.5 1724.9,2384.6 1727.8,2386.9 1730.5,2390 1732.6,2393.6 1733.9,2397.5" stroke-width="2.5"/>
<polygon points="1730.7,2403.3 1730.2,2406.4 1728.9,2408.7 1726.7,2409.9 1724.1,2409.9 1721.1,2408.8 1718.2,2406.5 1715.5,2403.5 1713.4,2399.8 1712.1,2396 1711.6,2392.3 1712.1,2389.2 1713.4,2386.9 1715.5,2385.7 1718.2,2385.6 1721.1,2386.8 1724.1,2389 1726.7,2392.1 1728.9,2395.8 1730.2,2399.6" stroke-width="2.5"/>
<polygon points="1727,2405.4 1726.5,2408.6 1725.1,2410.8 1723,2412.1 1720.4,2412.1 1717.4,2410.9 1714.5,2408.7 1711.8,2405.6 1709.7,2401.9 1708.4,2398.1 1707.9,2394.4 1708.4,2391.3 1709.7,2389 1711.8,2387.8 1714.5,2387.8 1717.4,2388.9 1720.4,2391.2 1723,2394.3 1725.1,2397.9 1726.5,2401.8" stroke-width="2.5"/>
<polygon points="1723.2,2407.6 1722.8,2410.7 1721.4,2413 1719.3,2414.2 1716.7,2414.2 1713.7,2413.1 1710.8,2410.8 1708.1,2407.7 1706,2404.1 1704.7,2400.2 1704.2,2396.6 1704.7,2393.4 1706,2391.2 1708.1,2389.9 1710.8,2389.9 1713.7,2391.1 1716.7,2393.3 1719.3,2396.4 1721.4,2400.1 1722.8,2403.9" stroke-width="2.5"/>
<polygon points="1719.5,2409.7 1719.1,2412.8 1717.7,2415.1 1715.6,2416.3 1713,2416.4 1710,2415.2 1707.1,2413 1704.4,2409.9 1702.3,2406.2 1701,2402.4 1700.5,2398.7 1701,2395.6 1702.3,2393.3 1704.4,2392.1 1707.1,2392.1 1710,2393.2 1713,2395.5 1715.6,2398.5 1717.7,2402.2 1719.1,2406" stroke-width="2.5"/>
<polygon points="1715.8,2411.9 1715.4,2415 1714,2417.3 1711.9,2418.5 1709.2,2418.5 1706.3,2417.4 1703.4,2415.1 1700.7,2412 1698.6,2408.4 1697.2,2404.5 1696.8,2400.9 1697.2,2397.7 1698.6,2395.4 1700.7,2394.2 1703.4,2394.2 1706.3,2395.4 1709.2,2397.6 1711.9,2400.7 1714,2404.3 1715.4,2408.2" stroke-width="2.5"/>
<polygon points="1712.1,2414 1711.6,2417.1 1710.3,2419.4 1708.2,2420.6 1705.5,2420.7 1702.6,2419.5 1699.6,2417.3 1697,2414.2 1694.9,2410.5 1693.5,2406.7 1693.1,2403 1693.5,2399.9 1694.9,2397.6 1697,2396.4 1699.6,2396.3 1702.6,2397.5 1705.5,2399.7 1708.2,2402.8 1710.3,2406.5 1711.6,2410.3" stroke-width="2.5"/>
<polygon points="1666.2,2442.5 1676.6,2432.1 1697.4,2432.1 1707.8,2442.5 1707.8,2463.5 1697.4,2473.9 1676.6,2473.9 1666.2,2463.5" stroke-width="2.9"/>
<path d="M1707.8 2463.5L1707.8 2442.5" stroke-width="2.9"/>
<path d="M1697.4 2453.1L1697.4 2432.1" stroke-width="2.9"/>
<path d="M1676.6 2453.1L1676.6 2432.1" stroke-width="2.9"/>
<path d="M1666.2 2463.5L1666.2 2442.5" stroke-width="2.9"/>
<path d="M1676.6 2473.9L1676.6 2452.9" stroke-width="2.9"/>
<path d="M1697.4 2473.9L1697.4 2452.9" stroke-width="2.9"/>
<polygon points="1707.8,2442.5 1697.4,2432.1 1676.6,2432.1 1666.2,2442.5 1676.6,2452.9 1697.4,2452.9" stroke-width="2.9"/>
<polygon points="1673.6,2424.6 1674.3,2422.9 1675.6,2421.4 1677.5,2420 1679.8,2418.9 1682.5,2418.2 1685.5,2417.8 1688.5,2417.8 1691.5,2418.2 1694.2,2418.9 1696.5,2420 1698.4,2421.4 1699.7,2422.9 1700.4,2424.6 1700.4,2445.4 1699.7,2447.1 1698.4,2448.6 1696.5,2450 1694.2,2451.1 1691.5,2451.8 1688.5,2452.2 1685.5,2452.2 1682.5,2451.8 1679.8,2451.1 1677.5,2450 1675.6,2448.6 1674.3,2447.1 1673.6,2445.4" stroke-width="2.7"/>
<polygon points="1696.5,2431 1698.4,2429.6 1699.7,2428.1 1700.4,2426.4 1700.4,2424.6 1699.7,2422.9 1698.4,2421.4 1696.5,2420 1694.2,2418.9 1691.4,2418.2 1688.5,2417.8 1685.5,2417.8 1682.6,2418.2 1679.8,2418.9 1677.5,2420 1675.6,2421.4 1674.3,2422.9 1673.6,2424.6 1673.6,2426.4 1674.3,2428.1 1675.6,2429.6 1677.5,2431 1679.8,2432.1 1682.6,2432.8 1685.5,2433.2 1688.5,2433.2 1691.4,2432.8 1694.2,2432.1" stroke-width="2.7"/>
<polygon points="1660.2,2411 1679.2,2422 1713.8,2402 1694.8,2391"/>
<polygon points="1660.2,2411 1679.2,2422 1679.2,2444 1660.2,2433"/>
<polygon points="1679.2,2422 1713.8,2402 1713.8,2424 1679.2,2444"/>
<path d="M1669.7 2412.5L1695.7 2397.5" stroke-width="2.2"/>
<polygon points="1654.1,2426.5 1654.3,2424.4 1655,2422.7 1656,2421.4 1657.3,2420.6 1672.9,2411.6 1674.6,2411.3 1676.4,2411.6 1678.3,2412.5 1680.3,2413.9 1682.1,2415.7 1683.7,2417.8 1685.1,2420.2 1686.1,2422.7 1686.8,2425.2 1687,2427.5 1686.8,2429.6 1686.1,2431.3 1685.1,2432.6 1683.7,2433.4 1668.2,2442.4 1666.5,2442.7 1664.7,2442.4 1662.8,2441.5 1660.8,2440.1 1659,2438.3 1657.3,2436.2 1656,2433.8 1655,2431.3 1654.3,2428.8" stroke-width="2.7"/>
<polygon points="1671.4,2436.5 1671.2,2438.6 1670.6,2440.3 1669.5,2441.6 1668.2,2442.4 1666.5,2442.7 1664.7,2442.4 1662.8,2441.5 1660.8,2440.1 1659,2438.3 1657.4,2436.2 1656,2433.8 1654.9,2431.3 1654.3,2428.9 1654.1,2426.5 1654.3,2424.4 1654.9,2422.7 1656,2421.4 1657.4,2420.6 1659,2420.3 1660.8,2420.6 1662.8,2421.5 1664.7,2422.9 1666.5,2424.7 1668.2,2426.8 1669.5,2429.2 1670.6,2431.7 1671.2,2434.1" stroke-width="2.7"/>
<polygon points="1633.7,2432.8 1640.5,2423.2 1657.8,2413.2 1671.2,2420.9 1677.9,2438.2 1671.2,2447.8 1653.9,2457.8 1640.5,2450.1" stroke-width="2.9"/>
<path d="M1677.9 2438.2L1660.6 2448.2" stroke-width="2.9"/>
<path d="M1671.2 2447.8L1653.9 2457.8" stroke-width="2.9"/>
<path d="M1657.8 2440L1640.5 2450" stroke-width="2.9"/>
<path d="M1651.1 2422.8L1633.7 2432.8" stroke-width="2.9"/>
<path d="M1657.8 2413.2L1640.5 2423.2" stroke-width="2.9"/>
<path d="M1671.2 2421L1653.9 2431" stroke-width="2.9"/>
<polygon points="1660.6,2448.2 1653.9,2457.8 1640.5,2450 1633.7,2432.8 1640.5,2423.2 1653.9,2431" stroke-width="2.9"/>
<polygon points="1654.1,2444.5 1653.7,2447 1652.5,2448.7 1650.6,2449.4 1648.4,2449.1 1646,2447.7 1643.7,2445.4 1641.9,2442.6 1640.7,2439.5 1640.2,2436.5 1640.7,2434 1641.9,2432.3 1643.7,2431.6 1646,2431.9 1648.4,2433.3 1650.6,2435.6 1652.5,2438.4 1653.7,2441.5" stroke-width="2.9"/>
<polyline points="1650.2,2444.2 1649.3,2444.9 1648.1,2444.9 1646.7,2444.2 1645.4,2443 1644.4,2441.3 1643.8,2439.6 1643.7,2438 1644.2,2436.8 1645.1,2436.1 1646.3,2436.1 1647.6,2436.8 1648.9,2438" fill="none" stroke-width="2.2"/>
<path d="M1705.9 2430.4L1758.8 2460.7" stroke-width="2.5"/>
<polygon points="1695.9,2586.9 1698.6,2584.8 1700,2582.3 1700,2579.7 1698.6,2577.2 1695.9,2575.1 1692.3,2573.6 1688,2572.8 1683.4,2572.8 1679.1,2573.6 1675.5,2575.1 1672.8,2577.2 1671.4,2579.7 1671.4,2582.3 1672.8,2584.8 1675.5,2586.9 1679.1,2588.4 1683.4,2589.2 1688,2589.2 1692.3,2588.4" stroke-width="2.5"/>
<polygon points="1695.9,2582.6 1698.6,2580.5 1700,2578 1700,2575.4 1698.6,2572.9 1695.9,2570.8 1692.3,2569.2 1688,2568.4 1683.4,2568.4 1679.1,2569.2 1675.5,2570.8 1672.8,2572.9 1671.4,2575.4 1671.4,2578 1672.8,2580.5 1675.5,2582.6 1679.1,2584.1 1683.4,2584.9 1688,2584.9 1692.3,2584.1" stroke-width="2.5"/>
<polygon points="1695.9,2578.2 1698.6,2576.1 1700,2573.6 1700,2571 1698.6,2568.5 1695.9,2566.4 1692.3,2564.9 1688,2564.1 1683.4,2564.1 1679.1,2564.9 1675.5,2566.4 1672.8,2568.5 1671.4,2571 1671.4,2573.6 1672.8,2576.1 1675.5,2578.2 1679.1,2579.8 1683.4,2580.6 1688,2580.6 1692.3,2579.8" stroke-width="2.5"/>
<polygon points="1695.9,2573.9 1698.6,2571.8 1700,2569.3 1700,2566.7 1698.6,2564.2 1695.9,2562.1 1692.3,2560.6 1688,2559.8 1683.4,2559.8 1679.1,2560.6 1675.5,2562.1 1672.8,2564.2 1671.4,2566.7 1671.4,2569.3 1672.8,2571.8 1675.5,2573.9 1679.1,2575.4 1683.4,2576.2 1688,2576.2 1692.3,2575.4" stroke-width="2.5"/>
<polygon points="1695.9,2569.6 1698.6,2567.5 1700,2565 1700,2562.4 1698.6,2559.9 1695.9,2557.8 1692.3,2556.2 1688,2555.4 1683.4,2555.4 1679.1,2556.2 1675.5,2557.8 1672.8,2559.9 1671.4,2562.4 1671.4,2565 1672.8,2567.5 1675.5,2569.6 1679.1,2571.1 1683.4,2571.9 1688,2571.9 1692.3,2571.1" stroke-width="2.5"/>
<polygon points="1695.9,2565.2 1698.6,2563.1 1700,2560.6 1700,2558 1698.6,2555.5 1695.9,2553.4 1692.3,2551.9 1688,2551.1 1683.4,2551.1 1679.1,2551.9 1675.5,2553.4 1672.8,2555.5 1671.4,2558 1671.4,2560.6 1672.8,2563.1 1675.5,2565.2 1679.1,2566.8 1683.4,2567.6 1688,2567.6 1692.3,2566.8" stroke-width="2.5"/>
<polygon points="1695.9,2560.9 1698.6,2558.8 1700,2556.3 1700,2553.7 1698.6,2551.2 1695.9,2549.1 1692.3,2547.6 1688,2546.8 1683.4,2546.8 1679.1,2547.6 1675.5,2549.1 1672.8,2551.2 1671.4,2553.7 1671.4,2556.3 1672.8,2558.8 1675.5,2560.9 1679.1,2562.4 1683.4,2563.2 1688,2563.2 1692.3,2562.4" stroke-width="2.5"/>
<polygon points="1688.7,2550.2 1689,2547.3 1689.8,2544.2 1691.1,2541.1 1692.8,2538.1 1694.8,2535.4 1697.1,2533.2 1699.5,2531.5 1701.9,2530.4 1704.2,2530 1706.3,2530.3 1718.4,2537.3 1720.1,2538.3 1721.4,2539.9 1722.2,2542.1 1722.5,2544.8 1722.2,2547.7 1721.4,2550.8 1720.1,2553.9 1718.4,2556.9 1716.4,2559.6 1714.1,2561.8 1711.7,2563.5 1709.2,2564.6 1707,2565 1704.9,2564.7 1691.1,2556.7 1689.8,2555.1 1689,2552.9" stroke-width="2.7"/>
<polygon points="1722.5,2544.8 1722.2,2547.7 1721.4,2550.8 1720.1,2553.9 1718.4,2556.9 1716.4,2559.6 1714.1,2561.8 1711.7,2563.5 1709.3,2564.6 1707,2565 1704.9,2564.7 1703.2,2563.7 1701.9,2562.1 1701.1,2559.9 1700.8,2557.2 1701.1,2554.3 1701.9,2551.2 1703.2,2548.1 1704.9,2545.1 1707,2542.4 1709.3,2540.2 1711.7,2538.5 1714.1,2537.4 1716.4,2537 1718.4,2537.3 1720.1,2538.3 1721.4,2539.9 1722.2,2542.1" stroke-width="2.7"/>
<polygon points="1720.8,2543.8 1720.2,2547.9 1718.7,2552.3 1716.3,2556.4 1713.3,2560 1709.9,2562.5 1706.6,2563.8 1703.6,2563.8 1701.2,2562.4 1699.6,2559.8 1699.1,2556.2 1699.6,2552.1 1701.2,2547.7 1703.6,2543.6 1706.6,2540 1709.9,2537.5 1713.3,2536.2 1716.3,2536.2 1718.7,2537.6 1720.2,2540.2" stroke-width="2.5"/>
<polygon points="1724.7,2546.1 1724.2,2550.2 1722.7,2554.6 1720.3,2558.7 1717.3,2562.3 1713.9,2564.8 1710.6,2566.1 1707.5,2566.1 1705.2,2564.7 1703.6,2562.1 1703.1,2558.6 1703.6,2554.4 1705.2,2550 1707.5,2545.9 1710.6,2542.3 1713.9,2539.8 1717.3,2538.5 1720.3,2538.5 1722.7,2539.9 1724.2,2542.5" stroke-width="2.5"/>
<polygon points="1728.7,2548.3 1728.2,2552.5 1726.7,2556.9 1724.3,2561 1721.2,2564.6 1717.9,2567.1 1714.6,2568.4 1711.5,2568.4 1709.1,2567 1707.6,2564.4 1707.1,2560.8 1707.6,2556.7 1709.1,2552.3 1711.5,2548.2 1714.6,2544.6 1717.9,2542.1 1721.2,2540.8 1724.3,2540.8 1726.7,2542.2 1728.2,2544.8" stroke-width="2.5"/>
<polygon points="1732.7,2550.7 1732.2,2554.8 1730.6,2559.2 1728.2,2563.3 1725.2,2566.9 1721.9,2569.4 1718.5,2570.7 1715.5,2570.7 1713.1,2569.3 1711.6,2566.7 1711.1,2563.2 1711.6,2559 1713.1,2554.6 1715.5,2550.5 1718.5,2546.9 1721.9,2544.4 1725.2,2543.1 1728.2,2543.1 1730.6,2544.5 1732.2,2547.1" stroke-width="2.5"/>
<polygon points="1736.7,2552.9 1736.2,2557.1 1734.6,2561.5 1732.2,2565.6 1729.2,2569.2 1725.9,2571.7 1722.5,2573 1719.5,2573 1717.1,2571.6 1715.6,2569 1715,2565.4 1715.6,2561.3 1717.1,2556.9 1719.5,2552.8 1722.5,2549.2 1725.9,2546.7 1729.2,2545.4 1732.2,2545.4 1734.6,2546.8 1736.2,2549.4" stroke-width="2.5"/>
<polygon points="1740.7,2555.2 1740.1,2559.4 1738.6,2563.8 1736.2,2567.9 1733.2,2571.5 1729.8,2574 1726.5,2575.3 1723.5,2575.3 1721.1,2573.9 1719.6,2571.3 1719,2567.8 1719.6,2563.6 1721.1,2559.2 1723.5,2555.1 1726.5,2551.5 1729.8,2549 1733.2,2547.7 1736.2,2547.7 1738.6,2549.1 1740.1,2551.7" stroke-width="2.5"/>
<polyline points="1734,2563.1 1732.5,2565.4 1730.7,2567.2 1728.7,2568.3 1726.9,2568.4 1725.5,2567.7 1724.6,2566.2 1724.5,2564.1 1725,2561.6 1726.1,2559.1 1727.7,2557 1729.6,2555.4 1731.6,2554.6 1733.3,2554.7 1734.5,2555.7" fill="none" stroke-width="2.5"/>
<polygon points="1670.8,2512 1671.6,2510.2 1673,2508.4 1675.1,2506.9 1677.8,2505.7 1680.8,2504.9 1684,2504.4 1687.4,2504.4 1690.6,2504.9 1693.7,2505.7 1696.3,2506.9 1698.3,2508.4 1699.8,2510.2 1700.5,2512 1700.5,2558 1699.8,2559.8 1698.3,2561.6 1696.3,2563.1 1693.7,2564.3 1690.6,2565.1 1687.4,2565.6 1684,2565.6 1680.8,2565.1 1677.8,2564.3 1675.1,2563.1 1673,2561.6 1671.6,2559.8 1670.8,2558" stroke-width="2.7"/>
<polygon points="1695.9,2520.9 1698.6,2518.8 1700,2516.3 1700,2513.7 1698.6,2511.2 1695.9,2509.1 1692.3,2507.6 1688,2506.8 1683.4,2506.8 1679.1,2507.6 1675.5,2509.1 1672.8,2511.2 1671.4,2513.7 1671.4,2516.3 1672.8,2518.8 1675.5,2520.9 1679.1,2522.4 1683.4,2523.2 1688,2523.2 1692.3,2522.4" stroke-width="2.5"/>
<polygon points="1695.9,2515.9 1698.6,2513.8 1700,2511.3 1700,2508.7 1698.6,2506.2 1695.9,2504.1 1692.3,2502.6 1688,2501.8 1683.4,2501.8 1679.1,2502.6 1675.5,2504.1 1672.8,2506.2 1671.4,2508.7 1671.4,2511.3 1672.8,2513.8 1675.5,2515.9 1679.1,2517.4 1683.4,2518.2 1688,2518.2 1692.3,2517.4" stroke-width="2.5"/>
<polygon points="1695.9,2510.9 1698.6,2508.8 1700,2506.3 1700,2503.7 1698.6,2501.2 1695.9,2499.1 1692.3,2497.6 1688,2496.8 1683.4,2496.8 1679.1,2497.6 1675.5,2499.1 1672.8,2501.2 1671.4,2503.7 1671.4,2506.3 1672.8,2508.8 1675.5,2510.9 1679.1,2512.4 1683.4,2513.2 1688,2513.2 1692.3,2512.4" stroke-width="2.5"/>
<polygon points="1695.9,2505.9 1698.6,2503.8 1700,2501.3 1700,2498.7 1698.6,2496.2 1695.9,2494.1 1692.3,2492.6 1688,2491.8 1683.4,2491.8 1679.1,2492.6 1675.5,2494.1 1672.8,2496.2 1671.4,2498.7 1671.4,2501.3 1672.8,2503.8 1675.5,2505.9 1679.1,2507.4 1683.4,2508.2 1688,2508.2 1692.3,2507.4" stroke-width="2.5"/>
<polygon points="1695.9,2500.9 1698.6,2498.8 1700,2496.3 1700,2493.7 1698.6,2491.2 1695.9,2489.1 1692.3,2487.6 1688,2486.8 1683.4,2486.8 1679.1,2487.6 1675.5,2489.1 1672.8,2491.2 1671.4,2493.7 1671.4,2496.3 1672.8,2498.8 1675.5,2500.9 1679.1,2502.4 1683.4,2503.2 1688,2503.2 1692.3,2502.4" stroke-width="2.5"/>
<polygon points="1695.9,2495.9 1698.6,2493.8 1700,2491.3 1700,2488.7 1698.6,2486.2 1695.9,2484.1 1692.3,2482.6 1688,2481.8 1683.4,2481.8 1679.1,2482.6 1675.5,2484.1 1672.8,2486.2 1671.4,2488.7 1671.4,2491.3 1672.8,2493.8 1675.5,2495.9 1679.1,2497.4 1683.4,2498.2 1688,2498.2 1692.3,2497.4" stroke-width="2.5"/>
<polyline points="1692.9,2490.4 1692.7,2488.9 1691.5,2487.5 1689.6,2486.5 1687.2,2485.9 1684.6,2485.9 1682.2,2486.4 1680.2,2487.3 1678.9,2488.6 1678.5,2490.1 1679,2491.6 1680.4,2492.8 1682.5,2493.7 1685,2494.2 1687.6,2494" fill="none" stroke-width="2.5"/>
<path d="M1644.1 2564L1671.8 2545.1" stroke-width="2.5"/>
<polygon points="1665.5,2608.2 1675.6,2598.1 1695.8,2598.1 1705.9,2608.2 1705.9,2632.2 1695.8,2642.3 1675.6,2642.3 1665.5,2632.2" stroke-width="2.9"/>
<path d="M1705.9 2632.2L1705.9 2608.2" stroke-width="2.9"/>
<path d="M1695.8 2622.1L1695.8 2598.1" stroke-width="2.9"/>
<path d="M1675.6 2622.1L1675.6 2598.1" stroke-width="2.9"/>
<path d="M1665.5 2632.2L1665.5 2608.2" stroke-width="2.9"/>
<path d="M1675.6 2642.3L1675.6 2618.3" stroke-width="2.9"/>
<path d="M1695.8 2642.3L1695.8 2618.3" stroke-width="2.9"/>
<polygon points="1705.9,2608.2 1695.8,2598.1 1675.6,2598.1 1665.5,2608.2 1675.6,2618.3 1695.8,2618.3" stroke-width="2.9"/>
<ellipse cx="1685.7" cy="2608.2" rx="13" ry="7.5" stroke-width="2.7"/>
<ellipse cx="1685.7" cy="2610.2" rx="9" ry="5" stroke-width="2.2"/>
<path d="M1685.9 2630L1685.9 2638Q1685.9 2668 1712.9 2681L1740 2694" fill="none" stroke-width="18"/>
<path d="M1685.9 2630L1685.9 2638Q1685.9 2668 1712.9 2681L1740 2694" fill="none" stroke="#fff" stroke-width="12"/>
<polygon points="1713.2,2694 1719.7,2677.3 1732.7,2669.8 1748.3,2678.8 1754.8,2688 1748.3,2704.7 1735.3,2712.2 1719.7,2703.2" stroke-width="2.7"/>
<path d="M1739.2 2679L1754.8 2688" stroke-width="2.7"/>
<path d="M1719.7 2703.2L1735.3 2712.2" stroke-width="2.7"/>
<path d="M1713.2 2694L1728.8 2703" stroke-width="2.7"/>
<path d="M1719.7 2677.3L1735.3 2686.3" stroke-width="2.7"/>
<path d="M1732.7 2669.8L1748.3 2678.8" stroke-width="2.7"/>
<polygon points="1754.8,2688 1748.3,2704.7 1735.3,2712.2 1728.8,2703 1735.3,2686.3 1748.3,2678.8" stroke-width="2.7"/>
<path d="M1753.6 2683.9L1762 2685.1L1793.2 2706.4Q1802.5 2712.8 1805 2720.3Q1801.2 2734.8 1789 2743.7Q1781.1 2744.1 1771.7 2737.8L1740.5 2716.5L1736.4 2709.1Z" fill="#fff" stroke-width="2.9"/>
<path d="M1750.3 2688.7L1757.1 2694.4Q1786.2 2714.3 1792.2 2725.6" fill="none" stroke-width="2.5"/>
<path d="M1739.7 2704.3L1747.5 2708.5Q1776.6 2728.4 1789.3 2729.9" fill="none" stroke-width="2.5"/>
<path d="M1762 2685.1L1757.1 2694.4" stroke-width="2.5"/>
<path d="M1740.5 2716.5L1747.5 2708.5" stroke-width="2.5"/>
<path d="M1797 2732L1893 2787.5" fill="none" stroke-width="29"/>
<path d="M1797 2732L1893 2787.5" fill="none" stroke="#fff" stroke-width="23"/>
<path d="M1794 2745.4L1813.2 2728.8" stroke-width="1.8"/>
<path d="M1806 2724.6L1801.2 2749.6" stroke-width="1.8"/>
<path d="M1801.9 2748.3L1819.7 2734.3" stroke-width="1.8"/>
<path d="M1812.5 2730.1L1809.1 2752.5" stroke-width="1.8"/>
<path d="M1809.8 2751.3L1826.2 2739.7" stroke-width="1.8"/>
<path d="M1819 2735.5L1817 2755.5" stroke-width="1.8"/>
<path d="M1817.7 2754.2L1832.7 2745.2" stroke-width="1.8"/>
<path d="M1825.5 2741L1824.9 2758.4" stroke-width="1.8"/>
<path d="M1825.7 2757.2L1839.1 2750.6" stroke-width="1.8"/>
<path d="M1831.9 2746.4L1832.9 2761.4" stroke-width="1.8"/>
<path d="M1753.6 2683.9L1762 2685.1L1793.2 2706.4Q1802.5 2712.8 1805 2720.3Q1801.2 2734.8 1789 2743.7Q1781.1 2744.1 1771.7 2737.8L1740.5 2716.5L1736.4 2709.1Z" fill="#fff" stroke-width="2.9"/>
<path d="M1750.3 2688.7L1757.1 2694.4Q1786.2 2714.3 1792.2 2725.6" fill="none" stroke-width="2.5"/>
<path d="M1739.7 2704.3L1747.5 2708.5Q1776.6 2728.4 1789.3 2729.9" fill="none" stroke-width="2.5"/>
<path d="M1762 2685.1L1757.1 2694.4" stroke-width="2.5"/>
<path d="M1740.5 2716.5L1747.5 2708.5" stroke-width="2.5"/>
<path d="M1625.1 2720.5L1684.1 2671.2" stroke-width="2.5"/>
<path d="M1868 2643L1895.2 2656.6Q1922 2670 1923.9 2685L1923.9 2685Q1925.8 2700 1925.8 2720L1925.8 2740" fill="none" stroke-width="21"/>
<path d="M1868 2643L1895.2 2656.6Q1922 2670 1923.9 2685L1923.9 2685Q1925.8 2700 1925.8 2720L1925.8 2740" fill="none" stroke="#fff" stroke-width="15"/>
<polygon points="1836.2,2649.5 1843.6,2630.5 1858.3,2622 1877.4,2633 1884.8,2643.5 1877.4,2662.5 1862.7,2671 1843.6,2660" stroke-width="2.9"/>
<path d="M1865.7 2632.5L1884.7 2643.5" stroke-width="2.9"/>
<path d="M1858.3 2651.5L1877.4 2662.5" stroke-width="2.9"/>
<path d="M1843.6 2660L1862.7 2671" stroke-width="2.9"/>
<path d="M1836.3 2649.5L1855.3 2660.5" stroke-width="2.9"/>
<path d="M1843.6 2630.5L1862.7 2641.5" stroke-width="2.9"/>
<path d="M1858.3 2622L1877.4 2633" stroke-width="2.9"/>
<polygon points="1884.7,2643.5 1877.4,2662.5 1862.7,2671 1855.3,2660.5 1862.7,2641.5 1877.4,2633" stroke-width="2.9"/>
<path d="M1925 2845L1925 2923.5" fill="none" stroke-width="40"/>
<path d="M1925 2845L1925 2923.5" fill="none" stroke="#fff" stroke-width="34"/>
<rect x="1900" y="2921" width="50" height="6" fill="#fff" stroke="none"/>
<path d="M1922.1 2854.5L1939.5 2860.2" stroke-width="1.8"/>
<path d="M1937.9 2851.5L1923.8 2863.2" stroke-width="1.8"/>
<path d="M1924.6 2863L1940.4 2869" stroke-width="1.8"/>
<path d="M1938.7 2860.3L1926.3 2871.7" stroke-width="1.8"/>
<path d="M1927 2871.5L1941.3 2877.8" stroke-width="1.8"/>
<path d="M1939.6 2869.1L1928.7 2880.2" stroke-width="1.8"/>
<path d="M1929.5 2880.1L1942.2 2886.6" stroke-width="1.8"/>
<path d="M1940.5 2877.9L1931.2 2888.7" stroke-width="1.8"/>
<path d="M1932 2888.6L1943 2895.4" stroke-width="1.8"/>
<path d="M1941.4 2886.8L1933.6 2897.2" stroke-width="1.8"/>
<path d="M1934.4 2897.1L1943.9 2904.2" stroke-width="1.8"/>
<path d="M1942.3 2895.6L1936.1 2905.8" stroke-width="1.8"/>
<path d="M1947.8 2757L1953.3 2768.2L1953.3 2824Q1953.3 2840.7 1945.8 2850Q1925.8 2857.4 1905.8 2850Q1898.3 2840.7 1898.3 2824L1898.3 2768.2L1903.8 2757Z" fill="#fff" stroke-width="2.9"/>
<path d="M1939.4 2757L1938.2 2770Q1938.2 2822.1 1929.5 2838.8" fill="none" stroke-width="2.5"/>
<path d="M1912.2 2757L1913.4 2770Q1913.4 2822.1 1922.1 2838.8" fill="none" stroke-width="2.5"/>
<path d="M1953.3 2768.2L1938.2 2770" stroke-width="2.5"/>
<path d="M1898.3 2768.2L1913.4 2770" stroke-width="2.5"/>
<polygon points="1902,2737.5 1913.9,2725.6 1937.7,2725.6 1949.6,2737.5 1949.6,2755.5 1937.7,2767.4 1913.9,2767.4 1902,2755.5" stroke-width="2.9"/>
<path d="M1949.6 2755.5L1949.6 2737.5" stroke-width="2.9"/>
<path d="M1902 2755.5L1902 2737.5" stroke-width="2.9"/>
<path d="M1913.9 2767.4L1913.9 2749.4" stroke-width="2.9"/>
<path d="M1937.7 2767.4L1937.7 2749.4" stroke-width="2.9"/>
<polygon points="1949.6,2737.5 1937.7,2725.6 1913.9,2725.6 1902,2737.5 1913.9,2749.4 1937.7,2749.4" stroke-width="2.9"/>
<ellipse cx="1925.8" cy="2735.5" rx="12" ry="6" stroke-width="2.5"/>
<path d="M1957.6 2828.2C1985 2868 2010 2896 2045 2902C2085 2903 2105 2878 2125.2 2840.5" fill="none" stroke-width="3.4"/>
<path d="M1950.5 2863.5C1972 2900 2000 2926 2040 2932C2095 2932 2125 2900 2149.9 2856.4" fill="none" stroke-width="3.4"/>
<text x="1756" y="2964" font-size="40" text-anchor="start">–1852</text>
<polyline points="1673.5,2972 1925,2972 1925,2904" fill="none" stroke-width="2.9"/>
<rect x="585" y="2390" width="89" height="92" fill="#fff" stroke-width="2.4"/>
<text x="629.5" y="2455" font-size="51" text-anchor="middle">A</text>
<text x="46.4" y="362" font-size="46" text-anchor="start">M</text>
<polygon points="813.8,631.5 915.1,690 1051.1,611.5 949.8,553"/>
<polygon points="813.8,631.5 915.1,690 915.1,840 813.8,781.5"/>
<polygon points="915.1,690 1051.1,611.5 1051.1,761.5 915.1,840"/>
<use href="#bf" transform="matrix(0.866 0.5 0 1 813.8 631.5)"/>
<use href="#br" transform="matrix(0.866 -0.5 0 1 915.125 690)"/>
<polygon points="880.1,568.8 958,613.8 1035.9,568.8 958,523.8"/>
<polygon points="880.1,568.8 958,613.8 958,651.8 880.1,606.8"/>
<polygon points="958,613.8 1035.9,568.8 1035.9,606.8 958,651.8"/>
<use href="#c3" transform="matrix(0.866 0.5 0.866 -0.5 880.0509 568.75)"/>
<ellipse cx="958" cy="569.8" rx="23.5" ry="13.5"/>
<polygon points="934.1,556.8 946,544.8 969.9,544.8 981.9,556.8 981.9,567.8 969.9,579.7 946,579.7 934.1,567.8"/>
<path d="M981.9 567.8L981.9 556.8"/>
<path d="M934.1 567.8L934.1 556.8"/>
<path d="M946.1 579.7L946.1 568.7"/>
<path d="M969.9 579.7L969.9 568.7"/>
<polygon points="981.9,556.8 969.9,544.8 946.1,544.8 934.1,556.8 946.1,568.7 969.9,568.7"/>
<polygon points="944,541.8 944.7,540.1 946.1,538.4 948,537 950.5,535.9 953.3,535.1 956.4,534.7 959.6,534.7 962.6,535.1 965.5,535.9 968,537 969.9,538.4 971.3,540.1 972,541.8 972,557.7 971.3,559.4 969.9,561.1 968,562.5 965.5,563.6 962.6,564.4 959.6,564.8 956.4,564.8 953.3,564.4 950.5,563.6 948,562.5 946.1,561.1 944.7,559.4 944,557.7"/>
<polygon points="968,548.5 969.9,547.1 971.3,545.4 972,543.7 972,541.8 971.3,540.1 969.9,538.4 968,537 965.5,535.9 962.6,535.1 959.6,534.7 956.4,534.7 953.3,535.1 950.5,535.9 948,537 946.1,538.4 944.7,540.1 944,541.8 944,543.7 944.7,545.4 946.1,547.1 948,548.5 950.5,549.6 953.3,550.4 956.4,550.8 959.6,550.8 962.6,550.4 965.5,549.6"/>
<path d="M949 546.8L955 546.8" stroke-width="2.2"/>
<path d="M961 546.8L967 546.8" stroke-width="2.2"/>
<polygon points="1468.8,1009.3 1570.1,1067.8 1706.1,989.3 1604.8,930.8"/>
<polygon points="1468.8,1009.3 1570.1,1067.8 1570.1,1217.8 1468.8,1159.3"/>
<polygon points="1570.1,1067.8 1706.1,989.3 1706.1,1139.3 1570.1,1217.8"/>
<use href="#bf" transform="matrix(0.866 0.5 0 1 1468.8 1009.3)"/>
<use href="#br" transform="matrix(0.866 -0.5 0 1 1570.125 1067.8)"/>
<polygon points="1535.1,946.5 1613,991.5 1690.9,946.5 1613,901.5"/>
<polygon points="1535.1,946.5 1613,991.5 1613,1029.5 1535.1,984.5"/>
<polygon points="1613,991.5 1690.9,946.5 1690.9,984.5 1613,1029.5"/>
<use href="#c3" transform="matrix(0.866 0.5 0.866 -0.5 1535.0509 946.55)"/>
<ellipse cx="1613" cy="947.5" rx="23.5" ry="13.5"/>
<polygon points="1589.1,934.5 1601,922.6 1624.9,922.6 1636.9,934.5 1636.9,945.5 1624.9,957.5 1601,957.5 1589.1,945.5"/>
<path d="M1636.9 945.5L1636.9 934.5"/>
<path d="M1589.1 945.5L1589.1 934.5"/>
<path d="M1601.1 957.5L1601.1 946.5"/>
<path d="M1624.9 957.5L1624.9 946.5"/>
<polygon points="1636.9,934.5 1624.9,922.6 1601.1,922.6 1589.1,934.5 1601.1,946.5 1624.9,946.5"/>
<polygon points="1599,919.6 1599.7,917.9 1601.1,916.2 1603,914.8 1605.5,913.7 1608.3,912.9 1611.4,912.5 1614.6,912.5 1617.7,912.9 1620.5,913.7 1623,914.8 1624.9,916.2 1626.3,917.9 1627,919.6 1627,935.5 1626.3,937.2 1624.9,938.9 1623,940.3 1620.5,941.4 1617.7,942.2 1614.6,942.6 1611.4,942.6 1608.3,942.2 1605.5,941.4 1603,940.3 1601.1,938.9 1599.7,937.2 1599,935.5"/>
<polygon points="1623,926.3 1624.9,924.9 1626.3,923.2 1627,921.5 1627,919.6 1626.3,917.9 1624.9,916.2 1623,914.8 1620.5,913.7 1617.6,912.9 1614.6,912.5 1611.4,912.5 1608.3,912.9 1605.5,913.7 1603,914.8 1601.1,916.2 1599.7,917.9 1599,919.6 1599,921.5 1599.7,923.2 1601.1,924.9 1603,926.3 1605.5,927.4 1608.3,928.2 1611.4,928.6 1614.6,928.6 1617.6,928.2 1620.5,927.4"/>
<path d="M1604 924.5L1610 924.5" stroke-width="2.2"/>
<path d="M1616 924.5L1622 924.5" stroke-width="2.2"/>
<path d="M805.8 818.4L866 783.5" stroke-width="2.5"/>
<path d="M1458.6 1197.6L1521 1161.6" stroke-width="2.5"/>
<path d="M873.3 330L872.8 342Q872 360 858.5 370L856.2 371.7Q845 380 832.6 386.4L819 393.4" fill="none" stroke-width="20"/>
<path d="M873.3 330L872.8 342Q872 360 858.5 370L856.2 371.7Q845 380 832.6 386.4L819 393.4" fill="none" stroke="#fff" stroke-width="14"/>
<polygon points="853.7,308.2 863.5,298.4 883.1,298.4 892.9,308.2 892.9,330.2 883.1,340 863.5,340 853.7,330.2" stroke-width="2.9"/>
<path d="M892.9 330.2L892.9 308.2" stroke-width="2.9"/>
<path d="M883.1 320.4L883.1 298.4" stroke-width="2.9"/>
<path d="M863.5 320.4L863.5 298.4" stroke-width="2.9"/>
<path d="M853.7 330.2L853.7 308.2" stroke-width="2.9"/>
<path d="M863.5 340L863.5 318" stroke-width="2.9"/>
<path d="M883.1 340L883.1 318" stroke-width="2.9"/>
<polygon points="892.9,308.2 883.1,298.4 863.5,298.4 853.7,308.2 863.5,318 883.1,318" stroke-width="2.9"/>
<ellipse cx="873.3" cy="309" rx="12.5" ry="7.2" stroke-width="2.5"/>
<ellipse cx="873.3" cy="310.5" rx="8.5" ry="4.8" stroke-width="2.2"/>
<path d="M752.9 433C742.4 438.9 707.4 455.9 689.8 468.4C672.1 480.9 661.1 492.9 647 508C632.9 523.1 620.2 544.4 605.1 558.8C590 573.1 570.4 582.7 556.6 594.1C542.8 605.5 529.8 616.2 522.2 627.2C514.6 638.2 512.1 647.9 511 660C509.9 672.1 510.6 687.6 515.6 700C520.6 712.4 530.5 724.8 541.2 734.5C551.9 744.2 573.5 754.1 580 758" fill="none" stroke-width="33"/>
<path d="M752.9 433C742.4 438.9 707.4 455.9 689.8 468.4C672.1 480.9 661.1 492.9 647 508C632.9 523.1 620.2 544.4 605.1 558.8C590 573.1 570.4 582.7 556.6 594.1C542.8 605.5 529.8 616.2 522.2 627.2C514.6 638.2 512.1 647.9 511 660C509.9 672.1 510.6 687.6 515.6 700C520.6 712.4 530.5 724.8 541.2 734.5C551.9 744.2 573.5 754.1 580 758" fill="none" stroke="#fff" stroke-width="27"/>
<path d="M743 423.1L751.4 448.5" stroke-width="1.8"/>
<path d="M757 444.9L737.4 426.7" stroke-width="1.8"/>
<path d="M738.2 428L745 450.8" stroke-width="1.8"/>
<path d="M750.6 447.2L732.6 431.6" stroke-width="1.8"/>
<path d="M733.5 432.9L738.5 453.1" stroke-width="1.8"/>
<path d="M744.1 449.5L727.9 436.5" stroke-width="1.8"/>
<path d="M728.7 437.8L732.1 455.4" stroke-width="1.8"/>
<path d="M737.7 451.8L723.1 441.4" stroke-width="1.8"/>
<path d="M723.9 442.7L725.7 457.7" stroke-width="1.8"/>
<path d="M731.3 454.1L718.3 446.3" stroke-width="1.8"/>
<path d="M586.2 746.7L568 763.8" stroke-width="1.8"/>
<path d="M573.8 767.3L580.5 743.2" stroke-width="1.8"/>
<path d="M579.6 744.8L563.2 758.7" stroke-width="1.8"/>
<path d="M568.9 762.2L573.8 741.3" stroke-width="1.8"/>
<path d="M572.9 742.8L558.4 753.7" stroke-width="1.8"/>
<path d="M564.1 757.2L567.1 739.3" stroke-width="1.8"/>
<path d="M566.2 740.9L553.6 748.6" stroke-width="1.8"/>
<path d="M559.3 752.1L560.4 737.4" stroke-width="1.8"/>
<path d="M820.2 414L815 421.5L779.3 441.3Q768.6 447.2 760.5 446.8Q748.1 435.6 745.3 419.2Q749.1 412.2 759.9 406.3L795.6 386.5L804.6 386Z" fill="#fff" stroke-width="2.9"/>
<path d="M817.2 408.7L808.4 412.5Q775.1 431 761.3 431.4" fill="none" stroke-width="2.5"/>
<path d="M807.6 391.3L799.7 396.7Q766.4 415.2 758.7 426.7" fill="none" stroke-width="2.5"/>
<path d="M815 421.5L808.4 412.5" stroke-width="2.5"/>
<path d="M795.6 386.5L799.7 396.7" stroke-width="2.5"/>
<polygon points="802.5,388.8 809.2,379.2 821.4,372.2 834.8,379.9 841.5,397.2 834.8,406.8 822.6,413.8 809.2,406.1" stroke-width="2.7"/>
<path d="M841.5 397.2L829.4 404.2" stroke-width="2.7"/>
<path d="M834.8 406.8L822.6 413.8" stroke-width="2.7"/>
<path d="M814.6 381.8L802.5 388.8" stroke-width="2.7"/>
<path d="M821.4 372.2L809.2 379.2" stroke-width="2.7"/>
<path d="M834.8 380L822.6 387" stroke-width="2.7"/>
<polygon points="829.4,404.2 822.6,413.8 809.2,406 802.5,388.8 809.2,379.2 822.6,387" stroke-width="2.7"/>
<path d="M624.6 803.8L615.4 802.8L581 780.3Q570.7 773.5 567.8 765.4Q571.8 749.2 585 739Q593.6 738.4 604 745.1L638.4 767.6L643 775.6Z" fill="#fff" stroke-width="2.9"/>
<path d="M628.1 798.4L620.6 792.4Q588.5 771.4 581.7 759.1" fill="none" stroke-width="2.5"/>
<path d="M639.5 781L630.9 776.5Q598.8 755.5 584.8 754.3" fill="none" stroke-width="2.5"/>
<path d="M615.4 802.8L620.6 792.4" stroke-width="2.5"/>
<path d="M638.4 767.6L630.9 776.5" stroke-width="2.5"/>
<polygon points="630.1,801.5 636.6,784.8 649.6,777.3 661.7,784.3 668.2,793.5 661.7,810.2 648.7,817.7 636.6,810.7" stroke-width="2.7"/>
<path d="M656.1 786.5L668.2 793.5" stroke-width="2.7"/>
<path d="M636.6 810.7L648.7 817.7" stroke-width="2.7"/>
<path d="M630.1 801.5L642.2 808.5" stroke-width="2.7"/>
<path d="M636.6 784.8L648.7 791.8" stroke-width="2.7"/>
<path d="M649.6 777.3L661.7 784.3" stroke-width="2.7"/>
<polygon points="668.2,793.5 661.7,810.2 648.7,817.7 642.2,808.5 648.7,791.8 661.7,784.3" stroke-width="2.7"/>
<polygon points="644,813.2 652.1,792.6 668.1,783.4 683.7,792.4 691.7,803.8 683.7,824.4 667.6,833.6 652.1,824.6" stroke-width="2.9"/>
<path d="M676.1 794.8L691.7 803.8" stroke-width="2.9"/>
<path d="M652.1 824.6L667.6 833.6" stroke-width="2.9"/>
<path d="M644.1 813.2L659.6 822.2" stroke-width="2.9"/>
<path d="M652.1 792.6L667.6 801.6" stroke-width="2.9"/>
<path d="M668.1 783.4L683.7 792.4" stroke-width="2.9"/>
<polygon points="691.7,803.8 683.7,824.4 667.6,833.6 659.6,822.2 667.6,801.6 683.7,792.4" stroke-width="2.9"/>
<polygon points="685.2,807.5 684.6,811.6 683,815.9 680.4,819.8 677.3,822.9 674,824.8 670.9,825.3 668.4,824.3 666.7,821.9 666.1,818.5 666.7,814.4 668.4,810.1 670.9,806.2 674,803.1 677.3,801.2 680.4,800.7 683,801.7 684.6,804.1" stroke-width="2.9"/>
<polyline points="679.8,813.4 678.6,815.7 676.9,817.6 675,818.8 673.3,819.1 671.9,818.5 671.1,817.1 670.9,815 671.5,812.6 672.8,810.3 674.4,808.4 676.3,807.2 678,806.9" fill="none" stroke-width="2.2"/>
<path d="M536.7 508L580.9 554.4" stroke-width="2.5"/>
<path d="M688 821L700 828" stroke-width="2.5"/>
<polygon points="716.2,820.5 715.7,824.3 714.3,828.3 712.1,832.1 709.3,835.4 706.2,837.7 703.2,838.9 700.4,838.9 698.2,837.6 696.8,835.2 696.3,832 696.8,828.1 698.2,824.1 700.4,820.3 703.2,817 706.2,814.7 709.3,813.5 712.1,813.5 714.3,814.8 715.7,817.2" stroke-width="2.5"/>
<polygon points="720.1,822.7 719.6,826.5 718.2,830.6 716,834.4 713.2,837.6 710.1,840 707.1,841.2 704.3,841.1 702.1,839.9 700.7,837.5 700.2,834.2 700.7,830.4 702.1,826.3 704.3,822.5 707.1,819.3 710.1,817 713.2,815.7 716,815.8 718.2,817 719.6,819.4" stroke-width="2.5"/>
<polygon points="724,825 723.5,828.8 722.1,832.8 719.9,836.6 717.1,839.9 714,842.2 711,843.4 708.2,843.4 706,842.1 704.6,839.7 704.1,836.5 704.6,832.6 706,828.6 708.2,824.8 711,821.5 714,819.2 717.1,818 719.9,818 722.1,819.3 723.5,821.7" stroke-width="2.5"/>
<polygon points="727.9,827.2 727.4,831 726,835.1 723.8,838.9 721,842.1 717.9,844.5 714.9,845.7 712.1,845.6 709.9,844.4 708.5,842 708,838.7 708.5,834.9 709.9,830.8 712.1,827 714.9,823.8 717.9,821.5 721,820.2 723.8,820.3 726,821.5 727.4,823.9" stroke-width="2.5"/>
<polygon points="731.8,829.5 731.3,833.3 729.9,837.3 727.7,841.1 724.9,844.4 721.8,846.7 718.8,847.9 716,847.9 713.8,846.6 712.4,844.2 711.9,841 712.4,837.1 713.8,833.1 716,829.3 718.8,826 721.8,823.7 724.9,822.5 727.7,822.5 729.9,823.8 731.3,826.2" stroke-width="2.5"/>
<polygon points="809.5,829 809,832.2 807.6,834.6 805.4,835.9 802.6,835.9 799.6,834.7 796.5,832.4 793.7,829.1 791.5,825.3 790.1,821.3 789.6,817.5 790.1,814.2 791.5,811.8 793.7,810.5 796.5,810.5 799.6,811.7 802.6,814 805.4,817.3 807.6,821.1 809,825.1" stroke-width="2.5"/>
<polygon points="805.6,831.2 805.1,834.5 803.7,836.9 801.5,838.1 798.7,838.2 795.7,837 792.6,834.6 789.8,831.4 787.6,827.6 786.2,823.5 785.7,819.7 786.2,816.4 787.6,814 789.8,812.8 792.6,812.7 795.7,814 798.7,816.3 801.5,819.5 803.7,823.3 805.1,827.4" stroke-width="2.5"/>
<polygon points="801.7,833.5 801.2,836.7 799.8,839.1 797.6,840.4 794.8,840.4 791.8,839.2 788.7,836.9 785.9,833.6 783.7,829.8 782.3,825.8 781.8,822 782.3,818.7 783.7,816.3 785.9,815 788.7,815 791.8,816.2 794.8,818.5 797.6,821.8 799.8,825.6 801.2,829.6" stroke-width="2.5"/>
<polygon points="797.8,835.7 797.3,839 795.9,841.4 793.7,842.6 790.9,842.7 787.9,841.5 784.8,839.1 782,835.9 779.8,832.1 778.4,828 777.9,824.2 778.4,820.9 779.8,818.5 782,817.3 784.8,817.2 787.9,818.5 790.9,820.8 793.7,824 795.9,827.8 797.3,831.9" stroke-width="2.5"/>
<polygon points="793.9,838 793.4,841.2 792,843.6 789.8,844.9 787,844.9 784,843.7 780.9,841.4 778.1,838.1 775.9,834.3 774.5,830.3 774,826.5 774.5,823.2 775.9,820.8 778.1,819.5 780.9,819.5 784,820.7 787,823 789.8,826.3 792,830.1 793.4,834.1" stroke-width="2.5"/>
<polyline points="787.8,838.1 786.4,838.6 784.7,838.3 782.9,837.2 781.3,835.5 780,833.3 779.2,831 779,828.8 779.5,827.1 780.5,826.1 782,825.8 783.8,826.3 785.6,827.7 787.1,829.6 788.3,831.8" fill="none" stroke-width="2.5"/>
<polygon points="763.9,830.7 764.2,828 765,825.7 766.4,824 768.1,823 776.8,818 778.9,817.7 781.3,818.1 783.8,819.2 786.3,821 788.7,823.3 790.9,826.1 792.6,829.2 794,832.4 794.8,835.6 795.1,838.7 794.8,841.4 794,843.7 792.6,845.4 790.9,846.4 782.2,851.4 780,851.7 777.7,851.3 775.2,850.2 772.7,848.4 770.3,846.1 768.1,843.3 766.4,840.2 765,837 764.2,833.8" stroke-width="2.7"/>
<polygon points="786.4,843.7 786.1,846.4 785.3,848.7 784,850.4 782.2,851.4 780.1,851.7 777.7,851.3 775.2,850.2 772.7,848.4 770.3,846.1 768.1,843.3 766.4,840.2 765,837 764.2,833.8 763.9,830.7 764.2,828 765,825.7 766.4,824 768.1,823 770.3,822.7 772.7,823.1 775.2,824.2 777.7,826 780.1,828.3 782.2,831.1 784,834.2 785.3,837.4 786.1,840.6" stroke-width="2.7"/>
<polygon points="724.3,821.7 753.8,838.7 783.2,821.7 753.8,804.7"/>
<polygon points="724.3,821.7 753.8,838.7 753.8,872.7 724.3,855.7"/>
<polygon points="753.8,838.7 783.2,821.7 783.2,855.7 753.8,872.7"/>
<polygon points="711.6,859.2 712,855 713.3,851.5 715.4,848.9 729.2,840.9 732,839.3 735.2,838.8 738.9,839.5 742.8,841.2 746.6,843.9 750.3,847.5 753.6,851.8 756.3,856.5 758.4,861.5 759.6,866.5 760.1,871.2 759.6,875.4 758.4,878.9 756.3,881.5 742.4,889.5 739.7,891.1 736.4,891.6 732.8,890.9 728.9,889.2 725,886.5 721.4,882.9 718.1,878.6 715.4,873.9 713.3,868.9 712,863.9" stroke-width="2.9"/>
<polygon points="746.2,879.2 745.8,883.4 744.5,886.9 742.4,889.5 739.7,891.1 736.4,891.6 732.8,890.9 728.9,889.2 725,886.5 721.4,882.9 718.1,878.6 715.4,873.9 713.3,868.9 712,863.9 711.6,859.2 712,855 713.3,851.5 715.4,848.9 718.1,847.3 721.4,846.8 725,847.5 728.9,849.2 732.8,851.9 736.4,855.5 739.7,859.8 742.4,864.5 744.5,869.5 745.8,874.5" stroke-width="2.9"/>
<polygon points="742.3,877 741.7,881.4 739.8,884.6 736.8,886.3 733,886.3 728.9,884.7 724.8,881.5 721,877.2 718,872 716.1,866.6 715.5,861.5 716.1,857 718,853.8 721,852.1 724.8,852.1 728.9,853.7 733,856.9 736.8,861.2 739.8,866.4 741.7,871.8" stroke-width="2.5"/>
<polygon points="735.8,873.2 732.4,878.1 725.4,874.1 722,865.2 725.4,860.3 732.4,864.3" stroke-width="2.2"/>
<polygon points="757.5,868.7 757.8,866.1 758.5,863.4 759.6,860.6 761.1,858 762.9,855.7 764.9,853.7 767,852.2 769.2,851.2 771.2,850.9 773,851.2 774.5,852 783.4,857.2 784.9,858 786,859.5 786.7,861.4 787,863.7 786.7,866.3 786,869 784.9,871.8 783.4,874.4 781.6,876.7 779.6,878.7 777.4,880.2 775.3,881.1 773.3,881.5 771.5,881.2 770,880.4 761.1,875.2 759.6,874.4 758.5,872.9 757.8,871" stroke-width="2.7"/>
<polygon points="787,863.7 786.7,866.3 786,869 784.9,871.8 783.4,874.4 781.6,876.7 779.6,878.7 777.4,880.2 775.3,881.1 773.3,881.5 771.5,881.2 770,880.4 768.9,878.9 768.1,877 767.9,874.7 768.1,872.1 768.9,869.4 770,866.6 771.5,864 773.3,861.7 775.3,859.7 777.4,858.2 779.6,857.3 781.6,856.9 783.4,857.2 784.9,858 786,859.5 786.7,861.4" stroke-width="2.7"/>
<polygon points="785.7,862.5 785.2,866.3 783.8,870.3 781.6,874.1 778.8,877.4 775.7,879.7 772.6,880.9 769.8,880.9 767.6,879.6 766.2,877.2 765.7,874 766.2,870.1 767.6,866.1 769.8,862.3 772.6,859 775.7,856.7 778.8,855.5 781.6,855.5 783.8,856.8 785.2,859.2" stroke-width="2.5"/>
<polygon points="789.6,864.7 789.1,868.5 787.7,872.6 785.5,876.4 782.7,879.6 779.6,882 776.5,883.2 773.7,883.1 771.5,881.9 770.1,879.5 769.6,876.2 770.1,872.4 771.5,868.3 773.7,864.5 776.5,861.3 779.6,859 782.7,857.7 785.5,857.8 787.7,859 789.1,861.4" stroke-width="2.5"/>
<polygon points="793.5,867 793,870.8 791.6,874.8 789.4,878.6 786.6,881.9 783.5,884.2 780.4,885.4 777.6,885.4 775.4,884.1 774,881.7 773.5,878.5 774,874.6 775.4,870.6 777.6,866.8 780.4,863.5 783.5,861.2 786.6,860 789.4,860 791.6,861.3 793,863.7" stroke-width="2.5"/>
<polygon points="797.4,869.2 796.9,873 795.5,877.1 793.2,880.9 790.5,884.1 787.4,886.5 784.3,887.7 781.5,887.6 779.3,886.4 777.9,884 777.4,880.7 777.9,876.9 779.3,872.8 781.5,869 784.3,865.8 787.4,863.5 790.5,862.2 793.2,862.3 795.5,863.5 796.9,865.9" stroke-width="2.5"/>
<polygon points="801.3,871.5 800.8,875.3 799.3,879.3 797.1,883.1 794.4,886.4 791.3,888.7 788.2,889.9 785.4,889.9 783.2,888.6 781.8,886.2 781.3,883 781.8,879.1 783.2,875.1 785.4,871.3 788.2,868 791.3,865.7 794.4,864.5 797.1,864.5 799.3,865.8 800.8,868.2" stroke-width="2.5"/>
<polyline points="795.1,878.7 793.7,880.8 792,882.5 790.2,883.4 788.6,883.6 787.3,882.9 786.5,881.5 786.3,879.6 786.8,877.3 787.9,875 789.4,873 791.1,871.6 792.9,870.8 794.4,870.9 795.6,871.8" fill="none" stroke-width="2.5"/>
<path d="M673.5 952.9L719.8 886.7" stroke-width="2.5"/>
<path d="M797 884L803 887" stroke-width="2.5"/>
<path d="M898.5 948.5C904.6 952.4 922.9 963.4 935 972C947.1 980.6 959.2 991.4 970.9 1000.2C982.6 1009 994.1 1018.1 1005 1025C1015.9 1031.9 1022.4 1036.3 1036.1 1041.6C1049.8 1046.9 1070.7 1050.8 1087.2 1056.9C1103.8 1063.1 1115.6 1067.8 1135.4 1078.5C1155.2 1089.2 1191.4 1113.7 1206.2 1121C1221 1128.3 1221 1122.2 1224 1122.5" fill="none" stroke-width="31"/>
<path d="M898.5 948.5C904.6 952.4 922.9 963.4 935 972C947.1 980.6 959.2 991.4 970.9 1000.2C982.6 1009 994.1 1018.1 1005 1025C1015.9 1031.9 1022.4 1036.3 1036.1 1041.6C1049.8 1046.9 1070.7 1050.8 1087.2 1056.9C1103.8 1063.1 1115.6 1067.8 1135.4 1078.5C1155.2 1089.2 1191.4 1113.7 1206.2 1121C1221 1128.3 1221 1122.2 1224 1122.5" fill="none" stroke="#fff" stroke-width="25"/>
<path d="M894.8 960.6L914.2 945.1" stroke-width="1.8"/>
<path d="M909.2 941.4L899.8 964.4" stroke-width="1.8"/>
<path d="M900.9 962.9L918.1 950.3" stroke-width="1.8"/>
<path d="M913.1 946.6L905.9 966.7" stroke-width="1.8"/>
<path d="M907 965.2L922 955.5" stroke-width="1.8"/>
<path d="M917 951.8L912 969" stroke-width="1.8"/>
<path d="M913 967.5L926 960.7" stroke-width="1.8"/>
<path d="M921 957L918 971.3" stroke-width="1.8"/>
<path d="M1228 1110.6L1209.5 1127.6" stroke-width="1.8"/>
<path d="M1216 1131.4L1221.5 1106.9" stroke-width="1.8"/>
<path d="M1220.6 1108.4L1203.9 1122.3" stroke-width="1.8"/>
<path d="M1210.4 1126.1L1214.1 1104.7" stroke-width="1.8"/>
<path d="M1213.2 1106.2L1198.3 1117" stroke-width="1.8"/>
<path d="M1204.8 1120.8L1206.7 1102.5" stroke-width="1.8"/>
<path d="M1205.8 1104L1192.7 1111.7" stroke-width="1.8"/>
<path d="M1199.2 1115.5L1199.3 1100.3" stroke-width="1.8"/>
<path d="M851.3 891.1L860.8 893L895.2 919.5Q905.6 927.4 908.1 936Q903.1 952 888.9 961Q880 960.7 869.6 952.8L835.2 926.3L830.9 917.7Z" fill="#fff" stroke-width="2.9"/>
<path d="M847.4 896.2L854.9 903.1Q887 927.8 893.3 941" fill="none" stroke-width="2.5"/>
<path d="M834.8 912.6L843.4 918.1Q875.5 942.8 889.9 945.5" fill="none" stroke-width="2.5"/>
<path d="M860.8 893L854.9 903.1" stroke-width="2.5"/>
<path d="M835.2 926.3L843.4 918.1" stroke-width="2.5"/>
<polygon points="810.8,901.5 817.3,884.8 830.3,877.3 841.6,883.8 848,893 841.6,909.7 828.6,917.2 817.3,910.7" stroke-width="2.7"/>
<path d="M836.8 886.5L848.1 893" stroke-width="2.7"/>
<path d="M817.3 910.7L828.6 917.2" stroke-width="2.7"/>
<path d="M810.8 901.5L822.1 908" stroke-width="2.7"/>
<path d="M817.3 884.8L828.6 891.3" stroke-width="2.7"/>
<path d="M830.3 877.3L841.6 883.8" stroke-width="2.7"/>
<polygon points="848.1,893 841.6,909.7 828.6,917.2 822.1,908 828.6,891.3 841.6,883.8" stroke-width="2.7"/>
<polygon points="788.2,892.8 796.2,872.1 812.2,862.9 827.8,871.9 835.8,883.2 827.8,903.9 811.8,913.1 796.2,904.1" stroke-width="2.9"/>
<path d="M820.2 874.2L835.8 883.2" stroke-width="2.9"/>
<path d="M796.2 904.1L811.8 913.1" stroke-width="2.9"/>
<path d="M788.2 892.8L803.8 901.8" stroke-width="2.9"/>
<path d="M796.2 872.1L811.8 881.1" stroke-width="2.9"/>
<path d="M812.2 862.9L827.8 871.9" stroke-width="2.9"/>
<polygon points="835.8,883.2 827.8,903.9 811.8,913.1 803.8,901.8 811.8,881.1 827.8,871.9" stroke-width="2.9"/>
<path d="M1281.6 1182.9L1271 1180.5L1230.2 1151.6Q1218 1143 1214.2 1133.8Q1217.9 1117.1 1232.4 1108.2Q1242.2 1108.7 1254.5 1117.4L1295.3 1146.3L1301 1155.5Z" fill="#fff" stroke-width="2.9"/>
<path d="M1285.3 1177.7L1276.3 1170.2Q1238.2 1143.2 1229.8 1129.1" fill="none" stroke-width="2.5"/>
<path d="M1297.3 1160.7L1287.2 1154.7Q1249.2 1127.8 1233.1 1124.5" fill="none" stroke-width="2.5"/>
<path d="M1271 1180.5L1276.3 1170.2" stroke-width="2.5"/>
<path d="M1295.3 1146.3L1287.2 1154.7" stroke-width="2.5"/>
<polygon points="1286,1183 1292.4,1166.3 1305.4,1158.8 1316.7,1165.3 1323.2,1174.5 1316.7,1191.2 1303.7,1198.7 1292.4,1192.2" stroke-width="2.7"/>
<path d="M1311.9 1168L1323.2 1174.5" stroke-width="2.7"/>
<path d="M1292.4 1192.2L1303.7 1198.7" stroke-width="2.7"/>
<path d="M1285.9 1183L1297.2 1189.5" stroke-width="2.7"/>
<path d="M1292.4 1166.3L1303.7 1172.8" stroke-width="2.7"/>
<path d="M1305.4 1158.8L1316.7 1165.3" stroke-width="2.7"/>
<polygon points="1323.2,1174.5 1316.7,1191.2 1303.7,1198.7 1297.2,1189.5 1303.7,1172.8 1316.7,1165.3" stroke-width="2.7"/>
<polygon points="1299,1195.2 1307.1,1174.6 1323.1,1165.3 1338.7,1174.3 1346.7,1185.8 1338.7,1206.4 1322.7,1215.7 1307.1,1206.7" stroke-width="2.9"/>
<path d="M1331.1 1176.8L1346.7 1185.8" stroke-width="2.9"/>
<path d="M1307.1 1206.6L1322.6 1215.6" stroke-width="2.9"/>
<path d="M1299.1 1195.2L1314.6 1204.2" stroke-width="2.9"/>
<path d="M1307.1 1174.6L1322.6 1183.6" stroke-width="2.9"/>
<path d="M1323.1 1165.4L1338.7 1174.4" stroke-width="2.9"/>
<polygon points="1346.7,1185.8 1338.7,1206.4 1322.6,1215.6 1314.6,1204.2 1322.6,1183.6 1338.7,1174.4" stroke-width="2.9"/>
<polygon points="1340.2,1189.5 1339.6,1193.6 1338,1197.9 1335.4,1201.8 1332.3,1204.9 1329,1206.8 1325.9,1207.3 1323.4,1206.3 1321.7,1203.9 1321.1,1200.5 1321.7,1196.4 1323.4,1192.1 1325.9,1188.2 1329,1185.1 1332.3,1183.2 1335.4,1182.7 1338,1183.7 1339.6,1186.1" stroke-width="2.9"/>
<polyline points="1334.8,1195.4 1333.6,1197.7 1331.9,1199.6 1330,1200.8 1328.3,1201.1 1326.9,1200.5 1326.1,1199.1 1325.9,1197 1326.5,1194.6 1327.8,1192.3 1329.4,1190.4 1331.3,1189.2 1333,1188.9" fill="none" stroke-width="2.2"/>
<path d="M993.6 1135.2L1034.4 1058.6" stroke-width="2.5"/>
<path d="M1338 1200L1352 1208" stroke-width="2.5"/>
<polygon points="1362.4,1196.8 1361.9,1200.7 1360.5,1204.7 1358.3,1208.5 1355.5,1211.8 1352.4,1214.1 1349.4,1215.3 1346.6,1215.3 1344.4,1214 1343,1211.6 1342.5,1208.3 1343,1204.5 1344.4,1200.5 1346.6,1196.7 1349.4,1193.4 1352.4,1191.1 1355.5,1189.9 1358.3,1189.9 1360.5,1191.2 1361.9,1193.6" stroke-width="2.5"/>
<polygon points="1366.3,1199.1 1365.8,1202.9 1364.4,1207 1362.2,1210.8 1359.4,1214 1356.3,1216.3 1353.3,1217.6 1350.5,1217.5 1348.3,1216.3 1346.9,1213.9 1346.4,1210.6 1346.9,1206.8 1348.3,1202.7 1350.5,1198.9 1353.3,1195.7 1356.3,1193.3 1359.4,1192.1 1362.2,1192.2 1364.4,1193.4 1365.8,1195.8" stroke-width="2.5"/>
<polygon points="1370.2,1201.3 1369.7,1205.2 1368.3,1209.2 1366.1,1213 1363.3,1216.3 1360.2,1218.6 1357.2,1219.8 1354.4,1219.8 1352.2,1218.5 1350.8,1216.1 1350.3,1212.8 1350.8,1209 1352.2,1205 1354.4,1201.2 1357.2,1197.9 1360.2,1195.6 1363.3,1194.4 1366.1,1194.4 1368.3,1195.7 1369.7,1198.1" stroke-width="2.5"/>
<polygon points="1374.1,1203.6 1373.6,1207.4 1372.2,1211.5 1370,1215.3 1367.2,1218.5 1364.1,1220.8 1361.1,1222.1 1358.3,1222 1356.1,1220.8 1354.7,1218.4 1354.2,1215.1 1354.7,1211.3 1356.1,1207.2 1358.3,1203.4 1361.1,1200.2 1364.1,1197.8 1367.2,1196.6 1370,1196.7 1372.2,1197.9 1373.6,1200.3" stroke-width="2.5"/>
<polygon points="1378,1205.8 1377.5,1209.7 1376.1,1213.7 1373.9,1217.5 1371.1,1220.8 1368,1223.1 1365,1224.3 1362.2,1224.3 1360,1223 1358.6,1220.6 1358.1,1217.3 1358.6,1213.5 1360,1209.5 1362.2,1205.7 1365,1202.4 1368,1200.1 1371.1,1198.9 1373.9,1198.9 1376.1,1200.2 1377.5,1202.6" stroke-width="2.5"/>
<polygon points="1455.7,1205.3 1455.2,1208.6 1453.8,1211 1451.6,1212.3 1448.8,1212.3 1445.8,1211.1 1442.7,1208.8 1439.9,1205.5 1437.7,1201.7 1436.3,1197.7 1435.8,1193.8 1436.3,1190.6 1437.7,1188.2 1439.9,1186.9 1442.7,1186.9 1445.8,1188.1 1448.8,1190.4 1451.6,1193.7 1453.8,1197.5 1455.2,1201.5" stroke-width="2.5"/>
<polygon points="1451.8,1207.6 1451.3,1210.9 1449.9,1213.3 1447.7,1214.5 1444.9,1214.6 1441.9,1213.3 1438.8,1211 1436,1207.8 1433.8,1204 1432.4,1199.9 1431.9,1196.1 1432.4,1192.8 1433.8,1190.4 1436,1189.2 1438.8,1189.1 1441.9,1190.3 1444.9,1192.7 1447.7,1195.9 1449.9,1199.7 1451.3,1203.8" stroke-width="2.5"/>
<polygon points="1447.9,1209.8 1447.4,1213.1 1446,1215.5 1443.8,1216.8 1441,1216.8 1438,1215.6 1434.9,1213.3 1432.1,1210 1429.9,1206.2 1428.5,1202.2 1428,1198.3 1428.5,1195.1 1429.9,1192.7 1432.1,1191.4 1434.9,1191.4 1438,1192.6 1441,1194.9 1443.8,1198.2 1446,1202 1447.4,1206" stroke-width="2.5"/>
<polygon points="1444,1212.1 1443.5,1215.4 1442.1,1217.8 1439.9,1219 1437.1,1219.1 1434.1,1217.8 1431,1215.5 1428.2,1212.3 1426,1208.5 1424.6,1204.4 1424.1,1200.6 1424.6,1197.3 1426,1194.9 1428.2,1193.7 1431,1193.6 1434.1,1194.8 1437.1,1197.2 1439.9,1200.4 1442.1,1204.2 1443.5,1208.3" stroke-width="2.5"/>
<polygon points="1440.1,1214.3 1439.6,1217.6 1438.2,1220 1436,1221.3 1433.2,1221.3 1430.2,1220.1 1427.1,1217.8 1424.3,1214.5 1422.1,1210.7 1420.7,1206.7 1420.2,1202.8 1420.7,1199.6 1422.1,1197.2 1424.3,1195.9 1427.1,1195.9 1430.2,1197.1 1433.2,1199.4 1436,1202.7 1438.2,1206.5 1439.6,1210.5" stroke-width="2.5"/>
<polyline points="1434,1214.5 1432.6,1215 1430.9,1214.7 1429.1,1213.6 1427.5,1211.9 1426.2,1209.7 1425.4,1207.4 1425.2,1205.2 1425.7,1203.5 1426.7,1202.5 1428.2,1202.2 1430,1202.7 1431.8,1204.1 1433.3,1206 1434.5,1208.2" fill="none" stroke-width="2.5"/>
<polygon points="1410.1,1207.1 1410.4,1204.4 1411.2,1202.1 1412.6,1200.4 1414.3,1199.4 1423,1194.4 1425.1,1194.1 1427.5,1194.5 1430,1195.6 1432.5,1197.4 1434.9,1199.7 1437,1202.5 1438.8,1205.6 1440.2,1208.8 1441,1212 1441.3,1215.1 1441,1217.8 1440.2,1220.1 1438.8,1221.8 1437,1222.8 1428.4,1227.8 1426.2,1228.1 1423.9,1227.7 1421.4,1226.6 1418.9,1224.8 1416.5,1222.5 1414.3,1219.7 1412.6,1216.6 1411.2,1213.4 1410.4,1210.2" stroke-width="2.7"/>
<polygon points="1432.6,1220.1 1432.3,1222.8 1431.5,1225.1 1430.2,1226.8 1428.4,1227.8 1426.3,1228.1 1423.9,1227.7 1421.4,1226.6 1418.9,1224.8 1416.5,1222.5 1414.3,1219.7 1412.6,1216.6 1411.2,1213.4 1410.4,1210.2 1410.1,1207.1 1410.4,1204.4 1411.2,1202.1 1412.6,1200.4 1414.3,1199.4 1416.5,1199.1 1418.9,1199.5 1421.4,1200.6 1423.9,1202.4 1426.3,1204.7 1428.4,1207.5 1430.2,1210.6 1431.5,1213.8 1432.3,1217" stroke-width="2.7"/>
<polygon points="1370.5,1198.1 1400,1215.1 1429.4,1198.1 1400,1181.1"/>
<polygon points="1370.5,1198.1 1400,1215.1 1400,1249.1 1370.5,1232.1"/>
<polygon points="1400,1215.1 1429.4,1198.1 1429.4,1232.1 1400,1249.1"/>
<polygon points="1357.8,1235.6 1358.2,1231.4 1359.5,1227.9 1361.6,1225.3 1375.4,1217.3 1378.2,1215.7 1381.4,1215.2 1385.1,1215.9 1389,1217.6 1392.8,1220.3 1396.5,1223.9 1399.8,1228.2 1402.5,1233 1404.6,1237.9 1405.8,1242.9 1406.3,1247.6 1405.8,1251.8 1404.6,1255.3 1402.5,1257.9 1388.6,1265.9 1385.9,1267.5 1382.6,1268 1379,1267.3 1375.1,1265.6 1371.2,1262.9 1367.6,1259.3 1364.3,1255 1361.6,1250.2 1359.5,1245.3 1358.2,1240.3" stroke-width="2.9"/>
<polygon points="1392.4,1255.6 1392,1259.8 1390.7,1263.3 1388.6,1265.9 1385.9,1267.5 1382.6,1268 1379,1267.3 1375.1,1265.6 1371.2,1262.9 1367.6,1259.3 1364.3,1255 1361.6,1250.3 1359.5,1245.3 1358.2,1240.3 1357.8,1235.6 1358.2,1231.4 1359.5,1227.9 1361.6,1225.3 1364.3,1223.7 1367.6,1223.2 1371.2,1223.9 1375.1,1225.6 1379,1228.3 1382.6,1231.9 1385.9,1236.2 1388.6,1240.9 1390.7,1245.9 1392,1250.9" stroke-width="2.9"/>
<polygon points="1388.5,1253.3 1387.9,1257.8 1386,1261 1383,1262.7 1379.2,1262.7 1375.1,1261.1 1371,1257.9 1367.2,1253.6 1364.2,1248.4 1362.3,1243 1361.7,1237.8 1362.3,1233.4 1364.2,1230.2 1367.2,1228.5 1371,1228.5 1375.1,1230.1 1379.2,1233.3 1383,1237.6 1386,1242.8 1387.9,1248.2" stroke-width="2.5"/>
<polygon points="1382,1249.6 1378.6,1254.5 1371.6,1250.5 1368.2,1241.6 1371.6,1236.7 1378.6,1240.7" stroke-width="2.2"/>
<path d="M1404.7 1262L1404.7 1338" stroke-width="2.5"/>
<path d="M1388.2 541.3C1375 546.4 1333.8 558.6 1308.8 572.2C1283.8 585.8 1260.3 604.1 1238.2 622.9C1216.1 641.6 1196.4 661.9 1176.4 684.7C1156.4 707.5 1127.9 747.2 1118.2 759.7L1118.2 778.2L1136.7 766.3C1141.1 758.6 1150.7 738.8 1163.2 720C1175.7 701.2 1193.3 672.9 1211.7 653.8C1230.1 634.7 1252.9 620 1273.5 605.3C1294.1 590.6 1316.1 576.3 1335.2 565.6C1354.3 554.9 1379.4 545.3 1388.2 541.3Z" fill="#000" stroke-width="1.1"/>
<polygon points="1222.8,82.8 1295.1,124.5 1392.2,68.5 1319.8,26.7"/>
<polygon points="1222.8,82.8 1295.1,124.5 1295.1,231.6 1222.8,189.9"/>
<polygon points="1295.1,124.5 1392.2,68.5 1392.2,175.6 1295.1,231.6"/>
<polygon points="1233.6,59 1289.2,91.1 1344.9,59 1289.2,26.9"/>
<polygon points="1233.6,59 1289.2,91.1 1289.2,118.3 1233.6,86.1"/>
<polygon points="1289.2,91.1 1344.9,59 1344.9,86.1 1289.2,118.3"/>
<use href="#c3" transform="matrix(0.6183 0.357 0.6183 -0.357 1233.5887 59.0095)"/>
<g transform="translate(1289.2 59) scale(0.714)">
<ellipse cx="0" cy="1" rx="23.5" ry="13.5"/>
<polygon points="-23.9,-12 -11.9,-23.9 11.9,-23.9 23.9,-12 23.9,-1 11.9,10.9 -11.9,10.9 -23.9,-1"/>
<path d="M23.9 -1L23.9 -12"/>
<path d="M-23.9 -1L-23.9 -12"/>
<path d="M-11.9 10.9L-11.9 -0.1"/>
<path d="M11.9 10.9L11.9 -0.1"/>
<polygon points="23.9,-12 11.9,-23.9 -11.9,-23.9 -23.9,-12 -11.9,-0.1 11.9,-0.1"/>
<polygon points="-14,-26.9 -13.3,-28.7 -11.9,-30.3 -10,-31.8 -7.5,-32.9 -4.7,-33.7 -1.6,-34.1 1.6,-34.1 4.7,-33.7 7.5,-32.9 10,-31.8 11.9,-30.3 13.3,-28.7 14,-26.9 14,-11.1 13.3,-9.3 11.9,-7.7 10,-6.2 7.5,-5.1 4.7,-4.3 1.6,-3.9 -1.6,-3.9 -4.7,-4.3 -7.5,-5.1 -10,-6.2 -11.9,-7.7 -13.3,-9.3 -14,-11.1"/>
<polygon points="10,-20.2 11.9,-21.7 13.3,-23.3 14,-25.1 14,-26.9 13.3,-28.7 11.9,-30.3 10,-31.8 7.5,-32.9 4.7,-33.7 1.6,-34.1 -1.6,-34.1 -4.7,-33.7 -7.5,-32.9 -10,-31.8 -11.9,-30.3 -13.3,-28.7 -14,-26.9 -14,-25.1 -13.3,-23.3 -11.9,-21.7 -10,-20.2 -7.5,-19.1 -4.7,-18.3 -1.6,-17.9 1.6,-17.9 4.7,-18.3 7.5,-19.1"/>
<path d="M-9 -22L-3 -22" stroke-width="2.2"/>
<path d="M3 -22L9 -22" stroke-width="2.2"/>
</g>
<polygon points="1303.2,132.4 1375.5,174.1 1472.6,118.1 1400.2,76.3"/>
<polygon points="1303.2,132.4 1375.5,174.1 1375.5,281.2 1303.2,239.5"/>
<polygon points="1375.5,174.1 1472.6,118.1 1472.6,225.2 1375.5,281.2"/>
<polygon points="1451.6,140 1523.9,181.8 1621,125.7 1548.6,84"/>
<polygon points="1451.6,140 1523.9,181.8 1523.9,288.9 1451.6,247.1"/>
<polygon points="1523.9,181.8 1621,125.7 1621,232.8 1523.9,288.9"/>
<polygon points="1462.4,116.3 1518,148.4 1573.7,116.3 1518,84.1"/>
<polygon points="1462.4,116.3 1518,148.4 1518,175.5 1462.4,143.4"/>
<polygon points="1518,148.4 1573.7,116.3 1573.7,143.4 1518,175.5"/>
<use href="#c3" transform="matrix(0.6183 0.357 0.6183 -0.357 1462.3753 116.2723)"/>
<g transform="translate(1518 116.3) scale(0.714)">
<ellipse cx="0" cy="1" rx="23.5" ry="13.5"/>
<polygon points="-23.9,-12 -11.9,-23.9 11.9,-23.9 23.9,-12 23.9,-1 11.9,10.9 -11.9,10.9 -23.9,-1"/>
<path d="M23.9 -1L23.9 -12"/>
<path d="M-23.9 -1L-23.9 -12"/>
<path d="M-11.9 10.9L-11.9 -0.1"/>
<path d="M11.9 10.9L11.9 -0.1"/>
<polygon points="23.9,-12 11.9,-23.9 -11.9,-23.9 -23.9,-12 -11.9,-0.1 11.9,-0.1"/>
<polygon points="-14,-26.9 -13.3,-28.7 -11.9,-30.3 -10,-31.8 -7.5,-32.9 -4.7,-33.7 -1.6,-34.1 1.6,-34.1 4.7,-33.7 7.5,-32.9 10,-31.8 11.9,-30.3 13.3,-28.7 14,-26.9 14,-11.1 13.3,-9.3 11.9,-7.7 10,-6.2 7.5,-5.1 4.7,-4.3 1.6,-3.9 -1.6,-3.9 -4.7,-4.3 -7.5,-5.1 -10,-6.2 -11.9,-7.7 -13.3,-9.3 -14,-11.1"/>
<polygon points="10,-20.2 11.9,-21.7 13.3,-23.3 14,-25.1 14,-26.9 13.3,-28.7 11.9,-30.3 10,-31.8 7.5,-32.9 4.7,-33.7 1.6,-34.1 -1.6,-34.1 -4.7,-33.7 -7.5,-32.9 -10,-31.8 -11.9,-30.3 -13.3,-28.7 -14,-26.9 -14,-25.1 -13.3,-23.3 -11.9,-21.7 -10,-20.2 -7.5,-19.1 -4.7,-18.3 -1.6,-17.9 1.6,-17.9 4.7,-18.3 7.5,-19.1"/>
<path d="M-9 -22L-3 -22" stroke-width="2.2"/>
<path d="M3 -22L9 -22" stroke-width="2.2"/>
</g>
<polygon points="1382.9,182 1455.3,223.8 1520.2,186.3 1447.8,144.5"/>
<polygon points="1382.9,182 1455.3,223.8 1455.3,300.2 1382.9,258.4"/>
<polygon points="1455.3,223.8 1520.2,186.3 1520.2,262.7 1455.3,300.2"/>
<polygon points="1524.5,185.2 1596.9,227 1697,169.1 1624.7,127.4"/>
<polygon points="1524.5,185.2 1596.9,227 1596.9,334.1 1524.5,292.3"/>
<polygon points="1596.9,227 1697,169.1 1697,276.2 1596.9,334.1"/>
<polygon points="1463.3,228.8 1535.6,270.5 1600.6,233 1528.2,191.3"/>
<polygon points="1463.3,228.8 1535.6,270.5 1535.6,346.9 1463.3,305.2"/>
<polygon points="1535.6,270.5 1600.6,233 1600.6,309.4 1535.6,346.9"/>
<polygon points="1543.1,271.5 1615.4,313.2 1712.5,257.2 1640.1,215.4"/>
<polygon points="1543.1,271.5 1615.4,313.2 1615.4,420.3 1543.1,378.6"/>
<polygon points="1615.4,313.2 1712.5,257.2 1712.5,364.3 1615.4,420.3"/>
<polygon points="1553.9,247.7 1609.5,279.8 1665.2,247.7 1609.5,215.6"/>
<polygon points="1553.9,247.7 1609.5,279.8 1609.5,307 1553.9,274.9"/>
<polygon points="1609.5,279.8 1665.2,247.7 1665.2,274.9 1609.5,307"/>
<use href="#c3" transform="matrix(0.6183 0.357 0.6183 -0.357 1553.8899 247.7197)"/>
<g transform="translate(1609.5 247.7) scale(0.714)">
<ellipse cx="0" cy="1" rx="23.5" ry="13.5"/>
<polygon points="-23.9,-12 -11.9,-23.9 11.9,-23.9 23.9,-12 23.9,-1 11.9,10.9 -11.9,10.9 -23.9,-1"/>
<path d="M23.9 -1L23.9 -12"/>
<path d="M-23.9 -1L-23.9 -12"/>
<path d="M-11.9 10.9L-11.9 -0.1"/>
<path d="M11.9 10.9L11.9 -0.1"/>
<polygon points="23.9,-12 11.9,-23.9 -11.9,-23.9 -23.9,-12 -11.9,-0.1 11.9,-0.1"/>
<polygon points="-14,-26.9 -13.3,-28.7 -11.9,-30.3 -10,-31.8 -7.5,-32.9 -4.7,-33.7 -1.6,-34.1 1.6,-34.1 4.7,-33.7 7.5,-32.9 10,-31.8 11.9,-30.3 13.3,-28.7 14,-26.9 14,-11.1 13.3,-9.3 11.9,-7.7 10,-6.2 7.5,-5.1 4.7,-4.3 1.6,-3.9 -1.6,-3.9 -4.7,-4.3 -7.5,-5.1 -10,-6.2 -11.9,-7.7 -13.3,-9.3 -14,-11.1"/>
<polygon points="10,-20.2 11.9,-21.7 13.3,-23.3 14,-25.1 14,-26.9 13.3,-28.7 11.9,-30.3 10,-31.8 7.5,-32.9 4.7,-33.7 1.6,-34.1 -1.6,-34.1 -4.7,-33.7 -7.5,-32.9 -10,-31.8 -11.9,-30.3 -13.3,-28.7 -14,-26.9 -14,-25.1 -13.3,-23.3 -11.9,-21.7 -10,-20.2 -7.5,-19.1 -4.7,-18.3 -1.6,-17.9 1.6,-17.9 4.7,-18.3 7.5,-19.1"/>
<path d="M-9 -22L-3 -22" stroke-width="2.2"/>
<path d="M3 -22L9 -22" stroke-width="2.2"/>
</g>
<polygon points="1621.6,319.4 1692.7,360.5 1760.7,321.2 1689.6,280.2"/>
<polygon points="1621.6,319.4 1692.7,360.5 1692.7,436.9 1621.6,395.8"/>
<polygon points="1692.7,360.5 1760.7,321.2 1760.7,397.6 1692.7,436.9"/>
<polygon points="1698.9,360.3 1771.2,402.1 1868.3,346 1796,304.2"/>
<polygon points="1698.9,360.3 1771.2,402.1 1771.2,509.2 1698.9,467.4"/>
<polygon points="1771.2,402.1 1868.3,346 1868.3,453.1 1771.2,509.2"/>
<polygon points="1709.7,336.5 1765.4,368.7 1821,336.5 1765.4,304.4"/>
<polygon points="1709.7,336.5 1765.4,368.7 1765.4,395.8 1709.7,363.7"/>
<polygon points="1765.4,368.7 1821,336.5 1821,363.7 1765.4,395.8"/>
<use href="#c3" transform="matrix(0.6183 0.357 0.6183 -0.357 1709.7122 336.5413)"/>
<g transform="translate(1765.4 336.5) scale(0.714)">
<ellipse cx="0" cy="1" rx="23.5" ry="13.5"/>
<polygon points="-23.9,-12 -11.9,-23.9 11.9,-23.9 23.9,-12 23.9,-1 11.9,10.9 -11.9,10.9 -23.9,-1"/>
<path d="M23.9 -1L23.9 -12"/>
<path d="M-23.9 -1L-23.9 -12"/>
<path d="M-11.9 10.9L-11.9 -0.1"/>
<path d="M11.9 10.9L11.9 -0.1"/>
<polygon points="23.9,-12 11.9,-23.9 -11.9,-23.9 -23.9,-12 -11.9,-0.1 11.9,-0.1"/>
<polygon points="-14,-26.9 -13.3,-28.7 -11.9,-30.3 -10,-31.8 -7.5,-32.9 -4.7,-33.7 -1.6,-34.1 1.6,-34.1 4.7,-33.7 7.5,-32.9 10,-31.8 11.9,-30.3 13.3,-28.7 14,-26.9 14,-11.1 13.3,-9.3 11.9,-7.7 10,-6.2 7.5,-5.1 4.7,-4.3 1.6,-3.9 -1.6,-3.9 -4.7,-4.3 -7.5,-5.1 -10,-6.2 -11.9,-7.7 -13.3,-9.3 -14,-11.1"/>
<polygon points="10,-20.2 11.9,-21.7 13.3,-23.3 14,-25.1 14,-26.9 13.3,-28.7 11.9,-30.3 10,-31.8 7.5,-32.9 4.7,-33.7 1.6,-34.1 -1.6,-34.1 -4.7,-33.7 -7.5,-32.9 -10,-31.8 -11.9,-30.3 -13.3,-28.7 -14,-26.9 -14,-25.1 -13.3,-23.3 -11.9,-21.7 -10,-20.2 -7.5,-19.1 -4.7,-18.3 -1.6,-17.9 1.6,-17.9 4.7,-18.3 7.5,-19.1"/>
<path d="M-9 -22L-3 -22" stroke-width="2.2"/>
<path d="M3 -22L9 -22" stroke-width="2.2"/>
</g>
<polygon points="1777.4,409.4 1848.5,450.5 1916.5,411.2 1845.4,370.1"/>
<polygon points="1777.4,409.4 1848.5,450.5 1848.5,526.9 1777.4,485.8"/>
<polygon points="1848.5,450.5 1916.5,411.2 1916.5,487.6 1848.5,526.9"/>
<polygon points="1855.3,450.8 1927.7,492.6 2024.8,436.5 1952.4,394.8"/>
<polygon points="1855.3,450.8 1927.7,492.6 1927.7,599.7 1855.3,557.9"/>
<polygon points="1927.7,492.6 2024.8,436.5 2024.8,543.6 1927.7,599.7"/>
<polygon points="1866.2,427.1 1921.8,459.2 1977.5,427.1 1921.8,394.9"/>
<polygon points="1866.2,427.1 1921.8,459.2 1921.8,486.3 1866.2,454.2"/>
<polygon points="1921.8,459.2 1977.5,427.1 1977.5,454.2 1921.8,486.3"/>
<use href="#c3" transform="matrix(0.6183 0.357 0.6183 -0.357 1866.1527 427.0765)"/>
<g transform="translate(1921.8 427.1) scale(0.714)">
<ellipse cx="0" cy="1" rx="23.5" ry="13.5"/>
<polygon points="-23.9,-12 -11.9,-23.9 11.9,-23.9 23.9,-12 23.9,-1 11.9,10.9 -11.9,10.9 -23.9,-1"/>
<path d="M23.9 -1L23.9 -12"/>
<path d="M-23.9 -1L-23.9 -12"/>
<path d="M-11.9 10.9L-11.9 -0.1"/>
<path d="M11.9 10.9L11.9 -0.1"/>
<polygon points="23.9,-12 11.9,-23.9 -11.9,-23.9 -23.9,-12 -11.9,-0.1 11.9,-0.1"/>
<polygon points="-14,-26.9 -13.3,-28.7 -11.9,-30.3 -10,-31.8 -7.5,-32.9 -4.7,-33.7 -1.6,-34.1 1.6,-34.1 4.7,-33.7 7.5,-32.9 10,-31.8 11.9,-30.3 13.3,-28.7 14,-26.9 14,-11.1 13.3,-9.3 11.9,-7.7 10,-6.2 7.5,-5.1 4.7,-4.3 1.6,-3.9 -1.6,-3.9 -4.7,-4.3 -7.5,-5.1 -10,-6.2 -11.9,-7.7 -13.3,-9.3 -14,-11.1"/>
<polygon points="10,-20.2 11.9,-21.7 13.3,-23.3 14,-25.1 14,-26.9 13.3,-28.7 11.9,-30.3 10,-31.8 7.5,-32.9 4.7,-33.7 1.6,-34.1 -1.6,-34.1 -4.7,-33.7 -7.5,-32.9 -10,-31.8 -11.9,-30.3 -13.3,-28.7 -14,-26.9 -14,-25.1 -13.3,-23.3 -11.9,-21.7 -10,-20.2 -7.5,-19.1 -4.7,-18.3 -1.6,-17.9 1.6,-17.9 4.7,-18.3 7.5,-19.1"/>
<path d="M-9 -22L-3 -22" stroke-width="2.2"/>
<path d="M3 -22L9 -22" stroke-width="2.2"/>
</g>
<polygon points="1998.8,460.1 2071.1,501.9 2166.4,446.9 2094,405.1"/>
<polygon points="1998.8,460.1 2071.1,501.9 2071.1,594.7 1998.8,552.9"/>
<polygon points="2071.1,501.9 2166.4,446.9 2166.4,539.7 2071.1,594.7"/>
<polygon points="2007.1,434.2 2062.8,466.3 2118.4,434.2 2062.8,402.1"/>
<polygon points="2007.1,434.2 2062.8,466.3 2062.8,493.5 2007.1,461.3"/>
<polygon points="2062.8,466.3 2118.4,434.2 2118.4,461.3 2062.8,493.5"/>
<use href="#c4" transform="matrix(0.6183 0.357 0.6183 -0.357 2007.1347 434.2165)"/>
<polygon points="1930.8,497.9 2001.9,539 2068.7,500.4 1997.6,459.4"/>
<polygon points="1930.8,497.9 2001.9,539 2001.9,615.4 1930.8,574.3"/>
<polygon points="2001.9,539 2068.7,500.4 2068.7,576.8 2001.9,615.4"/>
<polygon points="2008.6,540.4 2080.9,582.1 2178,526.1 2105.6,484.3"/>
<polygon points="2008.6,540.4 2080.9,582.1 2080.9,689.2 2008.6,647.5"/>
<polygon points="2080.9,582.1 2178,526.1 2178,633.2 2080.9,689.2"/>
<polygon points="2019.4,516.6 2075,548.7 2130.7,516.6 2075,484.5"/>
<polygon points="2019.4,516.6 2075,548.7 2075,575.9 2019.4,543.7"/>
<polygon points="2075,548.7 2130.7,516.6 2130.7,543.7 2075,575.9"/>
<use href="#c4" transform="matrix(0.6183 0.357 0.6183 -0.357 2019.3779 516.6121)"/>
<polygon points="2088.2,585.6 2160.5,627.4 2257.6,571.3 2185.3,529.6"/>
<polygon points="2088.2,585.6 2160.5,627.4 2160.5,734.5 2088.2,692.7"/>
<polygon points="2160.5,627.4 2257.6,571.3 2257.6,678.4 2160.5,734.5"/>
<polygon points="2099,561.9 2154.7,594 2210.3,561.9 2154.7,529.7"/>
<polygon points="2099,561.9 2154.7,594 2154.7,621.1 2099,589"/>
<polygon points="2154.7,594 2210.3,561.9 2210.3,589 2154.7,621.1"/>
<use href="#c3" transform="matrix(0.6183 0.357 0.6183 -0.357 2099.0204 561.8797)"/>
<g transform="translate(2154.7 561.9) scale(0.714)">
<ellipse cx="0" cy="1" rx="23.5" ry="13.5"/>
<polygon points="-23.9,-12 -11.9,-23.9 11.9,-23.9 23.9,-12 23.9,-1 11.9,10.9 -11.9,10.9 -23.9,-1"/>
<path d="M23.9 -1L23.9 -12"/>
<path d="M-23.9 -1L-23.9 -12"/>
<path d="M-11.9 10.9L-11.9 -0.1"/>
<path d="M11.9 10.9L11.9 -0.1"/>
<polygon points="23.9,-12 11.9,-23.9 -11.9,-23.9 -23.9,-12 -11.9,-0.1 11.9,-0.1"/>
<polygon points="-14,-26.9 -13.3,-28.7 -11.9,-30.3 -10,-31.8 -7.5,-32.9 -4.7,-33.7 -1.6,-34.1 1.6,-34.1 4.7,-33.7 7.5,-32.9 10,-31.8 11.9,-30.3 13.3,-28.7 14,-26.9 14,-11.1 13.3,-9.3 11.9,-7.7 10,-6.2 7.5,-5.1 4.7,-4.3 1.6,-3.9 -1.6,-3.9 -4.7,-4.3 -7.5,-5.1 -10,-6.2 -11.9,-7.7 -13.3,-9.3 -14,-11.1"/>
<polygon points="10,-20.2 11.9,-21.7 13.3,-23.3 14,-25.1 14,-26.9 13.3,-28.7 11.9,-30.3 10,-31.8 7.5,-32.9 4.7,-33.7 1.6,-34.1 -1.6,-34.1 -4.7,-33.7 -7.5,-32.9 -10,-31.8 -11.9,-30.3 -13.3,-28.7 -14,-26.9 -14,-25.1 -13.3,-23.3 -11.9,-21.7 -10,-20.2 -7.5,-19.1 -4.7,-18.3 -1.6,-17.9 1.6,-17.9 4.7,-18.3 7.5,-19.1"/>
<path d="M-9 -22L-3 -22" stroke-width="2.2"/>
<path d="M3 -22L9 -22" stroke-width="2.2"/>
</g>
<polygon points="2160.8,630.7 2233.8,672.9 2301.8,633.6 2228.8,591.5"/>
<polygon points="2160.8,630.7 2233.8,672.9 2233.8,750 2160.8,707.9"/>
<polygon points="2233.8,672.9 2301.8,633.6 2301.8,710.7 2233.8,750"/>
<polygon points="1025.7,51.9 2189.6,723.9 2275.6,674.2 1111.7,2.2"/>
<polygon points="1025.7,51.9 2189.6,723.9 2189.6,850.2 1025.7,178.2"/>
<polygon points="2189.6,723.9 2275.6,674.2 2275.6,800.5 2189.6,850.2"/>
<use href="#ps" transform="matrix(0.6183 0.357 0 0.714 1085.1 130.2)"/>
<use href="#ps" transform="matrix(0.6183 0.357 0 0.714 1166.4 177.1386)"/>
<use href="#ps" transform="matrix(0.6183 0.357 0 0.714 1412.1 318.9934)"/>
<use href="#ps" transform="matrix(0.6183 0.357 0 0.714 1494 366.2784)"/>
<use href="#ps" transform="matrix(0.6183 0.357 0 0.714 1577 414.1985)"/>
<use href="#ps" transform="matrix(0.6183 0.357 0 0.714 1659.6 461.8876)"/>
<use href="#ps" transform="matrix(0.6183 0.357 0 0.714 1741.1 508.9416)"/>
<use href="#ps" transform="matrix(0.6183 0.357 0 0.714 1824.8 557.2658)"/>
<use href="#ps" transform="matrix(0.6183 0.357 0 0.714 1906.3 604.3198)"/>
<use href="#ps" transform="matrix(0.6183 0.357 0 0.714 2047.2 685.6684)"/>
<use href="#ps" transform="matrix(0.6183 0.357 0 0.714 2128.7 732.7225)"/>
<text x="1097.8" y="91.9" font-size="42" text-anchor="start">O</text>
<text x="1171.3" y="130.4" font-size="42" text-anchor="start">N</text>
<text x="1259.3" y="182.6" font-size="42" text-anchor="start">M</text>
<text x="1362.3" y="217.4" font-size="42" text-anchor="start">L</text>
<text x="1421.8" y="279" font-size="42" text-anchor="start">K</text>
<text x="1506.3" y="326.4" font-size="42" text-anchor="start">J</text>
<text x="1573.8" y="367.9" font-size="42" text-anchor="start">H</text>
<text x="1661.3" y="420.4" font-size="42" text-anchor="start">G</text>
<text x="1741.3" y="463.4" font-size="42" text-anchor="start">F</text>
<text x="1838.8" y="518.4" font-size="42" text-anchor="start">E</text>
<text x="1929.3" y="573.4" font-size="42" text-anchor="start">D</text>
<text x="1994.8" y="617.4" font-size="42" text-anchor="start">C</text>
<text x="2053.3" y="646" font-size="42" text-anchor="start">B</text>
<text x="2138.3" y="690.1" font-size="42" text-anchor="start">A</text>
<path d="M1319.8 215L1319.8 425" stroke-width="2.9" stroke-dasharray="26 10"/>
<path d="M1346.3 215L1346.3 425" stroke-width="2.9" stroke-dasharray="26 10"/>
<path d="M1464 190L1464 222Q1466 250 1500 258L1512 261" fill="none" stroke-width="2.9" stroke-dasharray="26 10"/>
<path d="M1478 190L1478 218Q1480 238 1506 244L1516 246" fill="none" stroke-width="2.9" stroke-dasharray="26 10"/>
<path d="M1520 262Q1546 266 1546 226" fill="none" stroke-width="2.9"/>
<path d="M1516 247Q1532 250 1532 226" fill="none" stroke-width="2.9"/>
<path d="M1857 429L1857 458Q1860 486 1892 503L1990 559" fill="none" stroke-width="2.9" stroke-dasharray="26 10"/>
<path d="M1871 429L1871 452Q1874 474 1900 488L1996 543" fill="none" stroke-width="2.9" stroke-dasharray="26 10"/>
<path d="M1990 559Q2032 580 2032 537" fill="none" stroke-width="2.9"/>
<path d="M1996 543Q2018 553 2018 537" fill="none" stroke-width="2.9"/>
<path d="M2173 600L2173 640Q2176 668 2204 680L2232 693" fill="none" stroke-width="2.9" stroke-dasharray="26 10"/>
<path d="M2187 600L2187 636Q2190 656 2212 666L2238 678" fill="none" stroke-width="2.9" stroke-dasharray="26 10"/>
<path d="M2234 694Q2268 706 2268 668" fill="none" stroke-width="2.9"/>
<path d="M2239 679Q2254 684 2254 666" fill="none" stroke-width="2.9"/>
<path d="M1684 350Q1700 368 1712 360L1712 338" fill="none" stroke-width="2.9"/>
<path d="M1694 340L1700 348" fill="none" stroke-width="2.9"/>
<path d="M1354 106C1352 84 1372 78 1384 92L1385 104" fill="none" stroke-width="2.7"/>
<path d="M1409 96C1412 94.3 1419.8 88.8 1427 86C1434.2 83.2 1445.3 80.3 1452 79.4C1458.7 78.5 1460.3 78.4 1467 80.7C1473.7 83 1482.3 87.6 1492 93C1501.7 98.4 1518.7 106.7 1525 113C1531.3 119.3 1532.1 126.3 1530 131C1527.9 135.7 1515.4 139.3 1512.5 141" fill="none" stroke-width="15"/>
<path d="M1409 96C1412 94.3 1419.8 88.8 1427 86C1434.2 83.2 1445.3 80.3 1452 79.4C1458.7 78.5 1460.3 78.4 1467 80.7C1473.7 83 1482.3 87.6 1492 93C1501.7 98.4 1518.7 106.7 1525 113C1531.3 119.3 1532.1 126.3 1530 131C1527.9 135.7 1515.4 139.3 1512.5 141" fill="none" stroke="#fff" stroke-width="9.8"/>
<g transform="translate(1518 116.3) scale(0.714)">
<ellipse cx="0" cy="1" rx="23.5" ry="13.5"/>
<polygon points="-23.9,-12 -11.9,-23.9 11.9,-23.9 23.9,-12 23.9,-1 11.9,10.9 -11.9,10.9 -23.9,-1"/>
<path d="M23.9 -1L23.9 -12"/>
<path d="M-23.9 -1L-23.9 -12"/>
<path d="M-11.9 10.9L-11.9 -0.1"/>
<path d="M11.9 10.9L11.9 -0.1"/>
<polygon points="23.9,-12 11.9,-23.9 -11.9,-23.9 -23.9,-12 -11.9,-0.1 11.9,-0.1"/>
<polygon points="-14,-26.9 -13.3,-28.7 -11.9,-30.3 -10,-31.8 -7.5,-32.9 -4.7,-33.7 -1.6,-34.1 1.6,-34.1 4.7,-33.7 7.5,-32.9 10,-31.8 11.9,-30.3 13.3,-28.7 14,-26.9 14,-11.1 13.3,-9.3 11.9,-7.7 10,-6.2 7.5,-5.1 4.7,-4.3 1.6,-3.9 -1.6,-3.9 -4.7,-4.3 -7.5,-5.1 -10,-6.2 -11.9,-7.7 -13.3,-9.3 -14,-11.1"/>
<polygon points="10,-20.2 11.9,-21.7 13.3,-23.3 14,-25.1 14,-26.9 13.3,-28.7 11.9,-30.3 10,-31.8 7.5,-32.9 4.7,-33.7 1.6,-34.1 -1.6,-34.1 -4.7,-33.7 -7.5,-32.9 -10,-31.8 -11.9,-30.3 -13.3,-28.7 -14,-26.9 -14,-25.1 -13.3,-23.3 -11.9,-21.7 -10,-20.2 -7.5,-19.1 -4.7,-18.3 -1.6,-17.9 1.6,-17.9 4.7,-18.3 7.5,-19.1"/>
<path d="M-9 -22L-3 -22" stroke-width="2.2"/>
<path d="M3 -22L9 -22" stroke-width="2.2"/>
</g>
<path d="M1729 279L1754.2 264.1Q1768 256 1782 263.7L1908.5 333.4Q1926 343 1911 356.2L1893 372" fill="none" stroke-width="15"/>
<path d="M1729 279L1754.2 264.1Q1768 256 1782 263.7L1908.5 333.4Q1926 343 1911 356.2L1893 372" fill="none" stroke="#fff" stroke-width="9.8"/>
<path d="M2174.6 511.2L2213.5 530.7Q2226 537 2220.2 549.8L2216.8 557.4" fill="none" stroke-width="15"/>
<path d="M2174.6 511.2L2213.5 530.7Q2226 537 2220.2 549.8L2216.8 557.4" fill="none" stroke="#fff" stroke-width="9.8"/>
<path d="M1638 261.3C1641.2 263.4 1653.8 267.7 1657 274C1660.2 280.3 1657 294.8 1657 299" fill="none" stroke-width="13"/>
<path d="M1638 261.3C1641.2 263.4 1653.8 267.7 1657 274C1660.2 280.3 1657 294.8 1657 299" fill="none" stroke="#fff" stroke-width="8.2"/>
<path d="M1358 134Q1325 138 1324.8 170" fill="none" stroke-width="2.9"/>
<path d="M1352 148Q1341.4 151 1341.4 172" fill="none" stroke-width="2.9"/>
<g transform="translate(1388 121) scale(0.714)">
<polygon points="0,-10 0.2,-12.1 0.9,-13.8 1.9,-15.1 3.3,-15.9 20.6,-25.9 22.2,-26.2 24.1,-25.9 26,-25 27.9,-23.6 29.7,-21.8 31.4,-19.7 32.8,-17.3 33.8,-14.8 34.4,-12.3 34.6,-10 34.4,-7.9 33.8,-6.2 32.8,-4.9 31.4,-4.1 14.1,5.9 12.4,6.2 10.6,5.9 8.7,5 6.7,3.6 4.9,1.8 3.3,-0.3 1.9,-2.7 0.9,-5.2 0.2,-7.7" stroke-width="2.7"/>
<polygon points="17.3,0 17.1,2.1 16.5,3.8 15.4,5.1 14.1,5.9 12.4,6.2 10.6,5.9 8.7,5 6.7,3.6 4.9,1.8 3.3,-0.3 1.9,-2.7 0.9,-5.2 0.2,-7.6 0,-10 0.2,-12.1 0.9,-13.8 1.9,-15.1 3.3,-15.9 4.9,-16.2 6.7,-15.9 8.7,-15 10.6,-13.6 12.4,-11.8 14.1,-9.7 15.4,-7.3 16.5,-4.8 17.1,-2.4" stroke-width="2.7"/>
<polygon points="9.1,-20.8 15.8,-30.3 33.1,-40.3 46.5,-32.5 53.3,-15.2 46.5,-5.7 29.2,4.3 15.8,-3.5" stroke-width="2.9"/>
<path d="M53.3 -15.2L35.9 -5.2" stroke-width="2.9"/>
<path d="M46.5 -5.7L29.2 4.3" stroke-width="2.9"/>
<path d="M33.1 -13.5L15.8 -3.5" stroke-width="2.9"/>
<path d="M26.4 -30.7L9.1 -20.7" stroke-width="2.9"/>
<path d="M33.1 -40.3L15.8 -30.3" stroke-width="2.9"/>
<path d="M46.5 -32.5L29.2 -22.5" stroke-width="2.9"/>
<polygon points="35.9,-5.2 29.2,4.3 15.8,-3.5 9.1,-20.7 15.8,-30.3 29.2,-22.5" stroke-width="2.9"/>
<polygon points="-20.8,25 -10.4,14.6 10.4,14.6 20.8,25 20.8,46 10.4,56.4 -10.4,56.4 -20.8,46" stroke-width="2.9"/>
<path d="M20.8 46L20.8 25" stroke-width="2.9"/>
<path d="M10.4 35.6L10.4 14.6" stroke-width="2.9"/>
<path d="M-10.4 35.6L-10.4 14.6" stroke-width="2.9"/>
<path d="M-20.8 46L-20.8 25" stroke-width="2.9"/>
<path d="M-10.4 56.4L-10.4 35.4" stroke-width="2.9"/>
<path d="M10.4 56.4L10.4 35.4" stroke-width="2.9"/>
<polygon points="20.8,25 10.4,14.6 -10.4,14.6 -20.8,25 -10.4,35.4 10.4,35.4" stroke-width="2.9"/>
<polygon points="-13.4,7.1 -12.7,5.4 -11.4,3.9 -9.5,2.5 -7.2,1.4 -4.5,0.7 -1.5,0.3 1.5,0.3 4.5,0.7 7.2,1.4 9.5,2.5 11.4,3.9 12.7,5.4 13.4,7.1 13.4,27.9 12.7,29.6 11.4,31.1 9.5,32.5 7.2,33.6 4.5,34.3 1.5,34.7 -1.5,34.7 -4.5,34.3 -7.2,33.6 -9.5,32.5 -11.4,31.1 -12.7,29.6 -13.4,27.9" stroke-width="2.7"/>
<polygon points="9.5,13.5 11.4,12.1 12.7,10.6 13.4,8.9 13.4,7.1 12.7,5.4 11.4,3.9 9.5,2.5 7.2,1.4 4.4,0.7 1.5,0.3 -1.5,0.3 -4.4,0.7 -7.2,1.4 -9.5,2.5 -11.4,3.9 -12.7,5.4 -13.4,7.1 -13.4,8.9 -12.7,10.6 -11.4,12.1 -9.5,13.5 -7.2,14.6 -4.4,15.3 -1.5,15.7 1.5,15.7 4.4,15.3 7.2,14.6" stroke-width="2.7"/>
<polygon points="-26.8,-6.5 -7.8,4.5 26.8,-15.5 7.8,-26.5"/>
<polygon points="-26.8,-6.5 -7.8,4.5 -7.8,26.5 -26.8,15.5"/>
<polygon points="-7.8,4.5 26.8,-15.5 26.8,6.5 -7.8,26.5"/>
<path d="M-17.3 -5L8.7 -20" stroke-width="2.2"/>
<polygon points="-32.9,9 -32.7,6.9 -32,5.2 -31,3.9 -29.6,3.1 -14.1,-5.9 -12.4,-6.2 -10.6,-5.9 -8.7,-5 -6.7,-3.6 -4.9,-1.8 -3.3,0.3 -1.9,2.7 -0.9,5.2 -0.2,7.7 0,10 -0.2,12.1 -0.9,13.8 -1.9,15.1 -3.3,15.9 -18.9,24.9 -20.5,25.2 -22.3,24.9 -24.2,24 -26.2,22.6 -28,20.8 -29.6,18.7 -31,16.3 -32,13.8 -32.7,11.3" stroke-width="2.7"/>
<polygon points="-15.6,19 -15.8,21.1 -16.4,22.8 -17.5,24.1 -18.8,24.9 -20.5,25.2 -22.3,24.9 -24.2,24 -26.2,22.6 -28,20.8 -29.6,18.7 -31,16.3 -32.1,13.8 -32.7,11.4 -32.9,9 -32.7,6.9 -32.1,5.2 -31,3.9 -29.6,3.1 -28,2.8 -26.2,3.1 -24.2,4 -22.3,5.4 -20.5,7.2 -18.8,9.3 -17.5,11.7 -16.4,14.2 -15.8,16.6" stroke-width="2.7"/>
<polygon points="-53.3,15.2 -46.5,5.7 -29.2,-4.3 -15.8,3.5 -9.1,20.8 -15.8,30.3 -33.1,40.3 -46.5,32.5" stroke-width="2.9"/>
<path d="M-9.1 20.8L-26.4 30.8" stroke-width="2.9"/>
<path d="M-15.8 30.3L-33.1 40.3" stroke-width="2.9"/>
<path d="M-29.2 22.5L-46.5 32.5" stroke-width="2.9"/>
<path d="M-35.9 5.3L-53.3 15.3" stroke-width="2.9"/>
<path d="M-29.2 -4.3L-46.5 5.7" stroke-width="2.9"/>
<path d="M-15.8 3.5L-33.1 13.5" stroke-width="2.9"/>
<polygon points="-26.4,30.8 -33.1,40.3 -46.5,32.5 -53.3,15.3 -46.5,5.7 -33.1,13.5" stroke-width="2.9"/>
<polygon points="-32.9,27 -33.3,29.5 -34.5,31.2 -36.4,31.9 -38.6,31.6 -41,30.2 -43.3,27.9 -45.1,25.1 -46.3,22 -46.8,19 -46.3,16.5 -45.1,14.8 -43.3,14.1 -41,14.4 -38.6,15.8 -36.4,18.1 -34.5,20.9 -33.3,24" stroke-width="2.9"/>
<polyline points="-36.8,26.7 -37.7,27.4 -38.9,27.4 -40.3,26.7 -41.6,25.5 -42.6,23.8 -43.2,22.1 -43.3,20.5 -42.8,19.3 -41.9,18.6 -40.7,18.6 -39.4,19.3 -38.1,20.5" fill="none" stroke-width="2.2"/>
</g>
<g transform="translate(1393 172) scale(0.714)">
<polygon points="-12.2,-22.8 -11.6,-24.3 -10.4,-25.8 -8.7,-27 -6.5,-28 -4,-28.7 -1.4,-29 1.4,-29 4,-28.7 6.5,-28 8.7,-27 10.4,-25.8 11.6,-24.3 12.2,-22.8 12.2,22.8 11.6,24.3 10.4,25.8 8.7,27 6.5,28 4,28.7 1.4,29 -1.4,29 -4,28.7 -6.5,28 -8.7,27 -10.4,25.8 -11.6,24.3 -12.2,22.8" stroke-width="2.5"/>
</g>
<g transform="translate(1393 196) scale(0.714)">
<polygon points="-20.8,-12 -10.4,-22.4 10.4,-22.4 20.8,-12 20.8,14 10.4,24.4 -10.4,24.4 -20.8,14" stroke-width="2.7"/>
<path d="M20.8 14L20.8 -12" stroke-width="2.7"/>
<path d="M10.4 3.6L10.4 -22.4" stroke-width="2.7"/>
<path d="M-10.4 3.6L-10.4 -22.4" stroke-width="2.7"/>
<path d="M-20.8 14L-20.8 -12" stroke-width="2.7"/>
<path d="M-10.4 24.4L-10.4 -1.6" stroke-width="2.7"/>
<path d="M10.4 24.4L10.4 -1.6" stroke-width="2.7"/>
<polygon points="20.8,-12 10.4,-22.4 -10.4,-22.4 -20.8,-12 -10.4,-1.6 10.4,-1.6" stroke-width="2.7"/>
</g>
<g transform="translate(1462 166) scale(0.714)">
<polygon points="0,-10 0.2,-12.1 0.9,-13.8 1.9,-15.1 3.3,-15.9 20.6,-25.9 22.2,-26.2 24.1,-25.9 26,-25 27.9,-23.6 29.7,-21.8 31.4,-19.7 32.8,-17.3 33.8,-14.8 34.4,-12.3 34.6,-10 34.4,-7.9 33.8,-6.2 32.8,-4.9 31.4,-4.1 14.1,5.9 12.4,6.2 10.6,5.9 8.7,5 6.7,3.6 4.9,1.8 3.3,-0.3 1.9,-2.7 0.9,-5.2 0.2,-7.7" stroke-width="2.7"/>
<polygon points="17.3,0 17.1,2.1 16.5,3.8 15.4,5.1 14.1,5.9 12.4,6.2 10.6,5.9 8.7,5 6.7,3.6 4.9,1.8 3.3,-0.3 1.9,-2.7 0.9,-5.2 0.2,-7.6 0,-10 0.2,-12.1 0.9,-13.8 1.9,-15.1 3.3,-15.9 4.9,-16.2 6.7,-15.9 8.7,-15 10.6,-13.6 12.4,-11.8 14.1,-9.7 15.4,-7.3 16.5,-4.8 17.1,-2.4" stroke-width="2.7"/>
<polygon points="9.1,-20.8 15.8,-30.3 33.1,-40.3 46.5,-32.5 53.3,-15.2 46.5,-5.7 29.2,4.3 15.8,-3.5" stroke-width="2.9"/>
<path d="M53.3 -15.2L35.9 -5.2" stroke-width="2.9"/>
<path d="M46.5 -5.7L29.2 4.3" stroke-width="2.9"/>
<path d="M33.1 -13.5L15.8 -3.5" stroke-width="2.9"/>
<path d="M26.4 -30.7L9.1 -20.7" stroke-width="2.9"/>
<path d="M33.1 -40.3L15.8 -30.3" stroke-width="2.9"/>
<path d="M46.5 -32.5L29.2 -22.5" stroke-width="2.9"/>
<polygon points="35.9,-5.2 29.2,4.3 15.8,-3.5 9.1,-20.7 15.8,-30.3 29.2,-22.5" stroke-width="2.9"/>
<polygon points="-20.8,25 -10.4,14.6 10.4,14.6 20.8,25 20.8,46 10.4,56.4 -10.4,56.4 -20.8,46" stroke-width="2.9"/>
<path d="M20.8 46L20.8 25" stroke-width="2.9"/>
<path d="M10.4 35.6L10.4 14.6" stroke-width="2.9"/>
<path d="M-10.4 35.6L-10.4 14.6" stroke-width="2.9"/>
<path d="M-20.8 46L-20.8 25" stroke-width="2.9"/>
<path d="M-10.4 56.4L-10.4 35.4" stroke-width="2.9"/>
<path d="M10.4 56.4L10.4 35.4" stroke-width="2.9"/>
<polygon points="20.8,25 10.4,14.6 -10.4,14.6 -20.8,25 -10.4,35.4 10.4,35.4" stroke-width="2.9"/>
<polygon points="-13.4,7.1 -12.7,5.4 -11.4,3.9 -9.5,2.5 -7.2,1.4 -4.5,0.7 -1.5,0.3 1.5,0.3 4.5,0.7 7.2,1.4 9.5,2.5 11.4,3.9 12.7,5.4 13.4,7.1 13.4,27.9 12.7,29.6 11.4,31.1 9.5,32.5 7.2,33.6 4.5,34.3 1.5,34.7 -1.5,34.7 -4.5,34.3 -7.2,33.6 -9.5,32.5 -11.4,31.1 -12.7,29.6 -13.4,27.9" stroke-width="2.7"/>
<polygon points="9.5,13.5 11.4,12.1 12.7,10.6 13.4,8.9 13.4,7.1 12.7,5.4 11.4,3.9 9.5,2.5 7.2,1.4 4.4,0.7 1.5,0.3 -1.5,0.3 -4.4,0.7 -7.2,1.4 -9.5,2.5 -11.4,3.9 -12.7,5.4 -13.4,7.1 -13.4,8.9 -12.7,10.6 -11.4,12.1 -9.5,13.5 -7.2,14.6 -4.4,15.3 -1.5,15.7 1.5,15.7 4.4,15.3 7.2,14.6" stroke-width="2.7"/>
<polygon points="-26.8,-6.5 -7.8,4.5 26.8,-15.5 7.8,-26.5"/>
<polygon points="-26.8,-6.5 -7.8,4.5 -7.8,26.5 -26.8,15.5"/>
<polygon points="-7.8,4.5 26.8,-15.5 26.8,6.5 -7.8,26.5"/>
<path d="M-17.3 -5L8.7 -20" stroke-width="2.2"/>
<polygon points="-32.9,9 -32.7,6.9 -32,5.2 -31,3.9 -29.6,3.1 -14.1,-5.9 -12.4,-6.2 -10.6,-5.9 -8.7,-5 -6.7,-3.6 -4.9,-1.8 -3.3,0.3 -1.9,2.7 -0.9,5.2 -0.2,7.7 0,10 -0.2,12.1 -0.9,13.8 -1.9,15.1 -3.3,15.9 -18.9,24.9 -20.5,25.2 -22.3,24.9 -24.2,24 -26.2,22.6 -28,20.8 -29.6,18.7 -31,16.3 -32,13.8 -32.7,11.3" stroke-width="2.7"/>
<polygon points="-15.6,19 -15.8,21.1 -16.4,22.8 -17.5,24.1 -18.8,24.9 -20.5,25.2 -22.3,24.9 -24.2,24 -26.2,22.6 -28,20.8 -29.6,18.7 -31,16.3 -32.1,13.8 -32.7,11.4 -32.9,9 -32.7,6.9 -32.1,5.2 -31,3.9 -29.6,3.1 -28,2.8 -26.2,3.1 -24.2,4 -22.3,5.4 -20.5,7.2 -18.8,9.3 -17.5,11.7 -16.4,14.2 -15.8,16.6" stroke-width="2.7"/>
<polygon points="-53.3,15.2 -46.5,5.7 -29.2,-4.3 -15.8,3.5 -9.1,20.8 -15.8,30.3 -33.1,40.3 -46.5,32.5" stroke-width="2.9"/>
<path d="M-9.1 20.8L-26.4 30.8" stroke-width="2.9"/>
<path d="M-15.8 30.3L-33.1 40.3" stroke-width="2.9"/>
<path d="M-29.2 22.5L-46.5 32.5" stroke-width="2.9"/>
<path d="M-35.9 5.3L-53.3 15.3" stroke-width="2.9"/>
<path d="M-29.2 -4.3L-46.5 5.7" stroke-width="2.9"/>
<path d="M-15.8 3.5L-33.1 13.5" stroke-width="2.9"/>
<polygon points="-26.4,30.8 -33.1,40.3 -46.5,32.5 -53.3,15.3 -46.5,5.7 -33.1,13.5" stroke-width="2.9"/>
<polygon points="-32.9,27 -33.3,29.5 -34.5,31.2 -36.4,31.9 -38.6,31.6 -41,30.2 -43.3,27.9 -45.1,25.1 -46.3,22 -46.8,19 -46.3,16.5 -45.1,14.8 -43.3,14.1 -41,14.4 -38.6,15.8 -36.4,18.1 -34.5,20.9 -33.3,24" stroke-width="2.9"/>
<polyline points="-36.8,26.7 -37.7,27.4 -38.9,27.4 -40.3,26.7 -41.6,25.5 -42.6,23.8 -43.2,22.1 -43.3,20.5 -42.8,19.3 -41.9,18.6 -40.7,18.6 -39.4,19.3 -38.1,20.5" fill="none" stroke-width="2.2"/>
</g>
<g transform="translate(1557 211) scale(0.714)">
<polygon points="-19.9,3.5 -13.4,-13.2 -0.4,-20.7 13.4,-12.7 19.9,-3.5 13.4,13.2 0.4,20.7 -13.4,12.7" stroke-width="2.5"/>
<path d="M6.1 -11.5L19.9 -3.5" stroke-width="2.5"/>
<path d="M-13.4 12.7L0.4 20.7" stroke-width="2.5"/>
<path d="M-19.9 3.5L-6.1 11.5" stroke-width="2.5"/>
<path d="M-13.4 -13.2L0.4 -5.2" stroke-width="2.5"/>
<path d="M-0.4 -20.7L13.4 -12.7" stroke-width="2.5"/>
<polygon points="19.9,-3.5 13.4,13.2 0.4,20.7 -6.1,11.5 0.4,-5.2 13.4,-12.7" stroke-width="2.5"/>
</g>
<g transform="translate(1585 214) scale(0.714)">
<polygon points="-24.2,-14 0,0 24.2,-14 0,-28"/>
<polygon points="-24.2,-14 0,0 0,28 -24.2,14"/>
<polygon points="0,0 24.2,-14 24.2,14 0,28"/>
</g>
<g transform="translate(1600.5 233.5) scale(0.714)">
<polygon points="-26.9,5.5 -17.8,-17.9 0.4,-28.4 19.5,-17.4 28.6,-4.5 19.5,18.9 1.3,29.4 -17.8,18.4" stroke-width="2.9"/>
<path d="M9.5 -15.5L28.6 -4.5" stroke-width="2.9"/>
<path d="M-17.8 18.4L1.3 29.4" stroke-width="2.9"/>
<path d="M-26.8 5.5L-7.8 16.5" stroke-width="2.9"/>
<path d="M-17.8 -17.9L1.3 -6.9" stroke-width="2.9"/>
<path d="M0.4 -28.4L19.5 -17.4" stroke-width="2.9"/>
<polygon points="28.6,-4.5 19.5,18.9 1.3,29.4 -7.8,16.5 1.3,-6.9 19.5,-17.4" stroke-width="2.9"/>
<polygon points="18.2,1.5 17.7,4.8 16.4,8.3 14.3,11.5 11.7,14.1 9,15.6 6.5,16 4.4,15.2 3.1,13.3 2.6,10.5 3.1,7.2 4.4,3.7 6.5,0.5 9,-2.1 11.7,-3.6 14.3,-4 16.4,-3.2 17.7,-1.3" stroke-width="2.9"/>
<polyline points="13.8,6.3 12.8,8.2 11.4,9.8 9.9,10.8 8.4,11 7.3,10.5 6.6,9.3 6.5,7.6 7,5.7 8,3.8 9.4,2.2 10.9,1.2 12.3,1" fill="none" stroke-width="2.2"/>
</g>
<g transform="translate(1697 302) scale(0.714)">
<polygon points="0,-10 0.2,-12.1 0.9,-13.8 1.9,-15.1 3.3,-15.9 20.6,-25.9 22.2,-26.2 24.1,-25.9 26,-25 27.9,-23.6 29.7,-21.8 31.4,-19.7 32.8,-17.3 33.8,-14.8 34.4,-12.3 34.6,-10 34.4,-7.9 33.8,-6.2 32.8,-4.9 31.4,-4.1 14.1,5.9 12.4,6.2 10.6,5.9 8.7,5 6.7,3.6 4.9,1.8 3.3,-0.3 1.9,-2.7 0.9,-5.2 0.2,-7.7" stroke-width="2.7"/>
<polygon points="17.3,0 17.1,2.1 16.5,3.8 15.4,5.1 14.1,5.9 12.4,6.2 10.6,5.9 8.7,5 6.7,3.6 4.9,1.8 3.3,-0.3 1.9,-2.7 0.9,-5.2 0.2,-7.6 0,-10 0.2,-12.1 0.9,-13.8 1.9,-15.1 3.3,-15.9 4.9,-16.2 6.7,-15.9 8.7,-15 10.6,-13.6 12.4,-11.8 14.1,-9.7 15.4,-7.3 16.5,-4.8 17.1,-2.4" stroke-width="2.7"/>
<polygon points="9.1,-20.8 15.8,-30.3 33.1,-40.3 46.5,-32.5 53.3,-15.2 46.5,-5.7 29.2,4.3 15.8,-3.5" stroke-width="2.9"/>
<path d="M53.3 -15.2L35.9 -5.2" stroke-width="2.9"/>
<path d="M46.5 -5.7L29.2 4.3" stroke-width="2.9"/>
<path d="M33.1 -13.5L15.8 -3.5" stroke-width="2.9"/>
<path d="M26.4 -30.7L9.1 -20.7" stroke-width="2.9"/>
<path d="M33.1 -40.3L15.8 -30.3" stroke-width="2.9"/>
<path d="M46.5 -32.5L29.2 -22.5" stroke-width="2.9"/>
<polygon points="35.9,-5.2 29.2,4.3 15.8,-3.5 9.1,-20.7 15.8,-30.3 29.2,-22.5" stroke-width="2.9"/>
<polygon points="-20.8,25 -10.4,14.6 10.4,14.6 20.8,25 20.8,46 10.4,56.4 -10.4,56.4 -20.8,46" stroke-width="2.9"/>
<path d="M20.8 46L20.8 25" stroke-width="2.9"/>
<path d="M10.4 35.6L10.4 14.6" stroke-width="2.9"/>
<path d="M-10.4 35.6L-10.4 14.6" stroke-width="2.9"/>
<path d="M-20.8 46L-20.8 25" stroke-width="2.9"/>
<path d="M-10.4 56.4L-10.4 35.4" stroke-width="2.9"/>
<path d="M10.4 56.4L10.4 35.4" stroke-width="2.9"/>
<polygon points="20.8,25 10.4,14.6 -10.4,14.6 -20.8,25 -10.4,35.4 10.4,35.4" stroke-width="2.9"/>
<polygon points="-13.4,7.1 -12.7,5.4 -11.4,3.9 -9.5,2.5 -7.2,1.4 -4.5,0.7 -1.5,0.3 1.5,0.3 4.5,0.7 7.2,1.4 9.5,2.5 11.4,3.9 12.7,5.4 13.4,7.1 13.4,27.9 12.7,29.6 11.4,31.1 9.5,32.5 7.2,33.6 4.5,34.3 1.5,34.7 -1.5,34.7 -4.5,34.3 -7.2,33.6 -9.5,32.5 -11.4,31.1 -12.7,29.6 -13.4,27.9" stroke-width="2.7"/>
<polygon points="9.5,13.5 11.4,12.1 12.7,10.6 13.4,8.9 13.4,7.1 12.7,5.4 11.4,3.9 9.5,2.5 7.2,1.4 4.4,0.7 1.5,0.3 -1.5,0.3 -4.4,0.7 -7.2,1.4 -9.5,2.5 -11.4,3.9 -12.7,5.4 -13.4,7.1 -13.4,8.9 -12.7,10.6 -11.4,12.1 -9.5,13.5 -7.2,14.6 -4.4,15.3 -1.5,15.7 1.5,15.7 4.4,15.3 7.2,14.6" stroke-width="2.7"/>
<polygon points="-26.8,-6.5 -7.8,4.5 26.8,-15.5 7.8,-26.5"/>
<polygon points="-26.8,-6.5 -7.8,4.5 -7.8,26.5 -26.8,15.5"/>
<polygon points="-7.8,4.5 26.8,-15.5 26.8,6.5 -7.8,26.5"/>
<path d="M-17.3 -5L8.7 -20" stroke-width="2.2"/>
<polygon points="-32.9,9 -32.7,6.9 -32,5.2 -31,3.9 -29.6,3.1 -14.1,-5.9 -12.4,-6.2 -10.6,-5.9 -8.7,-5 -6.7,-3.6 -4.9,-1.8 -3.3,0.3 -1.9,2.7 -0.9,5.2 -0.2,7.7 0,10 -0.2,12.1 -0.9,13.8 -1.9,15.1 -3.3,15.9 -18.9,24.9 -20.5,25.2 -22.3,24.9 -24.2,24 -26.2,22.6 -28,20.8 -29.6,18.7 -31,16.3 -32,13.8 -32.7,11.3" stroke-width="2.7"/>
<polygon points="-15.6,19 -15.8,21.1 -16.4,22.8 -17.5,24.1 -18.8,24.9 -20.5,25.2 -22.3,24.9 -24.2,24 -26.2,22.6 -28,20.8 -29.6,18.7 -31,16.3 -32.1,13.8 -32.7,11.4 -32.9,9 -32.7,6.9 -32.1,5.2 -31,3.9 -29.6,3.1 -28,2.8 -26.2,3.1 -24.2,4 -22.3,5.4 -20.5,7.2 -18.8,9.3 -17.5,11.7 -16.4,14.2 -15.8,16.6" stroke-width="2.7"/>
<polygon points="-53.3,15.2 -46.5,5.7 -29.2,-4.3 -15.8,3.5 -9.1,20.8 -15.8,30.3 -33.1,40.3 -46.5,32.5" stroke-width="2.9"/>
<path d="M-9.1 20.8L-26.4 30.8" stroke-width="2.9"/>
<path d="M-15.8 30.3L-33.1 40.3" stroke-width="2.9"/>
<path d="M-29.2 22.5L-46.5 32.5" stroke-width="2.9"/>
<path d="M-35.9 5.3L-53.3 15.3" stroke-width="2.9"/>
<path d="M-29.2 -4.3L-46.5 5.7" stroke-width="2.9"/>
<path d="M-15.8 3.5L-33.1 13.5" stroke-width="2.9"/>
<polygon points="-26.4,30.8 -33.1,40.3 -46.5,32.5 -53.3,15.3 -46.5,5.7 -33.1,13.5" stroke-width="2.9"/>
<polygon points="-32.9,27 -33.3,29.5 -34.5,31.2 -36.4,31.9 -38.6,31.6 -41,30.2 -43.3,27.9 -45.1,25.1 -46.3,22 -46.8,19 -46.3,16.5 -45.1,14.8 -43.3,14.1 -41,14.4 -38.6,15.8 -36.4,18.1 -34.5,20.9 -33.3,24" stroke-width="2.9"/>
<polyline points="-36.8,26.7 -37.7,27.4 -38.9,27.4 -40.3,26.7 -41.6,25.5 -42.6,23.8 -43.2,22.1 -43.3,20.5 -42.8,19.3 -41.9,18.6 -40.7,18.6 -39.4,19.3 -38.1,20.5" fill="none" stroke-width="2.2"/>
</g>
<g transform="translate(1860 392) scale(0.714)">
<polygon points="0,-10 0.2,-12.1 0.9,-13.8 1.9,-15.1 3.3,-15.9 20.6,-25.9 22.2,-26.2 24.1,-25.9 26,-25 27.9,-23.6 29.7,-21.8 31.4,-19.7 32.8,-17.3 33.8,-14.8 34.4,-12.3 34.6,-10 34.4,-7.9 33.8,-6.2 32.8,-4.9 31.4,-4.1 14.1,5.9 12.4,6.2 10.6,5.9 8.7,5 6.7,3.6 4.9,1.8 3.3,-0.3 1.9,-2.7 0.9,-5.2 0.2,-7.7" stroke-width="2.7"/>
<polygon points="17.3,0 17.1,2.1 16.5,3.8 15.4,5.1 14.1,5.9 12.4,6.2 10.6,5.9 8.7,5 6.7,3.6 4.9,1.8 3.3,-0.3 1.9,-2.7 0.9,-5.2 0.2,-7.6 0,-10 0.2,-12.1 0.9,-13.8 1.9,-15.1 3.3,-15.9 4.9,-16.2 6.7,-15.9 8.7,-15 10.6,-13.6 12.4,-11.8 14.1,-9.7 15.4,-7.3 16.5,-4.8 17.1,-2.4" stroke-width="2.7"/>
<polygon points="9.1,-20.8 15.8,-30.3 33.1,-40.3 46.5,-32.5 53.3,-15.2 46.5,-5.7 29.2,4.3 15.8,-3.5" stroke-width="2.9"/>
<path d="M53.3 -15.2L35.9 -5.2" stroke-width="2.9"/>
<path d="M46.5 -5.7L29.2 4.3" stroke-width="2.9"/>
<path d="M33.1 -13.5L15.8 -3.5" stroke-width="2.9"/>
<path d="M26.4 -30.7L9.1 -20.7" stroke-width="2.9"/>
<path d="M33.1 -40.3L15.8 -30.3" stroke-width="2.9"/>
<path d="M46.5 -32.5L29.2 -22.5" stroke-width="2.9"/>
<polygon points="35.9,-5.2 29.2,4.3 15.8,-3.5 9.1,-20.7 15.8,-30.3 29.2,-22.5" stroke-width="2.9"/>
<polygon points="-20.8,25 -10.4,14.6 10.4,14.6 20.8,25 20.8,46 10.4,56.4 -10.4,56.4 -20.8,46" stroke-width="2.9"/>
<path d="M20.8 46L20.8 25" stroke-width="2.9"/>
<path d="M10.4 35.6L10.4 14.6" stroke-width="2.9"/>
<path d="M-10.4 35.6L-10.4 14.6" stroke-width="2.9"/>
<path d="M-20.8 46L-20.8 25" stroke-width="2.9"/>
<path d="M-10.4 56.4L-10.4 35.4" stroke-width="2.9"/>
<path d="M10.4 56.4L10.4 35.4" stroke-width="2.9"/>
<polygon points="20.8,25 10.4,14.6 -10.4,14.6 -20.8,25 -10.4,35.4 10.4,35.4" stroke-width="2.9"/>
<polygon points="-13.4,7.1 -12.7,5.4 -11.4,3.9 -9.5,2.5 -7.2,1.4 -4.5,0.7 -1.5,0.3 1.5,0.3 4.5,0.7 7.2,1.4 9.5,2.5 11.4,3.9 12.7,5.4 13.4,7.1 13.4,27.9 12.7,29.6 11.4,31.1 9.5,32.5 7.2,33.6 4.5,34.3 1.5,34.7 -1.5,34.7 -4.5,34.3 -7.2,33.6 -9.5,32.5 -11.4,31.1 -12.7,29.6 -13.4,27.9" stroke-width="2.7"/>
<polygon points="9.5,13.5 11.4,12.1 12.7,10.6 13.4,8.9 13.4,7.1 12.7,5.4 11.4,3.9 9.5,2.5 7.2,1.4 4.4,0.7 1.5,0.3 -1.5,0.3 -4.4,0.7 -7.2,1.4 -9.5,2.5 -11.4,3.9 -12.7,5.4 -13.4,7.1 -13.4,8.9 -12.7,10.6 -11.4,12.1 -9.5,13.5 -7.2,14.6 -4.4,15.3 -1.5,15.7 1.5,15.7 4.4,15.3 7.2,14.6" stroke-width="2.7"/>
<polygon points="-26.8,-6.5 -7.8,4.5 26.8,-15.5 7.8,-26.5"/>
<polygon points="-26.8,-6.5 -7.8,4.5 -7.8,26.5 -26.8,15.5"/>
<polygon points="-7.8,4.5 26.8,-15.5 26.8,6.5 -7.8,26.5"/>
<path d="M-17.3 -5L8.7 -20" stroke-width="2.2"/>
<polygon points="-32.9,9 -32.7,6.9 -32,5.2 -31,3.9 -29.6,3.1 -14.1,-5.9 -12.4,-6.2 -10.6,-5.9 -8.7,-5 -6.7,-3.6 -4.9,-1.8 -3.3,0.3 -1.9,2.7 -0.9,5.2 -0.2,7.7 0,10 -0.2,12.1 -0.9,13.8 -1.9,15.1 -3.3,15.9 -18.9,24.9 -20.5,25.2 -22.3,24.9 -24.2,24 -26.2,22.6 -28,20.8 -29.6,18.7 -31,16.3 -32,13.8 -32.7,11.3" stroke-width="2.7"/>
<polygon points="-15.6,19 -15.8,21.1 -16.4,22.8 -17.5,24.1 -18.8,24.9 -20.5,25.2 -22.3,24.9 -24.2,24 -26.2,22.6 -28,20.8 -29.6,18.7 -31,16.3 -32.1,13.8 -32.7,11.4 -32.9,9 -32.7,6.9 -32.1,5.2 -31,3.9 -29.6,3.1 -28,2.8 -26.2,3.1 -24.2,4 -22.3,5.4 -20.5,7.2 -18.8,9.3 -17.5,11.7 -16.4,14.2 -15.8,16.6" stroke-width="2.7"/>
<polygon points="-53.3,15.2 -46.5,5.7 -29.2,-4.3 -15.8,3.5 -9.1,20.8 -15.8,30.3 -33.1,40.3 -46.5,32.5" stroke-width="2.9"/>
<path d="M-9.1 20.8L-26.4 30.8" stroke-width="2.9"/>
<path d="M-15.8 30.3L-33.1 40.3" stroke-width="2.9"/>
<path d="M-29.2 22.5L-46.5 32.5" stroke-width="2.9"/>
<path d="M-35.9 5.3L-53.3 15.3" stroke-width="2.9"/>
<path d="M-29.2 -4.3L-46.5 5.7" stroke-width="2.9"/>
<path d="M-15.8 3.5L-33.1 13.5" stroke-width="2.9"/>
<polygon points="-26.4,30.8 -33.1,40.3 -46.5,32.5 -53.3,15.3 -46.5,5.7 -33.1,13.5" stroke-width="2.9"/>
<polygon points="-32.9,27 -33.3,29.5 -34.5,31.2 -36.4,31.9 -38.6,31.6 -41,30.2 -43.3,27.9 -45.1,25.1 -46.3,22 -46.8,19 -46.3,16.5 -45.1,14.8 -43.3,14.1 -41,14.4 -38.6,15.8 -36.4,18.1 -34.5,20.9 -33.3,24" stroke-width="2.9"/>
<polyline points="-36.8,26.7 -37.7,27.4 -38.9,27.4 -40.3,26.7 -41.6,25.5 -42.6,23.8 -43.2,22.1 -43.3,20.5 -42.8,19.3 -41.9,18.6 -40.7,18.6 -39.4,19.3 -38.1,20.5" fill="none" stroke-width="2.2"/>
</g>
<g transform="translate(2008 493) scale(0.714)">
<polygon points="0,-10 0.2,-12.1 0.9,-13.8 1.9,-15.1 3.3,-15.9 20.6,-25.9 22.2,-26.2 24.1,-25.9 26,-25 27.9,-23.6 29.7,-21.8 31.4,-19.7 32.8,-17.3 33.8,-14.8 34.4,-12.3 34.6,-10 34.4,-7.9 33.8,-6.2 32.8,-4.9 31.4,-4.1 14.1,5.9 12.4,6.2 10.6,5.9 8.7,5 6.7,3.6 4.9,1.8 3.3,-0.3 1.9,-2.7 0.9,-5.2 0.2,-7.7" stroke-width="2.7"/>
<polygon points="17.3,0 17.1,2.1 16.5,3.8 15.4,5.1 14.1,5.9 12.4,6.2 10.6,5.9 8.7,5 6.7,3.6 4.9,1.8 3.3,-0.3 1.9,-2.7 0.9,-5.2 0.2,-7.6 0,-10 0.2,-12.1 0.9,-13.8 1.9,-15.1 3.3,-15.9 4.9,-16.2 6.7,-15.9 8.7,-15 10.6,-13.6 12.4,-11.8 14.1,-9.7 15.4,-7.3 16.5,-4.8 17.1,-2.4" stroke-width="2.7"/>
<polygon points="9.1,-20.8 15.8,-30.3 33.1,-40.3 46.5,-32.5 53.3,-15.2 46.5,-5.7 29.2,4.3 15.8,-3.5" stroke-width="2.9"/>
<path d="M53.3 -15.2L35.9 -5.2" stroke-width="2.9"/>
<path d="M46.5 -5.7L29.2 4.3" stroke-width="2.9"/>
<path d="M33.1 -13.5L15.8 -3.5" stroke-width="2.9"/>
<path d="M26.4 -30.7L9.1 -20.7" stroke-width="2.9"/>
<path d="M33.1 -40.3L15.8 -30.3" stroke-width="2.9"/>
<path d="M46.5 -32.5L29.2 -22.5" stroke-width="2.9"/>
<polygon points="35.9,-5.2 29.2,4.3 15.8,-3.5 9.1,-20.7 15.8,-30.3 29.2,-22.5" stroke-width="2.9"/>
<polygon points="-20.8,25 -10.4,14.6 10.4,14.6 20.8,25 20.8,46 10.4,56.4 -10.4,56.4 -20.8,46" stroke-width="2.9"/>
<path d="M20.8 46L20.8 25" stroke-width="2.9"/>
<path d="M10.4 35.6L10.4 14.6" stroke-width="2.9"/>
<path d="M-10.4 35.6L-10.4 14.6" stroke-width="2.9"/>
<path d="M-20.8 46L-20.8 25" stroke-width="2.9"/>
<path d="M-10.4 56.4L-10.4 35.4" stroke-width="2.9"/>
<path d="M10.4 56.4L10.4 35.4" stroke-width="2.9"/>
<polygon points="20.8,25 10.4,14.6 -10.4,14.6 -20.8,25 -10.4,35.4 10.4,35.4" stroke-width="2.9"/>
<polygon points="-13.4,7.1 -12.7,5.4 -11.4,3.9 -9.5,2.5 -7.2,1.4 -4.5,0.7 -1.5,0.3 1.5,0.3 4.5,0.7 7.2,1.4 9.5,2.5 11.4,3.9 12.7,5.4 13.4,7.1 13.4,27.9 12.7,29.6 11.4,31.1 9.5,32.5 7.2,33.6 4.5,34.3 1.5,34.7 -1.5,34.7 -4.5,34.3 -7.2,33.6 -9.5,32.5 -11.4,31.1 -12.7,29.6 -13.4,27.9" stroke-width="2.7"/>
<polygon points="9.5,13.5 11.4,12.1 12.7,10.6 13.4,8.9 13.4,7.1 12.7,5.4 11.4,3.9 9.5,2.5 7.2,1.4 4.4,0.7 1.5,0.3 -1.5,0.3 -4.4,0.7 -7.2,1.4 -9.5,2.5 -11.4,3.9 -12.7,5.4 -13.4,7.1 -13.4,8.9 -12.7,10.6 -11.4,12.1 -9.5,13.5 -7.2,14.6 -4.4,15.3 -1.5,15.7 1.5,15.7 4.4,15.3 7.2,14.6" stroke-width="2.7"/>
<polygon points="-26.8,-6.5 -7.8,4.5 26.8,-15.5 7.8,-26.5"/>
<polygon points="-26.8,-6.5 -7.8,4.5 -7.8,26.5 -26.8,15.5"/>
<polygon points="-7.8,4.5 26.8,-15.5 26.8,6.5 -7.8,26.5"/>
<path d="M-17.3 -5L8.7 -20" stroke-width="2.2"/>
<polygon points="-32.9,9 -32.7,6.9 -32,5.2 -31,3.9 -29.6,3.1 -14.1,-5.9 -12.4,-6.2 -10.6,-5.9 -8.7,-5 -6.7,-3.6 -4.9,-1.8 -3.3,0.3 -1.9,2.7 -0.9,5.2 -0.2,7.7 0,10 -0.2,12.1 -0.9,13.8 -1.9,15.1 -3.3,15.9 -18.9,24.9 -20.5,25.2 -22.3,24.9 -24.2,24 -26.2,22.6 -28,20.8 -29.6,18.7 -31,16.3 -32,13.8 -32.7,11.3" stroke-width="2.7"/>
<polygon points="-15.6,19 -15.8,21.1 -16.4,22.8 -17.5,24.1 -18.8,24.9 -20.5,25.2 -22.3,24.9 -24.2,24 -26.2,22.6 -28,20.8 -29.6,18.7 -31,16.3 -32.1,13.8 -32.7,11.4 -32.9,9 -32.7,6.9 -32.1,5.2 -31,3.9 -29.6,3.1 -28,2.8 -26.2,3.1 -24.2,4 -22.3,5.4 -20.5,7.2 -18.8,9.3 -17.5,11.7 -16.4,14.2 -15.8,16.6" stroke-width="2.7"/>
<polygon points="-53.3,15.2 -46.5,5.7 -29.2,-4.3 -15.8,3.5 -9.1,20.8 -15.8,30.3 -33.1,40.3 -46.5,32.5" stroke-width="2.9"/>
<path d="M-9.1 20.8L-26.4 30.8" stroke-width="2.9"/>
<path d="M-15.8 30.3L-33.1 40.3" stroke-width="2.9"/>
<path d="M-29.2 22.5L-46.5 32.5" stroke-width="2.9"/>
<path d="M-35.9 5.3L-53.3 15.3" stroke-width="2.9"/>
<path d="M-29.2 -4.3L-46.5 5.7" stroke-width="2.9"/>
<path d="M-15.8 3.5L-33.1 13.5" stroke-width="2.9"/>
<polygon points="-26.4,30.8 -33.1,40.3 -46.5,32.5 -53.3,15.3 -46.5,5.7 -33.1,13.5" stroke-width="2.9"/>
<polygon points="-32.9,27 -33.3,29.5 -34.5,31.2 -36.4,31.9 -38.6,31.6 -41,30.2 -43.3,27.9 -45.1,25.1 -46.3,22 -46.8,19 -46.3,16.5 -45.1,14.8 -43.3,14.1 -41,14.4 -38.6,15.8 -36.4,18.1 -34.5,20.9 -33.3,24" stroke-width="2.9"/>
<polyline points="-36.8,26.7 -37.7,27.4 -38.9,27.4 -40.3,26.7 -41.6,25.5 -42.6,23.8 -43.2,22.1 -43.3,20.5 -42.8,19.3 -41.9,18.6 -40.7,18.6 -39.4,19.3 -38.1,20.5" fill="none" stroke-width="2.2"/>
</g>
<g transform="translate(2148 498) scale(0.714)">
<polygon points="-32.9,-5 -22.5,-19.8 1.7,-33.8 22.5,-21.8 32.9,5 22.5,19.8 -1.7,33.8 -22.5,21.8" stroke-width="2.7"/>
<path d="M32.9 5L8.7 19" stroke-width="2.7"/>
<path d="M22.5 19.8L-1.7 33.8" stroke-width="2.7"/>
<path d="M-8.7 -19L-32.9 -5" stroke-width="2.7"/>
<path d="M1.7 -33.8L-22.5 -19.8" stroke-width="2.7"/>
<path d="M22.5 -21.8L-1.7 -7.8" stroke-width="2.7"/>
<polygon points="8.7,19 -1.7,33.8 -22.5,21.8 -32.9,-5 -22.5,-19.8 -1.7,-7.8" stroke-width="2.7"/>
<polygon points="-43.6,7.5 -36.3,-3 -22.4,-11 -7.7,-2.5 -0.3,16.5 -7.7,27 -21.6,35 -36.3,26.5" stroke-width="2.5"/>
<path d="M-0.3 16.5L-14.2 24.5" stroke-width="2.5"/>
<path d="M-7.7 27L-21.6 35" stroke-width="2.5"/>
<path d="M-29.8 -0.5L-43.7 7.5" stroke-width="2.5"/>
<path d="M-22.4 -11L-36.3 -3" stroke-width="2.5"/>
<path d="M-7.7 -2.5L-21.6 5.5" stroke-width="2.5"/>
<polygon points="-14.2,24.5 -21.6,35 -36.3,26.5 -43.7,7.5 -36.3,-3 -21.6,5.5" stroke-width="2.5"/>
</g>
<g transform="translate(2168 508) scale(0.714)">
<polygon points="-23.4,3.5 -16,-15.5 -1.3,-24 16,-14 23.4,-3.5 16,15.5 1.3,24 -16,14" stroke-width="2.5"/>
<path d="M6.1 -13.5L23.4 -3.5" stroke-width="2.5"/>
<path d="M-16 14L1.3 24" stroke-width="2.5"/>
<path d="M-23.4 3.5L-6.1 13.5" stroke-width="2.5"/>
<path d="M-16 -15.5L1.3 -5.5" stroke-width="2.5"/>
<path d="M-1.3 -24L16 -14" stroke-width="2.5"/>
<polygon points="23.4,-3.5 16,15.5 1.3,24 -6.1,13.5 1.3,-5.5 16,-14" stroke-width="2.5"/>
</g>
<g transform="translate(2175 580) scale(0.714)">
<polygon points="0,-10 0.2,-12.1 0.9,-13.8 1.9,-15.1 3.3,-15.9 20.6,-25.9 22.2,-26.2 24.1,-25.9 26,-25 27.9,-23.6 29.7,-21.8 31.4,-19.7 32.8,-17.3 33.8,-14.8 34.4,-12.3 34.6,-10 34.4,-7.9 33.8,-6.2 32.8,-4.9 31.4,-4.1 14.1,5.9 12.4,6.2 10.6,5.9 8.7,5 6.7,3.6 4.9,1.8 3.3,-0.3 1.9,-2.7 0.9,-5.2 0.2,-7.7" stroke-width="2.7"/>
<polygon points="17.3,0 17.1,2.1 16.5,3.8 15.4,5.1 14.1,5.9 12.4,6.2 10.6,5.9 8.7,5 6.7,3.6 4.9,1.8 3.3,-0.3 1.9,-2.7 0.9,-5.2 0.2,-7.6 0,-10 0.2,-12.1 0.9,-13.8 1.9,-15.1 3.3,-15.9 4.9,-16.2 6.7,-15.9 8.7,-15 10.6,-13.6 12.4,-11.8 14.1,-9.7 15.4,-7.3 16.5,-4.8 17.1,-2.4" stroke-width="2.7"/>
<polygon points="9.1,-20.8 15.8,-30.3 33.1,-40.3 46.5,-32.5 53.3,-15.2 46.5,-5.7 29.2,4.3 15.8,-3.5" stroke-width="2.9"/>
<path d="M53.3 -15.2L35.9 -5.2" stroke-width="2.9"/>
<path d="M46.5 -5.7L29.2 4.3" stroke-width="2.9"/>
<path d="M33.1 -13.5L15.8 -3.5" stroke-width="2.9"/>
<path d="M26.4 -30.7L9.1 -20.7" stroke-width="2.9"/>
<path d="M33.1 -40.3L15.8 -30.3" stroke-width="2.9"/>
<path d="M46.5 -32.5L29.2 -22.5" stroke-width="2.9"/>
<polygon points="35.9,-5.2 29.2,4.3 15.8,-3.5 9.1,-20.7 15.8,-30.3 29.2,-22.5" stroke-width="2.9"/>
<polygon points="-20.8,25 -10.4,14.6 10.4,14.6 20.8,25 20.8,46 10.4,56.4 -10.4,56.4 -20.8,46" stroke-width="2.9"/>
<path d="M20.8 46L20.8 25" stroke-width="2.9"/>
<path d="M10.4 35.6L10.4 14.6" stroke-width="2.9"/>
<path d="M-10.4 35.6L-10.4 14.6" stroke-width="2.9"/>
<path d="M-20.8 46L-20.8 25" stroke-width="2.9"/>
<path d="M-10.4 56.4L-10.4 35.4" stroke-width="2.9"/>
<path d="M10.4 56.4L10.4 35.4" stroke-width="2.9"/>
<polygon points="20.8,25 10.4,14.6 -10.4,14.6 -20.8,25 -10.4,35.4 10.4,35.4" stroke-width="2.9"/>
<polygon points="-13.4,7.1 -12.7,5.4 -11.4,3.9 -9.5,2.5 -7.2,1.4 -4.5,0.7 -1.5,0.3 1.5,0.3 4.5,0.7 7.2,1.4 9.5,2.5 11.4,3.9 12.7,5.4 13.4,7.1 13.4,27.9 12.7,29.6 11.4,31.1 9.5,32.5 7.2,33.6 4.5,34.3 1.5,34.7 -1.5,34.7 -4.5,34.3 -7.2,33.6 -9.5,32.5 -11.4,31.1 -12.7,29.6 -13.4,27.9" stroke-width="2.7"/>
<polygon points="9.5,13.5 11.4,12.1 12.7,10.6 13.4,8.9 13.4,7.1 12.7,5.4 11.4,3.9 9.5,2.5 7.2,1.4 4.4,0.7 1.5,0.3 -1.5,0.3 -4.4,0.7 -7.2,1.4 -9.5,2.5 -11.4,3.9 -12.7,5.4 -13.4,7.1 -13.4,8.9 -12.7,10.6 -11.4,12.1 -9.5,13.5 -7.2,14.6 -4.4,15.3 -1.5,15.7 1.5,15.7 4.4,15.3 7.2,14.6" stroke-width="2.7"/>
<polygon points="-26.8,-6.5 -7.8,4.5 26.8,-15.5 7.8,-26.5"/>
<polygon points="-26.8,-6.5 -7.8,4.5 -7.8,26.5 -26.8,15.5"/>
<polygon points="-7.8,4.5 26.8,-15.5 26.8,6.5 -7.8,26.5"/>
<path d="M-17.3 -5L8.7 -20" stroke-width="2.2"/>
<polygon points="-32.9,9 -32.7,6.9 -32,5.2 -31,3.9 -29.6,3.1 -14.1,-5.9 -12.4,-6.2 -10.6,-5.9 -8.7,-5 -6.7,-3.6 -4.9,-1.8 -3.3,0.3 -1.9,2.7 -0.9,5.2 -0.2,7.7 0,10 -0.2,12.1 -0.9,13.8 -1.9,15.1 -3.3,15.9 -18.9,24.9 -20.5,25.2 -22.3,24.9 -24.2,24 -26.2,22.6 -28,20.8 -29.6,18.7 -31,16.3 -32,13.8 -32.7,11.3" stroke-width="2.7"/>
<polygon points="-15.6,19 -15.8,21.1 -16.4,22.8 -17.5,24.1 -18.8,24.9 -20.5,25.2 -22.3,24.9 -24.2,24 -26.2,22.6 -28,20.8 -29.6,18.7 -31,16.3 -32.1,13.8 -32.7,11.4 -32.9,9 -32.7,6.9 -32.1,5.2 -31,3.9 -29.6,3.1 -28,2.8 -26.2,3.1 -24.2,4 -22.3,5.4 -20.5,7.2 -18.8,9.3 -17.5,11.7 -16.4,14.2 -15.8,16.6" stroke-width="2.7"/>
<polygon points="-53.3,15.2 -46.5,5.7 -29.2,-4.3 -15.8,3.5 -9.1,20.8 -15.8,30.3 -33.1,40.3 -46.5,32.5" stroke-width="2.9"/>
<path d="M-9.1 20.8L-26.4 30.8" stroke-width="2.9"/>
<path d="M-15.8 30.3L-33.1 40.3" stroke-width="2.9"/>
<path d="M-29.2 22.5L-46.5 32.5" stroke-width="2.9"/>
<path d="M-35.9 5.3L-53.3 15.3" stroke-width="2.9"/>
<path d="M-29.2 -4.3L-46.5 5.7" stroke-width="2.9"/>
<path d="M-15.8 3.5L-33.1 13.5" stroke-width="2.9"/>
<polygon points="-26.4,30.8 -33.1,40.3 -46.5,32.5 -53.3,15.3 -46.5,5.7 -33.1,13.5" stroke-width="2.9"/>
<polygon points="-32.9,27 -33.3,29.5 -34.5,31.2 -36.4,31.9 -38.6,31.6 -41,30.2 -43.3,27.9 -45.1,25.1 -46.3,22 -46.8,19 -46.3,16.5 -45.1,14.8 -43.3,14.1 -41,14.4 -38.6,15.8 -36.4,18.1 -34.5,20.9 -33.3,24" stroke-width="2.9"/>
<polyline points="-36.8,26.7 -37.7,27.4 -38.9,27.4 -40.3,26.7 -41.6,25.5 -42.6,23.8 -43.2,22.1 -43.3,20.5 -42.8,19.3 -41.9,18.6 -40.7,18.6 -39.4,19.3 -38.1,20.5" fill="none" stroke-width="2.2"/>
</g>
<g transform="translate(2245 632) scale(0.714)">
<polygon points="0,-10 0.2,-12.1 0.9,-13.8 1.9,-15.1 3.3,-15.9 20.6,-25.9 22.2,-26.2 24.1,-25.9 26,-25 27.9,-23.6 29.7,-21.8 31.4,-19.7 32.8,-17.3 33.8,-14.8 34.4,-12.3 34.6,-10 34.4,-7.9 33.8,-6.2 32.8,-4.9 31.4,-4.1 14.1,5.9 12.4,6.2 10.6,5.9 8.7,5 6.7,3.6 4.9,1.8 3.3,-0.3 1.9,-2.7 0.9,-5.2 0.2,-7.7" stroke-width="2.7"/>
<polygon points="17.3,0 17.1,2.1 16.5,3.8 15.4,5.1 14.1,5.9 12.4,6.2 10.6,5.9 8.7,5 6.7,3.6 4.9,1.8 3.3,-0.3 1.9,-2.7 0.9,-5.2 0.2,-7.6 0,-10 0.2,-12.1 0.9,-13.8 1.9,-15.1 3.3,-15.9 4.9,-16.2 6.7,-15.9 8.7,-15 10.6,-13.6 12.4,-11.8 14.1,-9.7 15.4,-7.3 16.5,-4.8 17.1,-2.4" stroke-width="2.7"/>
<polygon points="9.1,-20.8 15.8,-30.3 33.1,-40.3 46.5,-32.5 53.3,-15.2 46.5,-5.7 29.2,4.3 15.8,-3.5" stroke-width="2.9"/>
<path d="M53.3 -15.2L35.9 -5.2" stroke-width="2.9"/>
<path d="M46.5 -5.7L29.2 4.3" stroke-width="2.9"/>
<path d="M33.1 -13.5L15.8 -3.5" stroke-width="2.9"/>
<path d="M26.4 -30.7L9.1 -20.7" stroke-width="2.9"/>
<path d="M33.1 -40.3L15.8 -30.3" stroke-width="2.9"/>
<path d="M46.5 -32.5L29.2 -22.5" stroke-width="2.9"/>
<polygon points="35.9,-5.2 29.2,4.3 15.8,-3.5 9.1,-20.7 15.8,-30.3 29.2,-22.5" stroke-width="2.9"/>
<polygon points="-20.8,25 -10.4,14.6 10.4,14.6 20.8,25 20.8,46 10.4,56.4 -10.4,56.4 -20.8,46" stroke-width="2.9"/>
<path d="M20.8 46L20.8 25" stroke-width="2.9"/>
<path d="M10.4 35.6L10.4 14.6" stroke-width="2.9"/>
<path d="M-10.4 35.6L-10.4 14.6" stroke-width="2.9"/>
<path d="M-20.8 46L-20.8 25" stroke-width="2.9"/>
<path d="M-10.4 56.4L-10.4 35.4" stroke-width="2.9"/>
<path d="M10.4 56.4L10.4 35.4" stroke-width="2.9"/>
<polygon points="20.8,25 10.4,14.6 -10.4,14.6 -20.8,25 -10.4,35.4 10.4,35.4" stroke-width="2.9"/>
<polygon points="-13.4,7.1 -12.7,5.4 -11.4,3.9 -9.5,2.5 -7.2,1.4 -4.5,0.7 -1.5,0.3 1.5,0.3 4.5,0.7 7.2,1.4 9.5,2.5 11.4,3.9 12.7,5.4 13.4,7.1 13.4,27.9 12.7,29.6 11.4,31.1 9.5,32.5 7.2,33.6 4.5,34.3 1.5,34.7 -1.5,34.7 -4.5,34.3 -7.2,33.6 -9.5,32.5 -11.4,31.1 -12.7,29.6 -13.4,27.9" stroke-width="2.7"/>
<polygon points="9.5,13.5 11.4,12.1 12.7,10.6 13.4,8.9 13.4,7.1 12.7,5.4 11.4,3.9 9.5,2.5 7.2,1.4 4.4,0.7 1.5,0.3 -1.5,0.3 -4.4,0.7 -7.2,1.4 -9.5,2.5 -11.4,3.9 -12.7,5.4 -13.4,7.1 -13.4,8.9 -12.7,10.6 -11.4,12.1 -9.5,13.5 -7.2,14.6 -4.4,15.3 -1.5,15.7 1.5,15.7 4.4,15.3 7.2,14.6" stroke-width="2.7"/>
<polygon points="-26.8,-6.5 -7.8,4.5 26.8,-15.5 7.8,-26.5"/>
<polygon points="-26.8,-6.5 -7.8,4.5 -7.8,26.5 -26.8,15.5"/>
<polygon points="-7.8,4.5 26.8,-15.5 26.8,6.5 -7.8,26.5"/>
<path d="M-17.3 -5L8.7 -20" stroke-width="2.2"/>
<polygon points="-32.9,9 -32.7,6.9 -32,5.2 -31,3.9 -29.6,3.1 -14.1,-5.9 -12.4,-6.2 -10.6,-5.9 -8.7,-5 -6.7,-3.6 -4.9,-1.8 -3.3,0.3 -1.9,2.7 -0.9,5.2 -0.2,7.7 0,10 -0.2,12.1 -0.9,13.8 -1.9,15.1 -3.3,15.9 -18.9,24.9 -20.5,25.2 -22.3,24.9 -24.2,24 -26.2,22.6 -28,20.8 -29.6,18.7 -31,16.3 -32,13.8 -32.7,11.3" stroke-width="2.7"/>
<polygon points="-15.6,19 -15.8,21.1 -16.4,22.8 -17.5,24.1 -18.8,24.9 -20.5,25.2 -22.3,24.9 -24.2,24 -26.2,22.6 -28,20.8 -29.6,18.7 -31,16.3 -32.1,13.8 -32.7,11.4 -32.9,9 -32.7,6.9 -32.1,5.2 -31,3.9 -29.6,3.1 -28,2.8 -26.2,3.1 -24.2,4 -22.3,5.4 -20.5,7.2 -18.8,9.3 -17.5,11.7 -16.4,14.2 -15.8,16.6" stroke-width="2.7"/>
<polygon points="-53.3,15.2 -46.5,5.7 -29.2,-4.3 -15.8,3.5 -9.1,20.8 -15.8,30.3 -33.1,40.3 -46.5,32.5" stroke-width="2.9"/>
<path d="M-9.1 20.8L-26.4 30.8" stroke-width="2.9"/>
<path d="M-15.8 30.3L-33.1 40.3" stroke-width="2.9"/>
<path d="M-29.2 22.5L-46.5 32.5" stroke-width="2.9"/>
<path d="M-35.9 5.3L-53.3 15.3" stroke-width="2.9"/>
<path d="M-29.2 -4.3L-46.5 5.7" stroke-width="2.9"/>
<path d="M-15.8 3.5L-33.1 13.5" stroke-width="2.9"/>
<polygon points="-26.4,30.8 -33.1,40.3 -46.5,32.5 -53.3,15.3 -46.5,5.7 -33.1,13.5" stroke-width="2.9"/>
<polygon points="-32.9,27 -33.3,29.5 -34.5,31.2 -36.4,31.9 -38.6,31.6 -41,30.2 -43.3,27.9 -45.1,25.1 -46.3,22 -46.8,19 -46.3,16.5 -45.1,14.8 -43.3,14.1 -41,14.4 -38.6,15.8 -36.4,18.1 -34.5,20.9 -33.3,24" stroke-width="2.9"/>
<polyline points="-36.8,26.7 -37.7,27.4 -38.9,27.4 -40.3,26.7 -41.6,25.5 -42.6,23.8 -43.2,22.1 -43.3,20.5 -42.8,19.3 -41.9,18.6 -40.7,18.6 -39.4,19.3 -38.1,20.5" fill="none" stroke-width="2.2"/>
</g>
<g transform="translate(1330.6 188) scale(0.714)">
<polygon points="-24.5,-10 -12.2,-22.2 12.2,-22.2 24.5,-10 24.5,12 12.2,24.2 -12.2,24.2 -24.5,12" stroke-width="2.7"/>
<path d="M24.5 12L24.5 -10" stroke-width="2.7"/>
<path d="M-24.5 12L-24.5 -10" stroke-width="2.7"/>
<path d="M-12.2 24.2L-12.2 2.2" stroke-width="2.7"/>
<path d="M12.2 24.2L12.2 2.2" stroke-width="2.7"/>
<polygon points="24.5,-10 12.2,-22.2 -12.2,-22.2 -24.5,-10 -12.2,2.2 12.2,2.2" stroke-width="2.7"/>
</g>
<path d="M1316 199L1312 214L1312 228M1346 199L1350 214L1350 228" fill="none" stroke-width="2.7"/>
<path d="M1316 207L1346 207" fill="none" stroke-width="2.5" stroke-dasharray="8 5"/>
<path d="M1240.4 318C1237.2 323.7 1224.3 340.3 1221 352C1217.7 363.7 1215.5 375.6 1220.6 388.2C1225.7 400.8 1239.3 416.5 1251.4 427.9C1263.5 439.3 1286.3 451.8 1293.3 456.6" fill="none" stroke-width="22"/>
<path d="M1240.4 318C1237.2 323.7 1224.3 340.3 1221 352C1217.7 363.7 1215.5 375.6 1220.6 388.2C1225.7 400.8 1239.3 416.5 1251.4 427.9C1263.5 439.3 1286.3 451.8 1293.3 456.6" fill="none" stroke="#fff" stroke-width="16.4"/>
<polygon points="1146.3,220.9 1217.3,261.9 1285.3,222.7 1214.3,181.7"/>
<polygon points="1146.3,220.9 1217.3,261.9 1217.3,337.5 1146.3,296.5"/>
<polygon points="1217.3,261.9 1285.3,222.7 1285.3,298.2 1217.3,337.5"/>
<g transform="matrix(0.866 0.5 0 1 1146.3 220.9)"><rect x="-4" y="20" width="62" height="66" rx="22" ry="22"/><path d="M50 24Q62 52 50 84" fill="none"/><ellipse cx="8" cy="28" rx="7" ry="7"/><ellipse cx="36" cy="28" rx="7" ry="7"/><ellipse cx="8" cy="78" rx="7" ry="7"/><ellipse cx="36" cy="78" rx="7" ry="7"/></g>
<path d="M1285 276L1250 296Q1226 310 1220 330" fill="none" stroke-width="2.9" stroke-dasharray="22 9"/>
<path d="M1300 262L1330 246" fill="none" stroke-width="2.9" stroke-dasharray="22 9"/>
<use href="#ps" transform="matrix(0.6183 0.357 0 0.714 1332.7 273)"/>
<g transform="translate(1322 282) scale(0.714)">
<polygon points="22.5,-1 22,2.4 20.5,4.9 18.2,6.2 15.3,6.3 12.1,5 8.9,2.6 6,-0.8 3.7,-4.8 2.2,-9 1.7,-13 2.2,-16.4 3.7,-18.9 6,-20.2 8.9,-20.3 12.1,-19 15.3,-16.6 18.2,-13.2 20.5,-9.2 22,-5" stroke-width="2.5"/>
<polygon points="18.6,1.2 18.1,4.7 16.6,7.2 14.3,8.5 11.4,8.5 8.2,7.2 5,4.8 2.1,1.4 -0.2,-2.6 -1.7,-6.7 -2.2,-10.7 -1.7,-14.2 -0.2,-16.7 2.1,-18 5,-18 8.2,-16.8 11.4,-14.3 14.3,-10.9 16.6,-6.9 18.1,-2.8" stroke-width="2.5"/>
<polygon points="14.7,3.5 14.2,6.9 12.7,9.4 10.4,10.7 7.5,10.8 4.3,9.5 1.1,7.1 -1.8,3.7 -4.1,-0.3 -5.6,-4.5 -6.1,-8.5 -5.6,-11.9 -4.1,-14.4 -1.8,-15.7 1.1,-15.8 4.3,-14.5 7.5,-12.1 10.4,-8.7 12.7,-4.7 14.2,-0.5" stroke-width="2.5"/>
<polygon points="10.8,5.8 10.3,9.2 8.8,11.7 6.5,13 3.6,13 0.4,11.8 -2.8,9.3 -5.7,5.9 -8,1.9 -9.5,-2.2 -10,-6.2 -9.5,-9.7 -8,-12.2 -5.7,-13.5 -2.8,-13.5 0.4,-12.3 3.6,-9.8 6.5,-6.4 8.8,-2.4 10.3,1.7" stroke-width="2.5"/>
<polygon points="6.9,8 6.4,11.4 4.9,13.9 2.6,15.2 -0.3,15.3 -3.5,14 -6.7,11.6 -9.6,8.2 -11.9,4.2 -13.3,0 -13.9,-4 -13.3,-7.4 -11.9,-9.9 -9.6,-11.2 -6.7,-11.3 -3.5,-10 -0.3,-7.6 2.6,-4.2 4.9,-0.2 6.4,4" stroke-width="2.5"/>
<polygon points="3,10.2 2.5,13.7 1,16.2 -1.3,17.5 -4.1,17.5 -7.4,16.2 -10.6,13.8 -13.5,10.4 -15.8,6.4 -17.2,2.3 -17.8,-1.7 -17.2,-5.2 -15.8,-7.7 -13.5,-9 -10.6,-9 -7.4,-7.8 -4.1,-5.3 -1.3,-1.9 1,2.1 2.5,6.2" stroke-width="2.5"/>
<polygon points="-0.9,12.5 -1.4,15.9 -2.9,18.4 -5.1,19.7 -8,19.8 -11.3,18.5 -14.5,16.1 -17.4,12.7 -19.7,8.7 -21.1,4.5 -21.7,0.5 -21.1,-2.9 -19.7,-5.4 -17.4,-6.7 -14.5,-6.8 -11.3,-5.5 -8,-3.1 -5.1,0.3 -2.9,4.3 -1.4,8.5" stroke-width="2.5"/>
<polygon points="-4.8,14.8 -5.3,18.2 -6.7,20.7 -9,22 -11.9,22 -15.2,20.8 -18.4,18.3 -21.3,14.9 -23.6,10.9 -25,6.8 -25.5,2.8 -25,-0.7 -23.6,-3.2 -21.3,-4.5 -18.4,-4.5 -15.2,-3.3 -11.9,-0.8 -9,2.6 -6.7,6.6 -5.3,10.7" stroke-width="2.5"/>
<polygon points="-8.7,17 -9.2,20.4 -10.6,22.9 -12.9,24.2 -15.8,24.3 -19.1,23 -22.3,20.6 -25.2,17.2 -27.5,13.2 -28.9,9 -29.4,5 -28.9,1.6 -27.5,-0.9 -25.2,-2.2 -22.3,-2.3 -19.1,-1 -15.8,1.4 -12.9,4.8 -10.6,8.8 -9.2,13" stroke-width="2.5"/>
<polyline points="-15.1,17.2 -16.5,17.7 -18.3,17.4 -20.1,16.2 -21.9,14.4 -23.2,12.1 -24.1,9.7 -24.2,7.5 -23.7,5.7 -22.6,4.6 -21.1,4.3 -19.2,4.9 -17.4,6.3 -15.8,8.3 -14.6,10.6" fill="none" stroke-width="2.5"/>
</g>
<path d="M1298.9 303.3L1298.6 289.7" stroke-width="1.6"/>
<path d="M1293.1 292.7L1304.4 300.3" stroke-width="1.6"/>
<path d="M1303.9 299.5L1304.6 287.5" stroke-width="1.6"/>
<path d="M1299.1 290.5L1309.4 296.5" stroke-width="1.6"/>
<path d="M1309 295.7L1310.5 285.3" stroke-width="1.6"/>
<path d="M1305 288.3L1314.5 292.7" stroke-width="1.6"/>
<path d="M1314.1 291.9L1316.4 283.1" stroke-width="1.6"/>
<path d="M1310.9 286.1L1319.6 288.9" stroke-width="1.6"/>
<g transform="translate(1356.4 372.8) scale(0.714)">
<polygon points="0,0 101.3,58.5 237.3,-20 136,-78.5"/>
<polygon points="0,0 101.3,58.5 101.3,208.5 0,150"/>
<polygon points="101.3,58.5 237.3,-20 237.3,130 101.3,208.5"/>
<use href="#bf" transform="matrix(0.866 0.5 0 1 0 0)"/>
<use href="#br" transform="matrix(0.866 -0.5 0 1 101.325 58.5)"/>
<polygon points="66.3,-62.8 144.2,-17.8 222.1,-62.8 144.2,-107.8"/>
<polygon points="66.3,-62.8 144.2,-17.8 144.2,20.2 66.3,-24.8"/>
<polygon points="144.2,-17.8 222.1,-62.8 222.1,-24.8 144.2,20.2"/>
<use href="#c3" transform="matrix(0.866 0.5 0.866 -0.5 66.2509 -62.75)"/>
<ellipse cx="144.2" cy="-61.8" rx="23.5" ry="13.5"/>
<polygon points="120.3,-74.8 132.2,-86.7 156.1,-86.7 168.1,-74.8 168.1,-63.8 156.1,-51.8 132.2,-51.8 120.3,-63.8"/>
<path d="M168.1 -63.8L168.1 -74.8"/>
<path d="M120.3 -63.8L120.3 -74.8"/>
<path d="M132.3 -51.8L132.3 -62.8"/>
<path d="M156.1 -51.8L156.1 -62.8"/>
<polygon points="168.1,-74.8 156.1,-86.7 132.3,-86.7 120.3,-74.8 132.3,-62.8 156.1,-62.8"/>
<polygon points="130.2,-89.7 130.9,-91.4 132.3,-93.1 134.2,-94.5 136.7,-95.6 139.5,-96.4 142.6,-96.8 145.8,-96.8 148.8,-96.4 151.7,-95.6 154.2,-94.5 156.1,-93.1 157.5,-91.4 158.2,-89.7 158.2,-73.8 157.5,-72.1 156.1,-70.4 154.2,-69 151.7,-67.9 148.8,-67.1 145.8,-66.7 142.6,-66.7 139.5,-67.1 136.7,-67.9 134.2,-69 132.3,-70.4 130.9,-72.1 130.2,-73.8"/>
<polygon points="154.2,-83 156.1,-84.4 157.5,-86.1 158.2,-87.8 158.2,-89.7 157.5,-91.4 156.1,-93.1 154.2,-94.5 151.7,-95.6 148.8,-96.4 145.8,-96.8 142.6,-96.8 139.5,-96.4 136.7,-95.6 134.2,-94.5 132.3,-93.1 130.9,-91.4 130.2,-89.7 130.2,-87.8 130.9,-86.1 132.3,-84.4 134.2,-83 136.7,-81.9 139.5,-81.1 142.6,-80.7 145.8,-80.7 148.8,-81.1 151.7,-81.9"/>
<path d="M135.2 -84.8L141.2 -84.8" stroke-width="2.2"/>
<path d="M147.2 -84.8L153.2 -84.8" stroke-width="2.2"/>
</g>
<g transform="translate(1289 441) scale(0.714)">
</g>
<path d="M1333.4 482.2L1325.8 481.1L1295.4 462.5Q1286.2 456.9 1283 450.9Q1284.9 438.5 1295 431.1Q1301.9 431.3 1311 436.9L1341.4 455.5L1346 461.8Z" fill="#fff" stroke-width="2.7"/>
<path d="M1335.8 478.3L1329.1 473.4Q1300.7 456.1 1294 446.4" fill="none" stroke-width="2.5"/>
<path d="M1343.6 465.7L1336.1 461.9Q1307.7 444.5 1296.1 443" fill="none" stroke-width="2.5"/>
<path d="M1325.8 481.1L1329.1 473.4" stroke-width="2.5"/>
<path d="M1341.4 455.5L1336.1 461.9" stroke-width="2.5"/>
<g transform="translate(1348 478) scale(0.714)">
<polygon points="-19.9,3.5 -13.4,-13.2 -0.4,-20.7 13.4,-12.7 19.9,-3.5 13.4,13.2 0.4,20.7 -13.4,12.7" stroke-width="2.5"/>
<path d="M6.1 -11.5L19.9 -3.5" stroke-width="2.5"/>
<path d="M-13.4 12.7L0.4 20.7" stroke-width="2.5"/>
<path d="M-19.9 3.5L-6.1 11.5" stroke-width="2.5"/>
<path d="M-13.4 -13.2L0.4 -5.2" stroke-width="2.5"/>
<path d="M-0.4 -20.7L13.4 -12.7" stroke-width="2.5"/>
<polygon points="19.9,-3.5 13.4,13.2 0.4,20.7 -6.1,11.5 0.4,-5.2 13.4,-12.7" stroke-width="2.5"/>
</g>
<g transform="translate(1364 488) scale(0.714)">
<polygon points="-36.7,-17.8 -37.2,-13.9 -38.6,-9.9 -40.8,-6.1 -43.6,-2.8 -46.7,-0.5 -49.7,0.7 -52.5,0.7 -54.7,-0.6 -56.1,-3 -56.6,-6.2 -56.1,-10.1 -54.7,-14.1 -52.5,-17.9 -49.7,-21.2 -46.7,-23.5 -43.6,-24.7 -40.8,-24.7 -38.6,-23.4 -37.2,-21" stroke-width="2.5"/>
<polygon points="-32.8,-15.5 -33.3,-11.7 -34.7,-7.6 -36.9,-3.8 -39.7,-0.6 -42.8,1.8 -45.8,3 -48.6,2.9 -50.8,1.7 -52.2,-0.7 -52.7,-4 -52.2,-7.8 -50.8,-11.9 -48.6,-15.7 -45.8,-18.9 -42.8,-21.2 -39.7,-22.5 -36.9,-22.4 -34.7,-21.2 -33.3,-18.8" stroke-width="2.5"/>
<polygon points="-28.9,-13.2 -29.4,-9.4 -30.8,-5.4 -33,-1.6 -35.8,1.7 -38.9,4 -41.9,5.2 -44.7,5.2 -46.9,3.9 -48.3,1.5 -48.8,-1.7 -48.3,-5.6 -46.9,-9.6 -44.7,-13.4 -41.9,-16.7 -38.9,-19 -35.8,-20.2 -33,-20.2 -30.8,-18.9 -29.4,-16.5" stroke-width="2.5"/>
<polygon points="-25,-11 -25.5,-7.2 -26.9,-3.1 -29.1,0.7 -31.9,3.9 -35,6.2 -38,7.5 -40.8,7.4 -43,6.2 -44.4,3.8 -44.9,0.5 -44.4,-3.3 -43,-7.4 -40.8,-11.2 -38,-14.4 -35,-16.8 -31.9,-18 -29.1,-17.9 -26.9,-16.7 -25.5,-14.3" stroke-width="2.5"/>
<polygon points="-21.1,-8.8 -21.6,-4.9 -23,-0.9 -25.2,2.9 -28,6.2 -31.1,8.5 -34.1,9.7 -36.9,9.7 -39.1,8.4 -40.5,6 -41,2.8 -40.5,-1.1 -39.1,-5.1 -36.9,-8.9 -34.1,-12.2 -31.1,-14.5 -28,-15.7 -25.2,-15.7 -23,-14.4 -21.6,-12" stroke-width="2.5"/>
<polygon points="56.6,-9.2 56.1,-6 54.7,-3.6 52.5,-2.3 49.7,-2.3 46.7,-3.5 43.6,-5.8 40.8,-9.1 38.6,-12.9 37.2,-16.9 36.7,-20.8 37.2,-24 38.6,-26.4 40.8,-27.7 43.6,-27.7 46.7,-26.5 49.7,-24.2 52.5,-20.9 54.7,-17.1 56.1,-13.1" stroke-width="2.5"/>
<polygon points="52.7,-7 52.2,-3.7 50.8,-1.3 48.6,-0.1 45.8,0 42.8,-1.2 39.7,-3.6 36.9,-6.8 34.7,-10.6 33.3,-14.7 32.8,-18.5 33.3,-21.8 34.7,-24.2 36.9,-25.4 39.7,-25.5 42.8,-24.2 45.8,-21.9 48.6,-18.7 50.8,-14.9 52.2,-10.8" stroke-width="2.5"/>
<polygon points="48.8,-4.8 48.3,-1.5 46.9,0.9 44.7,2.2 41.9,2.2 38.9,1 35.8,-1.3 33,-4.6 30.8,-8.4 29.4,-12.4 28.9,-16.2 29.4,-19.5 30.8,-21.9 33,-23.2 35.8,-23.2 38.9,-22 41.9,-19.7 44.7,-16.4 46.9,-12.6 48.3,-8.6" stroke-width="2.5"/>
<polygon points="44.9,-2.5 44.4,0.8 43,3.2 40.8,4.4 38,4.5 35,3.2 31.9,0.9 29.1,-2.3 26.9,-6.1 25.5,-10.2 25,-14 25.5,-17.3 26.9,-19.7 29.1,-20.9 31.9,-21 35,-19.8 38,-17.4 40.8,-14.2 43,-10.4 44.4,-6.3" stroke-width="2.5"/>
<polygon points="41,-0.2 40.5,3 39.1,5.4 36.9,6.7 34.1,6.7 31.1,5.5 28,3.2 25.2,-0.1 23,-3.9 21.6,-7.9 21.1,-11.7 21.6,-15 23,-17.4 25.2,-18.7 28,-18.7 31.1,-17.5 34.1,-15.2 36.9,-11.9 39.1,-8.1 40.5,-4.1" stroke-width="2.5"/>
<polyline points="34.9,-0.1 33.5,0.4 31.8,0.1 30,-1 28.4,-2.7 27.1,-4.9 26.3,-7.2 26.1,-9.4 26.6,-11.1 27.6,-12.1 29.1,-12.4 30.9,-11.9 32.7,-10.5 34.2,-8.6 35.4,-6.4" fill="none" stroke-width="2.5"/>
<polygon points="11,-7.5 11.3,-10.2 12.1,-12.5 13.5,-14.2 15.2,-15.2 23.9,-20.2 26,-20.5 28.4,-20.1 30.9,-19 33.4,-17.2 35.8,-14.9 38,-12.1 39.7,-9 41.1,-5.8 41.9,-2.6 42.2,0.5 41.9,3.2 41.1,5.5 39.7,7.2 38,8.2 29.3,13.2 27.1,13.5 24.8,13.1 22.3,12 19.8,10.2 17.4,7.9 15.2,5.1 13.5,2 12.1,-1.2 11.3,-4.4" stroke-width="2.7"/>
<polygon points="33.5,5.5 33.2,8.2 32.4,10.5 31.1,12.2 29.3,13.2 27.2,13.5 24.8,13.1 22.3,12 19.8,10.2 17.4,7.9 15.2,5.1 13.5,2 12.1,-1.2 11.3,-4.4 11,-7.5 11.3,-10.2 12.1,-12.5 13.5,-14.2 15.2,-15.2 17.4,-15.5 19.8,-15.1 22.3,-14 24.8,-12.2 27.2,-9.9 29.3,-7.1 31.1,-4 32.4,-0.8 33.2,2.4" stroke-width="2.7"/>
<polygon points="-28.6,-16.5 0.9,0.5 30.3,-16.5 0.9,-33.5"/>
<polygon points="-28.6,-16.5 0.9,0.5 0.9,34.5 -28.6,17.5"/>
<polygon points="0.9,0.5 30.3,-16.5 30.3,17.5 0.9,34.5"/>
<polygon points="-41.3,21 -40.9,16.8 -39.6,13.3 -37.5,10.7 -23.7,2.7 -20.9,1.1 -17.7,0.6 -14,1.3 -10.1,3 -6.3,5.7 -2.6,9.3 0.7,13.6 3.4,18.4 5.5,23.3 6.7,28.3 7.2,33 6.7,37.2 5.5,40.7 3.4,43.3 -10.5,51.3 -13.2,52.9 -16.5,53.4 -20.1,52.7 -24,51 -27.9,48.3 -31.5,44.7 -34.8,40.4 -37.5,35.6 -39.6,30.7 -40.9,25.7" stroke-width="2.9"/>
<polygon points="-6.7,41 -7.1,45.2 -8.4,48.7 -10.5,51.3 -13.2,52.9 -16.5,53.4 -20.1,52.7 -24,51 -27.9,48.3 -31.5,44.7 -34.8,40.4 -37.5,35.7 -39.6,30.7 -40.9,25.7 -41.3,21 -40.9,16.8 -39.6,13.3 -37.5,10.7 -34.8,9.1 -31.5,8.6 -27.9,9.3 -24,11 -20.1,13.7 -16.5,17.3 -13.2,21.6 -10.5,26.3 -8.4,31.3 -7.1,36.3" stroke-width="2.9"/>
<polygon points="-10.6,38.8 -11.2,43.2 -13.1,46.4 -16.1,48.1 -19.9,48.1 -24,46.5 -28.1,43.3 -31.9,39 -34.9,33.8 -36.8,28.4 -37.4,23.3 -36.8,18.8 -34.9,15.6 -31.9,13.9 -28.1,13.9 -24,15.5 -19.9,18.7 -16.1,23 -13.1,28.2 -11.2,33.6" stroke-width="2.5"/>
<polygon points="-17.1,35 -20.5,39.9 -27.5,35.9 -30.9,27 -27.5,22.1 -20.5,26.1" stroke-width="2.2"/>
<polygon points="4.6,30.5 4.9,27.9 5.6,25.2 6.7,22.4 8.2,19.8 10,17.5 12,15.5 14.1,14 16.3,13.1 18.3,12.7 20.1,13 21.6,13.8 30.5,19 32,19.8 33.1,21.3 33.8,23.2 34.1,25.5 33.8,28.1 33.1,30.8 32,33.6 30.5,36.2 28.7,38.5 26.7,40.5 24.5,42 22.4,43 20.4,43.3 18.6,43 17.1,42.2 8.2,37 6.7,36.2 5.6,34.7 4.9,32.8" stroke-width="2.7"/>
<polygon points="34.1,25.5 33.8,28.1 33.1,30.8 32,33.6 30.5,36.2 28.7,38.5 26.7,40.5 24.5,42 22.4,42.9 20.4,43.3 18.6,43 17.1,42.2 16,40.7 15.2,38.8 15,36.5 15.2,33.9 16,31.2 17.1,28.4 18.6,25.8 20.4,23.5 22.4,21.5 24.5,20 26.7,19.1 28.7,18.7 30.5,19 32,19.8 33.1,21.3 33.8,23.2" stroke-width="2.7"/>
<polygon points="32.8,24.2 32.3,28.1 30.9,32.1 28.7,35.9 25.9,39.2 22.8,41.5 19.7,42.7 16.9,42.7 14.7,41.4 13.3,39 12.8,35.8 13.3,31.9 14.7,27.9 16.9,24.1 19.7,20.8 22.8,18.5 25.9,17.3 28.7,17.3 30.9,18.6 32.3,21" stroke-width="2.5"/>
<polygon points="36.7,26.5 36.2,30.3 34.8,34.4 32.6,38.2 29.8,41.4 26.7,43.8 23.6,45 20.8,44.9 18.6,43.7 17.2,41.3 16.7,38 17.2,34.2 18.6,30.1 20.8,26.3 23.6,23.1 26.7,20.8 29.8,19.5 32.6,19.6 34.8,20.8 36.2,23.2" stroke-width="2.5"/>
<polygon points="40.6,28.8 40.1,32.6 38.7,36.6 36.5,40.4 33.7,43.7 30.6,46 27.5,47.2 24.7,47.2 22.5,45.9 21.1,43.5 20.6,40.2 21.1,36.4 22.5,32.4 24.7,28.6 27.5,25.3 30.6,23 33.7,21.8 36.5,21.8 38.7,23.1 40.1,25.5" stroke-width="2.5"/>
<polygon points="44.5,31 44,34.8 42.6,38.9 40.3,42.7 37.6,45.9 34.5,48.2 31.4,49.5 28.6,49.4 26.4,48.2 25,45.8 24.5,42.5 25,38.7 26.4,34.6 28.6,30.8 31.4,27.6 34.5,25.2 37.6,24 40.3,24.1 42.6,25.3 44,27.7" stroke-width="2.5"/>
<polygon points="48.4,33.2 47.9,37.1 46.4,41.1 44.2,44.9 41.5,48.2 38.4,50.5 35.3,51.7 32.5,51.7 30.3,50.4 28.9,48 28.4,44.8 28.9,40.9 30.3,36.9 32.5,33.1 35.3,29.8 38.4,27.5 41.5,26.3 44.2,26.3 46.4,27.6 47.9,30" stroke-width="2.5"/>
<polyline points="42.2,40.5 40.8,42.6 39.1,44.3 37.3,45.2 35.7,45.4 34.4,44.7 33.6,43.3 33.4,41.4 33.9,39.1 35,36.8 36.5,34.8 38.2,33.4 40,32.6 41.5,32.7 42.7,33.6" fill="none" stroke-width="2.5"/>
</g>
<g transform="translate(1398 507) scale(0.714)">
<polygon points="-20.8,4 -13.9,-13.9 0,-21.9 13.9,-13.9 20.8,-4 13.9,13.9 0,21.9 -13.9,13.9" stroke-width="2.5"/>
<path d="M6.9 -12L20.8 -4" stroke-width="2.5"/>
<path d="M-13.9 13.9L0 21.9" stroke-width="2.5"/>
<path d="M-20.8 4L-6.9 12" stroke-width="2.5"/>
<path d="M-13.9 -13.9L0 -5.9" stroke-width="2.5"/>
<path d="M0 -21.9L13.9 -13.9" stroke-width="2.5"/>
<polygon points="20.8,-4 13.9,13.9 0,21.9 -6.9,12 0,-5.9 13.9,-13.9" stroke-width="2.5"/>
</g>
<path d="M1452 533C1455 536.7 1464.5 548.1 1470 555C1475.5 561.9 1476.8 565.3 1485.2 574.4C1493.6 583.5 1505.8 599.4 1520.5 609.7C1535.2 620 1553.6 628.9 1573.4 636.2C1593.2 643.6 1618.5 646.4 1639.6 653.8C1660.7 661.1 1683.5 672.3 1700 680.3C1716.5 688.3 1728.4 696.6 1738.9 701.9C1749.4 707.2 1759 710.3 1763 712" fill="none" stroke-width="22"/>
<path d="M1452 533C1455 536.7 1464.5 548.1 1470 555C1475.5 561.9 1476.8 565.3 1485.2 574.4C1493.6 583.5 1505.8 599.4 1520.5 609.7C1535.2 620 1553.6 628.9 1573.4 636.2C1593.2 643.6 1618.5 646.4 1639.6 653.8C1660.7 661.1 1683.5 672.3 1700 680.3C1716.5 688.3 1728.4 696.6 1738.9 701.9C1749.4 707.2 1759 710.3 1763 712" fill="none" stroke="#fff" stroke-width="16.4"/>
<path d="M1411.9 501.5L1419.3 502.3L1449.3 519.1Q1458.3 524.1 1461.6 529.9Q1460 542.2 1450.4 550.1Q1443.7 550.3 1434.7 545.2L1404.7 528.4L1400.1 522.5Z" fill="#fff" stroke-width="2.7"/>
<path d="M1409.6 505.5L1416.3 510Q1444.3 525.7 1451 534.9" fill="none" stroke-width="2.5"/>
<path d="M1402.4 518.5L1409.7 521.8Q1437.7 537.5 1449 538.4" fill="none" stroke-width="2.5"/>
<path d="M1419.3 502.3L1416.3 510" stroke-width="2.5"/>
<path d="M1404.7 528.4L1409.7 521.8" stroke-width="2.5"/>
<path d="M1805.4 747.4L1797.7 746.2L1767.4 727.7Q1758.3 722.2 1755 716.2Q1757 703.8 1767 696.4Q1773.9 696.6 1783 702.1L1813.3 720.6L1817.8 726.8Z" fill="#fff" stroke-width="2.7"/>
<path d="M1807.7 743.4L1801 738.6Q1772.7 721.3 1766 711.7" fill="none" stroke-width="2.5"/>
<path d="M1815.5 730.8L1808 727Q1779.7 709.8 1768.1 708.3" fill="none" stroke-width="2.5"/>
<path d="M1797.7 746.2L1801 738.6" stroke-width="2.5"/>
<path d="M1813.3 720.6L1808 727" stroke-width="2.5"/>
<g transform="translate(1822 744) scale(0.714)">
<polygon points="-19.9,3.5 -13.4,-13.2 -0.4,-20.7 13.4,-12.7 19.9,-3.5 13.4,13.2 0.4,20.7 -13.4,12.7" stroke-width="2.5"/>
<path d="M6.1 -11.5L19.9 -3.5" stroke-width="2.5"/>
<path d="M-13.4 12.7L0.4 20.7" stroke-width="2.5"/>
<path d="M-19.9 3.5L-6.1 11.5" stroke-width="2.5"/>
<path d="M-13.4 -13.2L0.4 -5.2" stroke-width="2.5"/>
<path d="M-0.4 -20.7L13.4 -12.7" stroke-width="2.5"/>
<polygon points="19.9,-3.5 13.4,13.2 0.4,20.7 -6.1,11.5 0.4,-5.2 13.4,-12.7" stroke-width="2.5"/>
</g>
<g transform="translate(1827 646.8) scale(0.714)">
<polygon points="0,0 101.3,58.5 237.3,-20 136,-78.5"/>
<polygon points="0,0 101.3,58.5 101.3,208.5 0,150"/>
<polygon points="101.3,58.5 237.3,-20 237.3,130 101.3,208.5"/>
<use href="#bf" transform="matrix(0.866 0.5 0 1 0 0)"/>
<use href="#br" transform="matrix(0.866 -0.5 0 1 101.325 58.5)"/>
<polygon points="66.3,-62.8 144.2,-17.8 222.1,-62.8 144.2,-107.8"/>
<polygon points="66.3,-62.8 144.2,-17.8 144.2,20.2 66.3,-24.8"/>
<polygon points="144.2,-17.8 222.1,-62.8 222.1,-24.8 144.2,20.2"/>
<use href="#c3" transform="matrix(0.866 0.5 0.866 -0.5 66.2509 -62.75)"/>
<ellipse cx="144.2" cy="-61.8" rx="23.5" ry="13.5"/>
<polygon points="120.3,-74.8 132.2,-86.7 156.1,-86.7 168.1,-74.8 168.1,-63.8 156.1,-51.8 132.2,-51.8 120.3,-63.8"/>
<path d="M168.1 -63.8L168.1 -74.8"/>
<path d="M120.3 -63.8L120.3 -74.8"/>
<path d="M132.3 -51.8L132.3 -62.8"/>
<path d="M156.1 -51.8L156.1 -62.8"/>
<polygon points="168.1,-74.8 156.1,-86.7 132.3,-86.7 120.3,-74.8 132.3,-62.8 156.1,-62.8"/>
<polygon points="130.2,-89.7 130.9,-91.4 132.3,-93.1 134.2,-94.5 136.7,-95.6 139.5,-96.4 142.6,-96.8 145.8,-96.8 148.8,-96.4 151.7,-95.6 154.2,-94.5 156.1,-93.1 157.5,-91.4 158.2,-89.7 158.2,-73.8 157.5,-72.1 156.1,-70.4 154.2,-69 151.7,-67.9 148.8,-67.1 145.8,-66.7 142.6,-66.7 139.5,-67.1 136.7,-67.9 134.2,-69 132.3,-70.4 130.9,-72.1 130.2,-73.8"/>
<polygon points="154.2,-83 156.1,-84.4 157.5,-86.1 158.2,-87.8 158.2,-89.7 157.5,-91.4 156.1,-93.1 154.2,-94.5 151.7,-95.6 148.8,-96.4 145.8,-96.8 142.6,-96.8 139.5,-96.4 136.7,-95.6 134.2,-94.5 132.3,-93.1 130.9,-91.4 130.2,-89.7 130.2,-87.8 130.9,-86.1 132.3,-84.4 134.2,-83 136.7,-81.9 139.5,-81.1 142.6,-80.7 145.8,-80.7 148.8,-81.1 151.7,-81.9"/>
<path d="M135.2 -84.8L141.2 -84.8" stroke-width="2.2"/>
<path d="M147.2 -84.8L153.2 -84.8" stroke-width="2.2"/>
</g>
<g transform="translate(1853 750) scale(0.714)">
<polygon points="-36.7,-17.8 -37.2,-13.9 -38.6,-9.9 -40.8,-6.1 -43.6,-2.8 -46.7,-0.5 -49.7,0.7 -52.5,0.7 -54.7,-0.6 -56.1,-3 -56.6,-6.2 -56.1,-10.1 -54.7,-14.1 -52.5,-17.9 -49.7,-21.2 -46.7,-23.5 -43.6,-24.7 -40.8,-24.7 -38.6,-23.4 -37.2,-21" stroke-width="2.5"/>
<polygon points="-32.8,-15.5 -33.3,-11.7 -34.7,-7.6 -36.9,-3.8 -39.7,-0.6 -42.8,1.8 -45.8,3 -48.6,2.9 -50.8,1.7 -52.2,-0.7 -52.7,-4 -52.2,-7.8 -50.8,-11.9 -48.6,-15.7 -45.8,-18.9 -42.8,-21.2 -39.7,-22.5 -36.9,-22.4 -34.7,-21.2 -33.3,-18.8" stroke-width="2.5"/>
<polygon points="-28.9,-13.2 -29.4,-9.4 -30.8,-5.4 -33,-1.6 -35.8,1.7 -38.9,4 -41.9,5.2 -44.7,5.2 -46.9,3.9 -48.3,1.5 -48.8,-1.7 -48.3,-5.6 -46.9,-9.6 -44.7,-13.4 -41.9,-16.7 -38.9,-19 -35.8,-20.2 -33,-20.2 -30.8,-18.9 -29.4,-16.5" stroke-width="2.5"/>
<polygon points="-25,-11 -25.5,-7.2 -26.9,-3.1 -29.1,0.7 -31.9,3.9 -35,6.2 -38,7.5 -40.8,7.4 -43,6.2 -44.4,3.8 -44.9,0.5 -44.4,-3.3 -43,-7.4 -40.8,-11.2 -38,-14.4 -35,-16.8 -31.9,-18 -29.1,-17.9 -26.9,-16.7 -25.5,-14.3" stroke-width="2.5"/>
<polygon points="-21.1,-8.8 -21.6,-4.9 -23,-0.9 -25.2,2.9 -28,6.2 -31.1,8.5 -34.1,9.7 -36.9,9.7 -39.1,8.4 -40.5,6 -41,2.8 -40.5,-1.1 -39.1,-5.1 -36.9,-8.9 -34.1,-12.2 -31.1,-14.5 -28,-15.7 -25.2,-15.7 -23,-14.4 -21.6,-12" stroke-width="2.5"/>
<polygon points="56.6,-9.2 56.1,-6 54.7,-3.6 52.5,-2.3 49.7,-2.3 46.7,-3.5 43.6,-5.8 40.8,-9.1 38.6,-12.9 37.2,-16.9 36.7,-20.8 37.2,-24 38.6,-26.4 40.8,-27.7 43.6,-27.7 46.7,-26.5 49.7,-24.2 52.5,-20.9 54.7,-17.1 56.1,-13.1" stroke-width="2.5"/>
<polygon points="52.7,-7 52.2,-3.7 50.8,-1.3 48.6,-0.1 45.8,0 42.8,-1.2 39.7,-3.6 36.9,-6.8 34.7,-10.6 33.3,-14.7 32.8,-18.5 33.3,-21.8 34.7,-24.2 36.9,-25.4 39.7,-25.5 42.8,-24.2 45.8,-21.9 48.6,-18.7 50.8,-14.9 52.2,-10.8" stroke-width="2.5"/>
<polygon points="48.8,-4.8 48.3,-1.5 46.9,0.9 44.7,2.2 41.9,2.2 38.9,1 35.8,-1.3 33,-4.6 30.8,-8.4 29.4,-12.4 28.9,-16.2 29.4,-19.5 30.8,-21.9 33,-23.2 35.8,-23.2 38.9,-22 41.9,-19.7 44.7,-16.4 46.9,-12.6 48.3,-8.6" stroke-width="2.5"/>
<polygon points="44.9,-2.5 44.4,0.8 43,3.2 40.8,4.4 38,4.5 35,3.2 31.9,0.9 29.1,-2.3 26.9,-6.1 25.5,-10.2 25,-14 25.5,-17.3 26.9,-19.7 29.1,-20.9 31.9,-21 35,-19.8 38,-17.4 40.8,-14.2 43,-10.4 44.4,-6.3" stroke-width="2.5"/>
<polygon points="41,-0.2 40.5,3 39.1,5.4 36.9,6.7 34.1,6.7 31.1,5.5 28,3.2 25.2,-0.1 23,-3.9 21.6,-7.9 21.1,-11.7 21.6,-15 23,-17.4 25.2,-18.7 28,-18.7 31.1,-17.5 34.1,-15.2 36.9,-11.9 39.1,-8.1 40.5,-4.1" stroke-width="2.5"/>
<polyline points="34.9,-0.1 33.5,0.4 31.8,0.1 30,-1 28.4,-2.7 27.1,-4.9 26.3,-7.2 26.1,-9.4 26.6,-11.1 27.6,-12.1 29.1,-12.4 30.9,-11.9 32.7,-10.5 34.2,-8.6 35.4,-6.4" fill="none" stroke-width="2.5"/>
<polygon points="11,-7.5 11.3,-10.2 12.1,-12.5 13.5,-14.2 15.2,-15.2 23.9,-20.2 26,-20.5 28.4,-20.1 30.9,-19 33.4,-17.2 35.8,-14.9 38,-12.1 39.7,-9 41.1,-5.8 41.9,-2.6 42.2,0.5 41.9,3.2 41.1,5.5 39.7,7.2 38,8.2 29.3,13.2 27.1,13.5 24.8,13.1 22.3,12 19.8,10.2 17.4,7.9 15.2,5.1 13.5,2 12.1,-1.2 11.3,-4.4" stroke-width="2.7"/>
<polygon points="33.5,5.5 33.2,8.2 32.4,10.5 31.1,12.2 29.3,13.2 27.2,13.5 24.8,13.1 22.3,12 19.8,10.2 17.4,7.9 15.2,5.1 13.5,2 12.1,-1.2 11.3,-4.4 11,-7.5 11.3,-10.2 12.1,-12.5 13.5,-14.2 15.2,-15.2 17.4,-15.5 19.8,-15.1 22.3,-14 24.8,-12.2 27.2,-9.9 29.3,-7.1 31.1,-4 32.4,-0.8 33.2,2.4" stroke-width="2.7"/>
<polygon points="-28.6,-16.5 0.9,0.5 30.3,-16.5 0.9,-33.5"/>
<polygon points="-28.6,-16.5 0.9,0.5 0.9,34.5 -28.6,17.5"/>
<polygon points="0.9,0.5 30.3,-16.5 30.3,17.5 0.9,34.5"/>
<polygon points="-41.3,21 -40.9,16.8 -39.6,13.3 -37.5,10.7 -23.7,2.7 -20.9,1.1 -17.7,0.6 -14,1.3 -10.1,3 -6.3,5.7 -2.6,9.3 0.7,13.6 3.4,18.4 5.5,23.3 6.7,28.3 7.2,33 6.7,37.2 5.5,40.7 3.4,43.3 -10.5,51.3 -13.2,52.9 -16.5,53.4 -20.1,52.7 -24,51 -27.9,48.3 -31.5,44.7 -34.8,40.4 -37.5,35.6 -39.6,30.7 -40.9,25.7" stroke-width="2.9"/>
<polygon points="-6.7,41 -7.1,45.2 -8.4,48.7 -10.5,51.3 -13.2,52.9 -16.5,53.4 -20.1,52.7 -24,51 -27.9,48.3 -31.5,44.7 -34.8,40.4 -37.5,35.7 -39.6,30.7 -40.9,25.7 -41.3,21 -40.9,16.8 -39.6,13.3 -37.5,10.7 -34.8,9.1 -31.5,8.6 -27.9,9.3 -24,11 -20.1,13.7 -16.5,17.3 -13.2,21.6 -10.5,26.3 -8.4,31.3 -7.1,36.3" stroke-width="2.9"/>
<polygon points="-10.6,38.8 -11.2,43.2 -13.1,46.4 -16.1,48.1 -19.9,48.1 -24,46.5 -28.1,43.3 -31.9,39 -34.9,33.8 -36.8,28.4 -37.4,23.3 -36.8,18.8 -34.9,15.6 -31.9,13.9 -28.1,13.9 -24,15.5 -19.9,18.7 -16.1,23 -13.1,28.2 -11.2,33.6" stroke-width="2.5"/>
<polygon points="-17.1,35 -20.5,39.9 -27.5,35.9 -30.9,27 -27.5,22.1 -20.5,26.1" stroke-width="2.2"/>
</g>
<polygon points="1975,186 2003,128.5 2010,140 2039,118.5 2060,147.5 2031,168.5 2039,180.5" stroke-width="2.9"/>
<text x="2076" y="131" font-size="51" text-anchor="start">A</text>
<text x="1985" y="830" font-size="24" fill="#9a9a9a" style="fill:#9a9a9a" transform="rotate(9 1985 830)">k-part.com</text>
<text x="588" y="790" font-size="24" fill="#9a9a9a" style="fill:#9a9a9a" transform="rotate(-15 588 790)">k-part.com</text>
<text x="752" y="2572" font-size="24" fill="#9a9a9a" style="fill:#9a9a9a" transform="rotate(-12 752 2572)">k-part.com</text>
<text x="1842" y="2618" font-size="24" fill="#9a9a9a" style="fill:#9a9a9a" transform="rotate(14 1842 2618)">k-part.com</text>
</svg>
</body></html>
